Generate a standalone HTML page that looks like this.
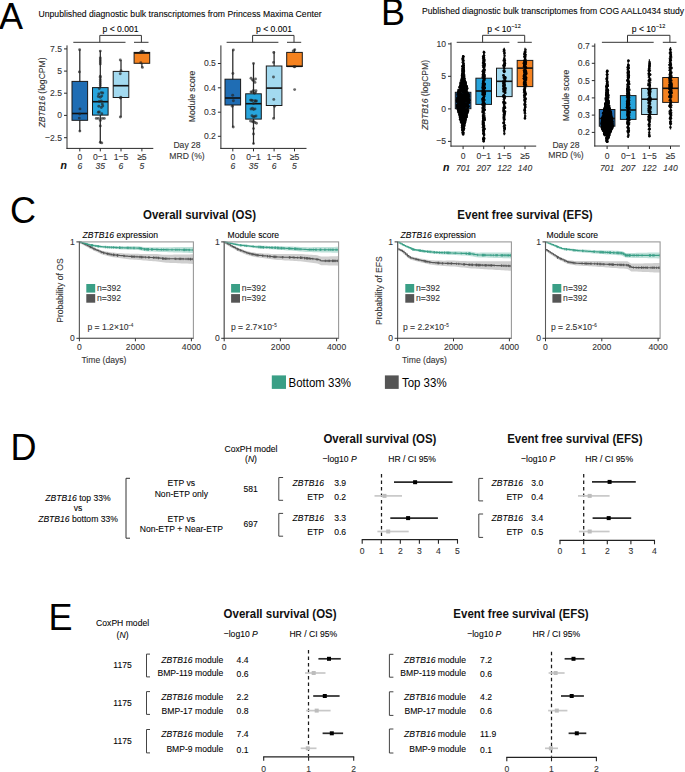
<!DOCTYPE html>
<html><head><meta charset="utf-8"><style>
html,body{margin:0;padding:0;background:#fff;width:685px;height:772px;overflow:hidden}
svg{display:block}
text{font-family:"Liberation Sans", sans-serif}
</style></head><body>
<svg width="685" height="772" viewBox="0 0 685 772">
<rect width="685" height="772" fill="#fff"/>
<text x="-1.00" y="28.90" font-size="36" fill="#000">A</text>
<text x="381.00" y="24.80" font-size="36" fill="#000">B</text>
<text x="10.00" y="223.20" font-size="36" fill="#000">C</text>
<text x="10.60" y="460.00" font-size="36" fill="#000">D</text>
<text x="48.40" y="629.90" font-size="36" fill="#000">E</text>
<text x="0" y="0" font-size="9.34" transform="translate(38.50,17.20) scale(0.9259,1)" stroke="#222" stroke-width="0.1">Unpublished diagnostic bulk transcriptomes from Princess Maxima Center</text>
<text x="0" y="0" font-size="9.29" transform="translate(120.50,31.80) scale(0.9259,1)" text-anchor="middle" stroke="#222" stroke-width="0.1">p &lt; 0.001</text>
<line x1="73.30" y1="42.30" x2="125.50" y2="42.30" stroke="#333" stroke-width="1"/>
<line x1="134.00" y1="42.30" x2="148.50" y2="42.30" stroke="#333" stroke-width="1"/>
<path d="M99.80,42.30 L99.80,35.40 L141.40,35.40 L141.40,42.30" stroke="#333" stroke-width="1" fill="none"/>
<line x1="79.80" y1="49.60" x2="79.80" y2="131.50" stroke="#262626" stroke-width="1.25"/>
<line x1="100.30" y1="50.80" x2="100.30" y2="143.40" stroke="#262626" stroke-width="1.25"/>
<line x1="121.00" y1="60.10" x2="121.00" y2="117.20" stroke="#262626" stroke-width="1.25"/>
<line x1="141.90" y1="51.20" x2="141.90" y2="67.60" stroke="#262626" stroke-width="1.25"/>
<rect x="72.00" y="81.40" width="15.60" height="38.90" fill="#1f6db4" stroke="#1a1a1a" stroke-width="1"/>
<rect x="92.50" y="87.60" width="15.60" height="27.50" fill="#27a4dc" stroke="#1a1a1a" stroke-width="1"/>
<rect x="113.20" y="71.40" width="15.60" height="26.10" fill="#a3daf0" stroke="#1a1a1a" stroke-width="1"/>
<rect x="134.10" y="52.40" width="15.60" height="10.90" fill="#f5821f" stroke="#1a1a1a" stroke-width="1"/>
<line x1="72.00" y1="113.50" x2="87.60" y2="113.50" stroke="#111" stroke-width="1.6"/>
<line x1="92.50" y1="101.70" x2="108.10" y2="101.70" stroke="#111" stroke-width="1.6"/>
<line x1="113.20" y1="85.70" x2="128.80" y2="85.70" stroke="#111" stroke-width="1.6"/>
<line x1="134.10" y1="53.00" x2="149.70" y2="53.00" stroke="#111" stroke-width="1.6"/>
<g fill="rgba(35,35,35,0.68)">
<circle cx="79.59" cy="49.80" r="1.45"/>
<circle cx="79.38" cy="71.90" r="1.45"/>
<circle cx="79.98" cy="108.90" r="1.45"/>
<circle cx="79.29" cy="118.10" r="1.45"/>
<circle cx="79.84" cy="131.10" r="1.45"/>
<circle cx="79.64" cy="114.00" r="1.45"/>
<circle cx="100.30" cy="51.10" r="1.45"/>
<circle cx="100.30" cy="57.90" r="1.45"/>
<circle cx="100.30" cy="60.00" r="1.45"/>
<circle cx="100.30" cy="62.00" r="1.45"/>
<circle cx="100.30" cy="64.00" r="1.45"/>
<circle cx="100.30" cy="76.30" r="1.45"/>
<circle cx="100.30" cy="77.60" r="1.45"/>
<circle cx="100.30" cy="79.70" r="1.45"/>
<circle cx="100.30" cy="81.70" r="1.45"/>
<circle cx="100.30" cy="83.70" r="1.45"/>
<circle cx="100.30" cy="85.80" r="1.45"/>
<circle cx="99.30" cy="88.50" r="1.45"/>
<circle cx="101.30" cy="92.60" r="1.45"/>
<circle cx="98.80" cy="93.90" r="1.45"/>
<circle cx="101.80" cy="96.00" r="1.45"/>
<circle cx="100.30" cy="97.30" r="1.45"/>
<circle cx="99.30" cy="101.40" r="1.45"/>
<circle cx="102.30" cy="104.10" r="1.45"/>
<circle cx="98.80" cy="106.20" r="1.45"/>
<circle cx="101.30" cy="107.50" r="1.45"/>
<circle cx="98.30" cy="112.30" r="1.45"/>
<circle cx="101.80" cy="113.70" r="1.45"/>
<circle cx="96.30" cy="118.40" r="1.45"/>
<circle cx="98.30" cy="118.40" r="1.45"/>
<circle cx="102.30" cy="118.40" r="1.45"/>
<circle cx="104.30" cy="118.40" r="1.45"/>
<circle cx="100.30" cy="120.40" r="1.45"/>
<circle cx="100.30" cy="125.90" r="1.45"/>
<circle cx="100.30" cy="142.20" r="1.45"/>
<circle cx="101.80" cy="142.90" r="1.45"/>
<circle cx="102.80" cy="93.00" r="1.45"/>
<circle cx="98.30" cy="96.50" r="1.45"/>
<circle cx="102.80" cy="106.00" r="1.45"/>
<circle cx="99.30" cy="112.00" r="1.45"/>
<circle cx="101.30" cy="101.00" r="1.45"/>
<circle cx="120.29" cy="60.00" r="1.45"/>
<circle cx="121.01" cy="70.80" r="1.45"/>
<circle cx="120.26" cy="73.80" r="1.45"/>
<circle cx="120.89" cy="97.30" r="1.45"/>
<circle cx="120.31" cy="98.00" r="1.45"/>
<circle cx="120.35" cy="117.00" r="1.45"/>
<circle cx="141.60" cy="51.10" r="1.45"/>
<circle cx="143.21" cy="51.50" r="1.45"/>
<circle cx="140.40" cy="52.50" r="1.45"/>
<circle cx="140.79" cy="62.70" r="1.45"/>
<circle cx="142.41" cy="67.40" r="1.45"/>
</g>
<line x1="67.00" y1="45.40" x2="67.00" y2="148.90" stroke="#2a2a2a" stroke-width="1"/>
<line x1="66.50" y1="148.40" x2="153.30" y2="148.40" stroke="#2a2a2a" stroke-width="1"/>
<line x1="64.00" y1="48.90" x2="67.00" y2="48.90" stroke="#2a2a2a" stroke-width="1"/>
<text x="0" y="0" font-size="9.29" transform="translate(62.00,51.80) scale(0.9259,1)" text-anchor="end" fill="#333" stroke="#333" stroke-width="0.1">7.5</text>
<line x1="64.00" y1="71.10" x2="67.00" y2="71.10" stroke="#2a2a2a" stroke-width="1"/>
<text x="0" y="0" font-size="9.29" transform="translate(62.00,74.00) scale(0.9259,1)" text-anchor="end" fill="#333" stroke="#333" stroke-width="0.1">5</text>
<line x1="64.00" y1="93.20" x2="67.00" y2="93.20" stroke="#2a2a2a" stroke-width="1"/>
<text x="0" y="0" font-size="9.29" transform="translate(62.00,96.10) scale(0.9259,1)" text-anchor="end" fill="#333" stroke="#333" stroke-width="0.1">2.5</text>
<line x1="64.00" y1="115.40" x2="67.00" y2="115.40" stroke="#2a2a2a" stroke-width="1"/>
<text x="0" y="0" font-size="9.29" transform="translate(62.00,118.30) scale(0.9259,1)" text-anchor="end" fill="#333" stroke="#333" stroke-width="0.1">0</text>
<line x1="64.00" y1="137.70" x2="67.00" y2="137.70" stroke="#2a2a2a" stroke-width="1"/>
<text x="0" y="0" font-size="9.29" transform="translate(62.00,140.60) scale(0.9259,1)" text-anchor="end" fill="#333" stroke="#333" stroke-width="0.1">−2.5</text>
<line x1="79.80" y1="148.40" x2="79.80" y2="151.40" stroke="#2a2a2a" stroke-width="1"/>
<text x="0" y="0" font-size="9.29" transform="translate(79.80,159.60) scale(0.9259,1)" text-anchor="middle" fill="#333" stroke="#333" stroke-width="0.1">0</text>
<text x="0" y="0" font-size="9.29" transform="translate(79.80,168.80) scale(0.9259,1)" text-anchor="middle" font-style="italic" fill="#333" stroke="#333" stroke-width="0.1">6</text>
<line x1="100.30" y1="148.40" x2="100.30" y2="151.40" stroke="#2a2a2a" stroke-width="1"/>
<text x="0" y="0" font-size="9.29" transform="translate(100.30,159.60) scale(0.9259,1)" text-anchor="middle" fill="#333" stroke="#333" stroke-width="0.1">0−1</text>
<text x="0" y="0" font-size="9.29" transform="translate(100.30,168.80) scale(0.9259,1)" text-anchor="middle" font-style="italic" fill="#333" stroke="#333" stroke-width="0.1">35</text>
<line x1="121.00" y1="148.40" x2="121.00" y2="151.40" stroke="#2a2a2a" stroke-width="1"/>
<text x="0" y="0" font-size="9.29" transform="translate(121.00,159.60) scale(0.9259,1)" text-anchor="middle" fill="#333" stroke="#333" stroke-width="0.1">1−5</text>
<text x="0" y="0" font-size="9.29" transform="translate(121.00,168.80) scale(0.9259,1)" text-anchor="middle" font-style="italic" fill="#333" stroke="#333" stroke-width="0.1">6</text>
<line x1="141.90" y1="148.40" x2="141.90" y2="151.40" stroke="#2a2a2a" stroke-width="1"/>
<text x="0" y="0" font-size="9.29" transform="translate(141.90,159.60) scale(0.9259,1)" text-anchor="middle" fill="#333" stroke="#333" stroke-width="0.1">≥5</text>
<text x="0" y="0" font-size="9.29" transform="translate(141.90,168.80) scale(0.9259,1)" text-anchor="middle" font-style="italic" fill="#333" stroke="#333" stroke-width="0.1">5</text>
<text x="0" y="0" font-size="9.29" text-anchor="middle" fill="#333" stroke="#333" stroke-width="0.1" transform="translate(45.00,92.50) rotate(-90) scale(0.9259,1)"><tspan font-style="italic">ZBTB16</tspan> (logCPM)</text>
<text x="0" y="0" font-size="11.34" transform="translate(66.80,169.00) scale(0.9259,1)" text-anchor="end" font-weight="bold" font-style="italic" fill="#111" stroke="#111" stroke-width="0.1">n</text>
<text x="0" y="0" font-size="9.29" transform="translate(274.00,31.80) scale(0.9259,1)" text-anchor="middle" stroke="#222" stroke-width="0.1">p &lt; 0.001</text>
<line x1="226.60" y1="42.30" x2="278.40" y2="42.30" stroke="#333" stroke-width="1"/>
<line x1="287.00" y1="42.30" x2="301.20" y2="42.30" stroke="#333" stroke-width="1"/>
<path d="M252.60,42.30 L252.60,35.40 L294.00,35.40 L294.00,42.30" stroke="#333" stroke-width="1" fill="none"/>
<line x1="232.80" y1="49.60" x2="232.80" y2="127.30" stroke="#262626" stroke-width="1.25"/>
<line x1="253.50" y1="63.30" x2="253.50" y2="144.00" stroke="#262626" stroke-width="1.25"/>
<line x1="274.10" y1="51.60" x2="274.10" y2="118.60" stroke="#262626" stroke-width="1.25"/>
<line x1="294.50" y1="49.10" x2="294.50" y2="66.50" stroke="#262626" stroke-width="1.25"/>
<rect x="225.00" y="79.20" width="15.60" height="25.80" fill="#1f6db4" stroke="#1a1a1a" stroke-width="1"/>
<rect x="245.70" y="93.80" width="15.60" height="25.30" fill="#27a4dc" stroke="#1a1a1a" stroke-width="1"/>
<rect x="266.30" y="66.00" width="15.60" height="39.50" fill="#a3daf0" stroke="#1a1a1a" stroke-width="1"/>
<rect x="286.70" y="52.40" width="15.60" height="14.10" fill="#f5821f" stroke="#1a1a1a" stroke-width="1"/>
<line x1="225.00" y1="98.00" x2="240.60" y2="98.00" stroke="#111" stroke-width="1.6"/>
<line x1="245.70" y1="103.70" x2="261.30" y2="103.70" stroke="#111" stroke-width="1.6"/>
<line x1="266.30" y1="88.10" x2="281.90" y2="88.10" stroke="#111" stroke-width="1.6"/>
<line x1="286.70" y1="66.30" x2="302.30" y2="66.30" stroke="#111" stroke-width="1.6"/>
<g fill="rgba(35,35,35,0.68)">
<circle cx="233.34" cy="50.00" r="1.45"/>
<circle cx="232.89" cy="73.50" r="1.45"/>
<circle cx="232.68" cy="95.30" r="1.45"/>
<circle cx="233.37" cy="100.70" r="1.45"/>
<circle cx="232.26" cy="106.20" r="1.45"/>
<circle cx="233.23" cy="127.00" r="1.45"/>
<circle cx="253.50" cy="63.40" r="1.45"/>
<circle cx="251.00" cy="78.30" r="1.45"/>
<circle cx="255.50" cy="79.00" r="1.45"/>
<circle cx="253.50" cy="80.60" r="1.45"/>
<circle cx="255.00" cy="82.40" r="1.45"/>
<circle cx="253.50" cy="90.50" r="1.45"/>
<circle cx="252.00" cy="91.90" r="1.45"/>
<circle cx="255.50" cy="92.60" r="1.45"/>
<circle cx="254.50" cy="93.30" r="1.45"/>
<circle cx="250.50" cy="100.10" r="1.45"/>
<circle cx="252.50" cy="100.50" r="1.45"/>
<circle cx="255.00" cy="100.70" r="1.45"/>
<circle cx="256.50" cy="101.00" r="1.45"/>
<circle cx="253.50" cy="103.50" r="1.45"/>
<circle cx="252.50" cy="108.20" r="1.45"/>
<circle cx="255.00" cy="108.90" r="1.45"/>
<circle cx="253.50" cy="109.60" r="1.45"/>
<circle cx="252.00" cy="115.70" r="1.45"/>
<circle cx="254.50" cy="116.40" r="1.45"/>
<circle cx="253.50" cy="117.00" r="1.45"/>
<circle cx="250.50" cy="121.10" r="1.45"/>
<circle cx="252.50" cy="121.80" r="1.45"/>
<circle cx="255.00" cy="122.50" r="1.45"/>
<circle cx="256.50" cy="123.20" r="1.45"/>
<circle cx="253.50" cy="128.60" r="1.45"/>
<circle cx="253.50" cy="134.00" r="1.45"/>
<circle cx="253.50" cy="143.60" r="1.45"/>
<circle cx="256.00" cy="90.80" r="1.45"/>
<circle cx="251.50" cy="100.30" r="1.45"/>
<circle cx="255.50" cy="101.20" r="1.45"/>
<circle cx="251.00" cy="109.00" r="1.45"/>
<circle cx="256.00" cy="116.00" r="1.45"/>
<circle cx="253.50" cy="121.50" r="1.45"/>
<circle cx="251.00" cy="92.00" r="1.45"/>
<circle cx="252.50" cy="80.00" r="1.45"/>
<circle cx="273.76" cy="52.50" r="1.45"/>
<circle cx="273.53" cy="62.40" r="1.45"/>
<circle cx="273.49" cy="77.00" r="1.45"/>
<circle cx="273.79" cy="99.40" r="1.45"/>
<circle cx="274.61" cy="106.20" r="1.45"/>
<circle cx="273.59" cy="118.40" r="1.45"/>
<circle cx="294.74" cy="49.80" r="1.45"/>
<circle cx="294.92" cy="66.80" r="1.45"/>
<circle cx="294.12" cy="66.80" r="1.45"/>
<circle cx="294.64" cy="89.60" r="1.45"/>
<circle cx="293.19" cy="51.00" r="1.45"/>
</g>
<line x1="220.90" y1="45.40" x2="220.90" y2="148.90" stroke="#2a2a2a" stroke-width="1"/>
<line x1="220.40" y1="148.40" x2="306.50" y2="148.40" stroke="#2a2a2a" stroke-width="1"/>
<line x1="217.90" y1="63.50" x2="220.90" y2="63.50" stroke="#2a2a2a" stroke-width="1"/>
<text x="0" y="0" font-size="9.29" transform="translate(215.90,66.40) scale(0.9259,1)" text-anchor="end" fill="#333" stroke="#333" stroke-width="0.1">0.5</text>
<line x1="217.90" y1="87.80" x2="220.90" y2="87.80" stroke="#2a2a2a" stroke-width="1"/>
<text x="0" y="0" font-size="9.29" transform="translate(215.90,90.70) scale(0.9259,1)" text-anchor="end" fill="#333" stroke="#333" stroke-width="0.1">0.4</text>
<line x1="217.90" y1="112.20" x2="220.90" y2="112.20" stroke="#2a2a2a" stroke-width="1"/>
<text x="0" y="0" font-size="9.29" transform="translate(215.90,115.10) scale(0.9259,1)" text-anchor="end" fill="#333" stroke="#333" stroke-width="0.1">0.3</text>
<line x1="217.90" y1="136.30" x2="220.90" y2="136.30" stroke="#2a2a2a" stroke-width="1"/>
<text x="0" y="0" font-size="9.29" transform="translate(215.90,139.20) scale(0.9259,1)" text-anchor="end" fill="#333" stroke="#333" stroke-width="0.1">0.2</text>
<line x1="232.80" y1="148.40" x2="232.80" y2="151.40" stroke="#2a2a2a" stroke-width="1"/>
<text x="0" y="0" font-size="9.29" transform="translate(232.80,159.60) scale(0.9259,1)" text-anchor="middle" fill="#333" stroke="#333" stroke-width="0.1">0</text>
<text x="0" y="0" font-size="9.29" transform="translate(232.80,168.80) scale(0.9259,1)" text-anchor="middle" font-style="italic" fill="#333" stroke="#333" stroke-width="0.1">6</text>
<line x1="253.50" y1="148.40" x2="253.50" y2="151.40" stroke="#2a2a2a" stroke-width="1"/>
<text x="0" y="0" font-size="9.29" transform="translate(253.50,159.60) scale(0.9259,1)" text-anchor="middle" fill="#333" stroke="#333" stroke-width="0.1">0−1</text>
<text x="0" y="0" font-size="9.29" transform="translate(253.50,168.80) scale(0.9259,1)" text-anchor="middle" font-style="italic" fill="#333" stroke="#333" stroke-width="0.1">35</text>
<line x1="274.10" y1="148.40" x2="274.10" y2="151.40" stroke="#2a2a2a" stroke-width="1"/>
<text x="0" y="0" font-size="9.29" transform="translate(274.10,159.60) scale(0.9259,1)" text-anchor="middle" fill="#333" stroke="#333" stroke-width="0.1">1−5</text>
<text x="0" y="0" font-size="9.29" transform="translate(274.10,168.80) scale(0.9259,1)" text-anchor="middle" font-style="italic" fill="#333" stroke="#333" stroke-width="0.1">6</text>
<line x1="294.50" y1="148.40" x2="294.50" y2="151.40" stroke="#2a2a2a" stroke-width="1"/>
<text x="0" y="0" font-size="9.29" transform="translate(294.50,159.60) scale(0.9259,1)" text-anchor="middle" fill="#333" stroke="#333" stroke-width="0.1">≥5</text>
<text x="0" y="0" font-size="9.29" transform="translate(294.50,168.80) scale(0.9259,1)" text-anchor="middle" font-style="italic" fill="#333" stroke="#333" stroke-width="0.1">5</text>
<text x="0" y="0" font-size="9.29" text-anchor="middle" fill="#333" stroke="#333" stroke-width="0.1" transform="translate(195.30,96.40) rotate(-90) scale(0.9259,1)">Module score</text>
<text x="0" y="0" font-size="9.29" transform="translate(187.00,148.00) scale(0.9259,1)" text-anchor="middle" fill="#333" stroke="#333" stroke-width="0.1">Day 28</text>
<text x="0" y="0" font-size="9.29" transform="translate(187.00,158.80) scale(0.9259,1)" text-anchor="middle" fill="#333" stroke="#333" stroke-width="0.1">MRD (%)</text>
<text x="0" y="0" font-size="9.29" transform="translate(422.00,14.20) scale(0.9259,1)" stroke="#222" stroke-width="0.1">Published diagnostic bulk transcriptomes from COG AALL0434 study</text>
<text x="0" y="0" font-size="9.29" transform="translate(504.00,31.80) scale(0.9259,1)" text-anchor="middle" stroke="#222" stroke-width="0.1">p &lt; 10<tspan font-size="5.94" dy="-3.5">−12</tspan></text>
<line x1="456.70" y1="42.30" x2="509.40" y2="42.30" stroke="#333" stroke-width="1"/>
<line x1="517.60" y1="42.30" x2="531.80" y2="42.30" stroke="#333" stroke-width="1"/>
<path d="M482.60,42.30 L482.60,35.30 L524.70,35.30 L524.70,42.30" stroke="#333" stroke-width="1" fill="none"/>
<line x1="463.10" y1="55.00" x2="463.10" y2="134.70" stroke="#262626" stroke-width="1.25"/>
<line x1="483.70" y1="50.70" x2="483.70" y2="142.30" stroke="#262626" stroke-width="1.25"/>
<line x1="504.30" y1="47.80" x2="504.30" y2="135.20" stroke="#262626" stroke-width="1.25"/>
<line x1="525.00" y1="47.80" x2="525.00" y2="119.00" stroke="#262626" stroke-width="1.25"/>
<rect x="455.30" y="92.30" width="15.60" height="16.40" fill="#1f6db4" stroke="#1a1a1a" stroke-width="1"/>
<rect x="475.90" y="78.20" width="15.60" height="26.20" fill="#27a4dc" stroke="#1a1a1a" stroke-width="1"/>
<rect x="496.50" y="68.20" width="15.60" height="28.40" fill="#a3daf0" stroke="#1a1a1a" stroke-width="1"/>
<rect x="517.20" y="60.40" width="15.60" height="26.20" fill="#f5821f" stroke="#1a1a1a" stroke-width="1"/>
<line x1="455.30" y1="100.30" x2="470.90" y2="100.30" stroke="#111" stroke-width="1.6"/>
<line x1="475.90" y1="91.00" x2="491.50" y2="91.00" stroke="#111" stroke-width="1.6"/>
<line x1="496.50" y1="81.30" x2="512.10" y2="81.30" stroke="#111" stroke-width="1.6"/>
<line x1="517.20" y1="68.10" x2="532.80" y2="68.10" stroke="#111" stroke-width="1.6"/>
<g fill="rgba(0,0,0,0.85)">
<circle cx="461.12" cy="109.23" r="1.25"/>
<circle cx="460.62" cy="101.67" r="1.25"/>
<circle cx="465.82" cy="96.86" r="1.25"/>
<circle cx="463.01" cy="115.34" r="1.25"/>
<circle cx="465.93" cy="115.94" r="1.25"/>
<circle cx="462.56" cy="102.37" r="1.25"/>
<circle cx="458.44" cy="92.79" r="1.25"/>
<circle cx="468.01" cy="110.91" r="1.25"/>
<circle cx="462.50" cy="120.51" r="1.25"/>
<circle cx="462.68" cy="108.29" r="1.25"/>
<circle cx="467.01" cy="98.79" r="1.25"/>
<circle cx="462.80" cy="123.86" r="1.25"/>
<circle cx="456.98" cy="101.95" r="1.25"/>
<circle cx="463.66" cy="88.39" r="1.25"/>
<circle cx="465.16" cy="96.08" r="1.25"/>
<circle cx="462.47" cy="118.59" r="1.25"/>
<circle cx="462.85" cy="59.96" r="1.25"/>
<circle cx="462.82" cy="59.19" r="1.25"/>
<circle cx="460.08" cy="103.94" r="1.25"/>
<circle cx="461.24" cy="82.69" r="1.25"/>
<circle cx="458.81" cy="92.14" r="1.25"/>
<circle cx="463.72" cy="67.87" r="1.25"/>
<circle cx="463.61" cy="97.10" r="1.25"/>
<circle cx="461.75" cy="110.49" r="1.25"/>
<circle cx="461.06" cy="97.45" r="1.25"/>
<circle cx="463.25" cy="113.97" r="1.25"/>
<circle cx="460.63" cy="83.34" r="1.25"/>
<circle cx="461.58" cy="84.06" r="1.25"/>
<circle cx="467.22" cy="104.74" r="1.25"/>
<circle cx="466.33" cy="93.21" r="1.25"/>
<circle cx="460.49" cy="114.79" r="1.25"/>
<circle cx="465.07" cy="117.89" r="1.25"/>
<circle cx="459.70" cy="112.77" r="1.25"/>
<circle cx="465.01" cy="119.28" r="1.25"/>
<circle cx="463.67" cy="65.44" r="1.25"/>
<circle cx="468.16" cy="106.78" r="1.25"/>
<circle cx="461.84" cy="120.84" r="1.25"/>
<circle cx="462.10" cy="101.74" r="1.25"/>
<circle cx="462.12" cy="101.49" r="1.25"/>
<circle cx="457.34" cy="97.39" r="1.25"/>
<circle cx="458.37" cy="90.08" r="1.25"/>
<circle cx="462.94" cy="118.69" r="1.25"/>
<circle cx="461.52" cy="112.80" r="1.25"/>
<circle cx="466.44" cy="96.31" r="1.25"/>
<circle cx="463.55" cy="116.55" r="1.25"/>
<circle cx="463.15" cy="90.33" r="1.25"/>
<circle cx="462.54" cy="95.82" r="1.25"/>
<circle cx="468.40" cy="97.50" r="1.25"/>
<circle cx="467.32" cy="99.59" r="1.25"/>
<circle cx="460.61" cy="90.24" r="1.25"/>
<circle cx="467.44" cy="107.62" r="1.25"/>
<circle cx="462.77" cy="121.35" r="1.25"/>
<circle cx="459.53" cy="96.09" r="1.25"/>
<circle cx="461.49" cy="90.10" r="1.25"/>
<circle cx="457.83" cy="104.73" r="1.25"/>
<circle cx="463.80" cy="76.17" r="1.25"/>
<circle cx="462.90" cy="76.55" r="1.25"/>
<circle cx="464.11" cy="75.61" r="1.25"/>
<circle cx="457.98" cy="100.48" r="1.25"/>
<circle cx="466.93" cy="88.90" r="1.25"/>
<circle cx="458.09" cy="105.56" r="1.25"/>
<circle cx="464.51" cy="123.24" r="1.25"/>
<circle cx="463.63" cy="91.17" r="1.25"/>
<circle cx="462.37" cy="74.00" r="1.25"/>
<circle cx="463.10" cy="115.53" r="1.25"/>
<circle cx="462.79" cy="98.92" r="1.25"/>
<circle cx="463.72" cy="129.49" r="1.25"/>
<circle cx="466.15" cy="89.44" r="1.25"/>
<circle cx="464.40" cy="86.33" r="1.25"/>
<circle cx="461.27" cy="105.69" r="1.25"/>
<circle cx="462.11" cy="75.37" r="1.25"/>
<circle cx="460.27" cy="108.44" r="1.25"/>
<circle cx="459.92" cy="92.83" r="1.25"/>
<circle cx="460.38" cy="95.23" r="1.25"/>
<circle cx="462.96" cy="58.32" r="1.25"/>
<circle cx="464.98" cy="97.18" r="1.25"/>
<circle cx="466.36" cy="86.04" r="1.25"/>
<circle cx="467.09" cy="106.26" r="1.25"/>
<circle cx="466.62" cy="95.20" r="1.25"/>
<circle cx="458.31" cy="110.26" r="1.25"/>
<circle cx="464.67" cy="99.51" r="1.25"/>
<circle cx="457.81" cy="109.25" r="1.25"/>
<circle cx="464.93" cy="95.09" r="1.25"/>
<circle cx="462.55" cy="75.10" r="1.25"/>
<circle cx="465.24" cy="113.13" r="1.25"/>
<circle cx="464.27" cy="85.49" r="1.25"/>
<circle cx="458.90" cy="106.23" r="1.25"/>
<circle cx="460.95" cy="110.17" r="1.25"/>
<circle cx="462.71" cy="96.17" r="1.25"/>
<circle cx="463.02" cy="129.62" r="1.25"/>
<circle cx="460.25" cy="90.82" r="1.25"/>
<circle cx="463.40" cy="101.34" r="1.25"/>
<circle cx="457.64" cy="93.75" r="1.25"/>
<circle cx="460.89" cy="94.19" r="1.25"/>
<circle cx="465.04" cy="121.88" r="1.25"/>
<circle cx="462.21" cy="101.96" r="1.25"/>
<circle cx="462.05" cy="76.93" r="1.25"/>
<circle cx="465.16" cy="121.52" r="1.25"/>
<circle cx="461.63" cy="95.72" r="1.25"/>
<circle cx="457.58" cy="98.77" r="1.25"/>
<circle cx="465.33" cy="113.37" r="1.25"/>
<circle cx="457.76" cy="106.37" r="1.25"/>
<circle cx="463.04" cy="128.86" r="1.25"/>
<circle cx="464.25" cy="82.39" r="1.25"/>
<circle cx="463.76" cy="107.28" r="1.25"/>
<circle cx="460.73" cy="86.43" r="1.25"/>
<circle cx="467.71" cy="94.62" r="1.25"/>
<circle cx="463.29" cy="87.90" r="1.25"/>
<circle cx="460.46" cy="85.04" r="1.25"/>
<circle cx="459.67" cy="105.18" r="1.25"/>
<circle cx="466.41" cy="86.86" r="1.25"/>
<circle cx="463.23" cy="56.74" r="1.25"/>
<circle cx="461.76" cy="101.80" r="1.25"/>
<circle cx="462.31" cy="74.80" r="1.25"/>
<circle cx="468.32" cy="96.63" r="1.25"/>
<circle cx="465.55" cy="112.52" r="1.25"/>
<circle cx="458.46" cy="91.45" r="1.25"/>
<circle cx="465.97" cy="117.35" r="1.25"/>
<circle cx="458.70" cy="106.45" r="1.25"/>
<circle cx="458.78" cy="110.68" r="1.25"/>
<circle cx="461.77" cy="96.80" r="1.25"/>
<circle cx="462.81" cy="106.37" r="1.25"/>
<circle cx="463.09" cy="79.50" r="1.25"/>
<circle cx="460.47" cy="108.75" r="1.25"/>
<circle cx="462.78" cy="73.07" r="1.25"/>
<circle cx="460.58" cy="113.91" r="1.25"/>
<circle cx="461.62" cy="120.35" r="1.25"/>
<circle cx="466.58" cy="115.61" r="1.25"/>
<circle cx="459.97" cy="94.51" r="1.25"/>
<circle cx="466.40" cy="86.36" r="1.25"/>
<circle cx="462.54" cy="66.31" r="1.25"/>
<circle cx="464.97" cy="81.24" r="1.25"/>
<circle cx="464.46" cy="114.48" r="1.25"/>
<circle cx="462.07" cy="85.18" r="1.25"/>
<circle cx="462.79" cy="68.49" r="1.25"/>
<circle cx="462.86" cy="89.47" r="1.25"/>
<circle cx="462.85" cy="126.49" r="1.25"/>
<circle cx="462.78" cy="58.24" r="1.25"/>
<circle cx="465.22" cy="82.02" r="1.25"/>
<circle cx="465.73" cy="104.17" r="1.25"/>
<circle cx="461.21" cy="80.22" r="1.25"/>
<circle cx="457.37" cy="105.53" r="1.25"/>
<circle cx="462.64" cy="85.81" r="1.25"/>
<circle cx="462.52" cy="81.13" r="1.25"/>
<circle cx="461.03" cy="117.35" r="1.25"/>
<circle cx="459.62" cy="115.00" r="1.25"/>
<circle cx="462.09" cy="76.11" r="1.25"/>
<circle cx="462.50" cy="94.73" r="1.25"/>
<circle cx="466.11" cy="104.44" r="1.25"/>
<circle cx="463.96" cy="74.55" r="1.25"/>
<circle cx="461.81" cy="101.09" r="1.25"/>
<circle cx="462.60" cy="127.88" r="1.25"/>
<circle cx="463.26" cy="130.37" r="1.25"/>
<circle cx="461.51" cy="104.41" r="1.25"/>
<circle cx="457.43" cy="106.94" r="1.25"/>
<circle cx="458.22" cy="98.68" r="1.25"/>
<circle cx="464.08" cy="86.51" r="1.25"/>
<circle cx="460.90" cy="110.42" r="1.25"/>
<circle cx="465.03" cy="83.47" r="1.25"/>
<circle cx="463.78" cy="71.23" r="1.25"/>
<circle cx="458.15" cy="91.73" r="1.25"/>
<circle cx="468.14" cy="98.96" r="1.25"/>
<circle cx="458.48" cy="96.54" r="1.25"/>
<circle cx="468.30" cy="94.09" r="1.25"/>
<circle cx="463.82" cy="70.73" r="1.25"/>
<circle cx="458.98" cy="104.44" r="1.25"/>
<circle cx="462.46" cy="117.63" r="1.25"/>
<circle cx="462.25" cy="86.86" r="1.25"/>
<circle cx="465.74" cy="115.37" r="1.25"/>
<circle cx="460.72" cy="98.84" r="1.25"/>
<circle cx="462.47" cy="88.48" r="1.25"/>
<circle cx="462.40" cy="107.51" r="1.25"/>
<circle cx="466.03" cy="94.01" r="1.25"/>
<circle cx="460.88" cy="117.16" r="1.25"/>
<circle cx="459.17" cy="92.72" r="1.25"/>
<circle cx="462.58" cy="89.32" r="1.25"/>
<circle cx="464.69" cy="95.66" r="1.25"/>
<circle cx="459.97" cy="116.98" r="1.25"/>
<circle cx="468.30" cy="95.16" r="1.25"/>
<circle cx="465.76" cy="119.95" r="1.25"/>
<circle cx="463.78" cy="128.01" r="1.25"/>
<circle cx="462.80" cy="129.17" r="1.25"/>
<circle cx="466.22" cy="115.27" r="1.25"/>
<circle cx="461.86" cy="80.43" r="1.25"/>
<circle cx="467.58" cy="105.71" r="1.25"/>
<circle cx="467.82" cy="99.25" r="1.25"/>
<circle cx="466.69" cy="105.19" r="1.25"/>
<circle cx="466.39" cy="101.02" r="1.25"/>
<circle cx="465.44" cy="90.25" r="1.25"/>
<circle cx="457.52" cy="107.90" r="1.25"/>
<circle cx="463.25" cy="104.10" r="1.25"/>
<circle cx="462.33" cy="126.37" r="1.25"/>
<circle cx="457.35" cy="107.05" r="1.25"/>
<circle cx="462.35" cy="83.29" r="1.25"/>
<circle cx="464.63" cy="101.95" r="1.25"/>
<circle cx="467.75" cy="92.85" r="1.25"/>
<circle cx="462.20" cy="74.41" r="1.25"/>
<circle cx="466.49" cy="105.87" r="1.25"/>
<circle cx="459.47" cy="87.04" r="1.25"/>
<circle cx="461.33" cy="106.40" r="1.25"/>
<circle cx="468.26" cy="106.45" r="1.25"/>
<circle cx="466.64" cy="113.46" r="1.25"/>
<circle cx="459.72" cy="87.36" r="1.25"/>
<circle cx="463.45" cy="117.08" r="1.25"/>
<circle cx="462.56" cy="129.99" r="1.25"/>
<circle cx="464.83" cy="103.46" r="1.25"/>
<circle cx="462.04" cy="119.83" r="1.25"/>
<circle cx="464.36" cy="78.93" r="1.25"/>
<circle cx="465.11" cy="114.39" r="1.25"/>
<circle cx="459.18" cy="91.06" r="1.25"/>
<circle cx="462.76" cy="73.51" r="1.25"/>
<circle cx="464.78" cy="96.70" r="1.25"/>
<circle cx="462.34" cy="125.14" r="1.25"/>
<circle cx="464.83" cy="81.19" r="1.25"/>
<circle cx="465.09" cy="105.27" r="1.25"/>
<circle cx="461.35" cy="112.75" r="1.25"/>
<circle cx="462.60" cy="66.52" r="1.25"/>
<circle cx="462.52" cy="66.30" r="1.25"/>
<circle cx="465.12" cy="110.20" r="1.25"/>
<circle cx="463.88" cy="113.72" r="1.25"/>
<circle cx="463.49" cy="63.92" r="1.25"/>
<circle cx="461.98" cy="77.90" r="1.25"/>
<circle cx="461.69" cy="115.36" r="1.25"/>
<circle cx="461.00" cy="88.77" r="1.25"/>
<circle cx="465.74" cy="84.33" r="1.25"/>
<circle cx="464.46" cy="95.15" r="1.25"/>
<circle cx="467.47" cy="97.87" r="1.25"/>
<circle cx="462.68" cy="68.58" r="1.25"/>
<circle cx="459.58" cy="94.17" r="1.25"/>
<circle cx="466.84" cy="94.42" r="1.25"/>
<circle cx="463.65" cy="77.61" r="1.25"/>
<circle cx="464.65" cy="94.72" r="1.25"/>
<circle cx="464.39" cy="110.56" r="1.25"/>
<circle cx="462.55" cy="83.34" r="1.25"/>
<circle cx="464.24" cy="125.97" r="1.25"/>
<circle cx="467.51" cy="94.94" r="1.25"/>
<circle cx="466.13" cy="97.36" r="1.25"/>
<circle cx="461.06" cy="106.51" r="1.25"/>
<circle cx="459.38" cy="107.77" r="1.25"/>
<circle cx="462.63" cy="101.16" r="1.25"/>
<circle cx="462.16" cy="125.54" r="1.25"/>
<circle cx="461.59" cy="122.24" r="1.25"/>
<circle cx="461.07" cy="96.62" r="1.25"/>
<circle cx="467.24" cy="113.08" r="1.25"/>
<circle cx="460.43" cy="113.44" r="1.25"/>
<circle cx="459.57" cy="105.85" r="1.25"/>
<circle cx="462.43" cy="85.95" r="1.25"/>
<circle cx="462.68" cy="94.89" r="1.25"/>
<circle cx="462.12" cy="100.75" r="1.25"/>
<circle cx="462.61" cy="109.16" r="1.25"/>
<circle cx="462.18" cy="105.18" r="1.25"/>
<circle cx="462.19" cy="91.28" r="1.25"/>
<circle cx="463.03" cy="117.02" r="1.25"/>
<circle cx="463.15" cy="132.68" r="1.25"/>
<circle cx="463.25" cy="98.12" r="1.25"/>
<circle cx="463.36" cy="105.95" r="1.25"/>
<circle cx="461.92" cy="83.33" r="1.25"/>
<circle cx="462.51" cy="86.85" r="1.25"/>
<circle cx="461.69" cy="83.06" r="1.25"/>
<circle cx="466.69" cy="97.01" r="1.25"/>
<circle cx="460.55" cy="86.24" r="1.25"/>
<circle cx="463.85" cy="105.55" r="1.25"/>
<circle cx="463.60" cy="92.31" r="1.25"/>
<circle cx="463.43" cy="69.82" r="1.25"/>
<circle cx="464.52" cy="89.15" r="1.25"/>
<circle cx="464.40" cy="123.10" r="1.25"/>
<circle cx="457.22" cy="105.46" r="1.25"/>
<circle cx="462.28" cy="74.93" r="1.25"/>
<circle cx="465.08" cy="82.61" r="1.25"/>
<circle cx="465.62" cy="118.10" r="1.25"/>
<circle cx="465.16" cy="103.49" r="1.25"/>
<circle cx="463.98" cy="121.85" r="1.25"/>
<circle cx="462.37" cy="97.30" r="1.25"/>
<circle cx="467.23" cy="94.70" r="1.25"/>
<circle cx="464.82" cy="92.30" r="1.25"/>
<circle cx="464.42" cy="105.70" r="1.25"/>
<circle cx="467.73" cy="95.70" r="1.25"/>
<circle cx="467.48" cy="104.83" r="1.25"/>
<circle cx="459.66" cy="96.89" r="1.25"/>
<circle cx="463.60" cy="89.68" r="1.25"/>
<circle cx="464.76" cy="120.89" r="1.25"/>
<circle cx="461.38" cy="87.18" r="1.25"/>
<circle cx="461.15" cy="107.17" r="1.25"/>
<circle cx="463.43" cy="80.27" r="1.25"/>
<circle cx="457.57" cy="105.60" r="1.25"/>
<circle cx="460.67" cy="98.47" r="1.25"/>
<circle cx="467.77" cy="107.44" r="1.25"/>
<circle cx="464.65" cy="103.76" r="1.25"/>
<circle cx="464.93" cy="110.50" r="1.25"/>
<circle cx="459.07" cy="91.49" r="1.25"/>
<circle cx="463.50" cy="69.45" r="1.25"/>
<circle cx="462.51" cy="88.62" r="1.25"/>
<circle cx="457.78" cy="106.15" r="1.25"/>
<circle cx="458.34" cy="100.23" r="1.25"/>
<circle cx="469.02" cy="102.18" r="1.25"/>
<circle cx="458.86" cy="92.89" r="1.25"/>
<circle cx="458.97" cy="106.37" r="1.25"/>
<circle cx="463.21" cy="56.24" r="1.25"/>
<circle cx="463.36" cy="65.28" r="1.25"/>
<circle cx="463.51" cy="69.94" r="1.25"/>
<circle cx="464.25" cy="113.16" r="1.25"/>
<circle cx="467.29" cy="111.53" r="1.25"/>
<circle cx="458.53" cy="112.16" r="1.25"/>
<circle cx="458.21" cy="106.86" r="1.25"/>
<circle cx="461.64" cy="93.76" r="1.25"/>
<circle cx="465.30" cy="100.82" r="1.25"/>
<circle cx="461.72" cy="105.19" r="1.25"/>
<circle cx="464.49" cy="78.30" r="1.25"/>
<circle cx="462.22" cy="102.91" r="1.25"/>
<circle cx="467.26" cy="109.58" r="1.25"/>
<circle cx="460.20" cy="119.36" r="1.25"/>
<circle cx="467.89" cy="101.76" r="1.25"/>
<circle cx="467.47" cy="100.58" r="1.25"/>
<circle cx="464.66" cy="118.55" r="1.25"/>
<circle cx="462.68" cy="103.37" r="1.25"/>
<circle cx="466.21" cy="91.64" r="1.25"/>
<circle cx="463.68" cy="116.54" r="1.25"/>
<circle cx="464.16" cy="96.59" r="1.25"/>
<circle cx="460.48" cy="87.08" r="1.25"/>
<circle cx="463.88" cy="84.81" r="1.25"/>
<circle cx="463.74" cy="117.75" r="1.25"/>
<circle cx="463.40" cy="56.64" r="1.25"/>
<circle cx="466.59" cy="100.20" r="1.25"/>
<circle cx="462.44" cy="69.40" r="1.25"/>
<circle cx="462.58" cy="99.42" r="1.25"/>
<circle cx="466.39" cy="86.67" r="1.25"/>
<circle cx="465.13" cy="106.06" r="1.25"/>
<circle cx="460.74" cy="86.33" r="1.25"/>
<circle cx="462.63" cy="72.67" r="1.25"/>
<circle cx="467.80" cy="111.56" r="1.25"/>
<circle cx="464.09" cy="108.95" r="1.25"/>
<circle cx="461.73" cy="115.40" r="1.25"/>
<circle cx="463.06" cy="75.48" r="1.25"/>
<circle cx="463.78" cy="70.55" r="1.25"/>
<circle cx="466.30" cy="91.05" r="1.25"/>
<circle cx="459.27" cy="93.06" r="1.25"/>
<circle cx="463.51" cy="72.67" r="1.25"/>
<circle cx="467.67" cy="99.10" r="1.25"/>
<circle cx="461.59" cy="121.91" r="1.25"/>
<circle cx="467.60" cy="94.13" r="1.25"/>
<circle cx="462.85" cy="108.26" r="1.25"/>
<circle cx="462.65" cy="128.73" r="1.25"/>
<circle cx="463.74" cy="126.43" r="1.25"/>
<circle cx="460.76" cy="82.17" r="1.25"/>
<circle cx="459.12" cy="100.54" r="1.25"/>
<circle cx="462.44" cy="70.68" r="1.25"/>
<circle cx="460.34" cy="103.50" r="1.25"/>
<circle cx="457.72" cy="101.46" r="1.25"/>
<circle cx="465.05" cy="113.40" r="1.25"/>
<circle cx="463.93" cy="76.22" r="1.25"/>
<circle cx="462.37" cy="84.26" r="1.25"/>
<circle cx="463.34" cy="102.41" r="1.25"/>
<circle cx="459.42" cy="90.53" r="1.25"/>
<circle cx="465.52" cy="111.68" r="1.25"/>
<circle cx="463.54" cy="95.91" r="1.25"/>
<circle cx="460.91" cy="120.13" r="1.25"/>
<circle cx="458.26" cy="110.71" r="1.25"/>
<circle cx="463.38" cy="102.77" r="1.25"/>
<circle cx="466.76" cy="111.00" r="1.25"/>
<circle cx="459.55" cy="112.15" r="1.25"/>
<circle cx="460.62" cy="94.34" r="1.25"/>
<circle cx="463.37" cy="123.63" r="1.25"/>
<circle cx="465.79" cy="114.50" r="1.25"/>
<circle cx="468.34" cy="96.89" r="1.25"/>
<circle cx="461.27" cy="116.92" r="1.25"/>
<circle cx="463.17" cy="122.56" r="1.25"/>
<circle cx="463.47" cy="105.43" r="1.25"/>
<circle cx="458.94" cy="95.23" r="1.25"/>
<circle cx="463.54" cy="125.51" r="1.25"/>
<circle cx="464.21" cy="106.61" r="1.25"/>
<circle cx="458.58" cy="97.55" r="1.25"/>
<circle cx="461.13" cy="87.40" r="1.25"/>
<circle cx="459.38" cy="100.44" r="1.25"/>
<circle cx="463.56" cy="111.62" r="1.25"/>
<circle cx="460.79" cy="103.84" r="1.25"/>
<circle cx="464.10" cy="95.84" r="1.25"/>
<circle cx="463.31" cy="123.69" r="1.25"/>
<circle cx="468.54" cy="94.17" r="1.25"/>
<circle cx="463.60" cy="67.64" r="1.25"/>
<circle cx="462.03" cy="90.07" r="1.25"/>
<circle cx="459.38" cy="90.06" r="1.25"/>
<circle cx="461.70" cy="113.87" r="1.25"/>
<circle cx="467.00" cy="104.12" r="1.25"/>
<circle cx="465.96" cy="96.27" r="1.25"/>
<circle cx="465.30" cy="115.55" r="1.25"/>
<circle cx="468.82" cy="101.69" r="1.25"/>
<circle cx="466.63" cy="100.59" r="1.25"/>
<circle cx="462.84" cy="85.25" r="1.25"/>
<circle cx="462.10" cy="112.63" r="1.25"/>
<circle cx="460.90" cy="99.26" r="1.25"/>
<circle cx="459.49" cy="94.81" r="1.25"/>
<circle cx="463.35" cy="79.23" r="1.25"/>
<circle cx="468.30" cy="101.35" r="1.25"/>
<circle cx="461.97" cy="127.57" r="1.25"/>
<circle cx="468.35" cy="100.03" r="1.25"/>
<circle cx="466.68" cy="116.65" r="1.25"/>
<circle cx="465.28" cy="96.24" r="1.25"/>
<circle cx="463.74" cy="86.04" r="1.25"/>
<circle cx="458.77" cy="108.92" r="1.25"/>
<circle cx="463.46" cy="84.84" r="1.25"/>
<circle cx="468.88" cy="100.75" r="1.25"/>
<circle cx="464.47" cy="93.79" r="1.25"/>
<circle cx="459.16" cy="97.25" r="1.25"/>
<circle cx="468.17" cy="109.98" r="1.25"/>
<circle cx="459.46" cy="95.78" r="1.25"/>
<circle cx="469.15" cy="103.07" r="1.25"/>
<circle cx="462.04" cy="105.73" r="1.25"/>
<circle cx="464.36" cy="117.77" r="1.25"/>
<circle cx="463.08" cy="108.25" r="1.25"/>
<circle cx="464.91" cy="99.09" r="1.25"/>
<circle cx="458.39" cy="100.79" r="1.25"/>
<circle cx="460.24" cy="119.29" r="1.25"/>
<circle cx="464.67" cy="116.42" r="1.25"/>
<circle cx="461.89" cy="83.20" r="1.25"/>
<circle cx="462.48" cy="101.41" r="1.25"/>
<circle cx="465.64" cy="85.74" r="1.25"/>
<circle cx="462.35" cy="101.44" r="1.25"/>
<circle cx="457.57" cy="104.43" r="1.25"/>
<circle cx="463.66" cy="120.03" r="1.25"/>
<circle cx="461.01" cy="118.18" r="1.25"/>
<circle cx="465.62" cy="83.56" r="1.25"/>
<circle cx="460.27" cy="85.73" r="1.25"/>
<circle cx="461.53" cy="82.99" r="1.25"/>
<circle cx="464.07" cy="82.21" r="1.25"/>
<circle cx="462.83" cy="121.55" r="1.25"/>
<circle cx="467.32" cy="112.58" r="1.25"/>
<circle cx="462.55" cy="95.23" r="1.25"/>
<circle cx="459.97" cy="101.83" r="1.25"/>
<circle cx="467.65" cy="103.47" r="1.25"/>
<circle cx="466.40" cy="98.24" r="1.25"/>
<circle cx="461.73" cy="100.24" r="1.25"/>
<circle cx="463.77" cy="122.82" r="1.25"/>
<circle cx="462.51" cy="78.67" r="1.25"/>
<circle cx="463.53" cy="73.05" r="1.25"/>
<circle cx="462.12" cy="107.89" r="1.25"/>
<circle cx="460.24" cy="107.53" r="1.25"/>
<circle cx="458.45" cy="105.12" r="1.25"/>
<circle cx="458.69" cy="111.79" r="1.25"/>
<circle cx="467.18" cy="105.87" r="1.25"/>
<circle cx="460.04" cy="100.44" r="1.25"/>
<circle cx="461.70" cy="89.66" r="1.25"/>
<circle cx="459.87" cy="116.88" r="1.25"/>
<circle cx="464.68" cy="114.74" r="1.25"/>
<circle cx="461.06" cy="121.05" r="1.25"/>
<circle cx="457.72" cy="105.06" r="1.25"/>
<circle cx="463.22" cy="110.65" r="1.25"/>
<circle cx="463.65" cy="128.97" r="1.25"/>
<circle cx="463.37" cy="119.22" r="1.25"/>
<circle cx="457.74" cy="98.35" r="1.25"/>
<circle cx="461.51" cy="83.52" r="1.25"/>
<circle cx="463.85" cy="79.75" r="1.25"/>
<circle cx="460.26" cy="108.43" r="1.25"/>
<circle cx="468.21" cy="96.08" r="1.25"/>
<circle cx="465.06" cy="83.01" r="1.25"/>
<circle cx="459.05" cy="98.70" r="1.25"/>
<circle cx="462.67" cy="108.12" r="1.25"/>
<circle cx="460.72" cy="83.73" r="1.25"/>
<circle cx="463.64" cy="77.39" r="1.25"/>
<circle cx="461.38" cy="90.71" r="1.25"/>
<circle cx="459.63" cy="92.35" r="1.25"/>
<circle cx="463.55" cy="60.72" r="1.25"/>
<circle cx="464.86" cy="114.81" r="1.25"/>
<circle cx="463.50" cy="89.61" r="1.25"/>
<circle cx="468.26" cy="106.37" r="1.25"/>
<circle cx="460.16" cy="107.01" r="1.25"/>
<circle cx="463.44" cy="66.05" r="1.25"/>
<circle cx="461.67" cy="121.91" r="1.25"/>
<circle cx="468.23" cy="105.86" r="1.25"/>
<circle cx="464.46" cy="81.04" r="1.25"/>
<circle cx="467.17" cy="98.93" r="1.25"/>
<circle cx="463.24" cy="74.08" r="1.25"/>
<circle cx="465.58" cy="105.07" r="1.25"/>
<circle cx="459.24" cy="94.40" r="1.25"/>
<circle cx="462.56" cy="132.29" r="1.25"/>
<circle cx="465.22" cy="90.03" r="1.25"/>
<circle cx="464.51" cy="88.91" r="1.25"/>
<circle cx="461.21" cy="96.02" r="1.25"/>
<circle cx="466.19" cy="89.96" r="1.25"/>
<circle cx="462.56" cy="127.05" r="1.25"/>
<circle cx="461.64" cy="90.32" r="1.25"/>
<circle cx="462.82" cy="70.57" r="1.25"/>
<circle cx="457.76" cy="104.40" r="1.25"/>
<circle cx="460.91" cy="108.91" r="1.25"/>
<circle cx="462.86" cy="100.52" r="1.25"/>
<circle cx="461.26" cy="106.59" r="1.25"/>
<circle cx="462.15" cy="125.54" r="1.25"/>
<circle cx="458.66" cy="109.09" r="1.25"/>
<circle cx="464.01" cy="107.64" r="1.25"/>
<circle cx="463.63" cy="88.19" r="1.25"/>
<circle cx="460.83" cy="86.59" r="1.25"/>
<circle cx="463.17" cy="75.20" r="1.25"/>
<circle cx="464.00" cy="99.16" r="1.25"/>
<circle cx="461.96" cy="101.90" r="1.25"/>
<circle cx="459.43" cy="111.95" r="1.25"/>
<circle cx="466.26" cy="86.24" r="1.25"/>
<circle cx="458.57" cy="99.87" r="1.25"/>
<circle cx="461.24" cy="116.86" r="1.25"/>
<circle cx="463.65" cy="84.68" r="1.25"/>
<circle cx="466.89" cy="111.38" r="1.25"/>
<circle cx="463.86" cy="104.51" r="1.25"/>
<circle cx="459.08" cy="109.24" r="1.25"/>
<circle cx="465.65" cy="119.00" r="1.25"/>
<circle cx="459.78" cy="108.81" r="1.25"/>
<circle cx="457.17" cy="101.34" r="1.25"/>
<circle cx="465.44" cy="85.35" r="1.25"/>
<circle cx="466.82" cy="97.91" r="1.25"/>
<circle cx="462.84" cy="130.62" r="1.25"/>
<circle cx="460.74" cy="86.29" r="1.25"/>
<circle cx="459.03" cy="101.96" r="1.25"/>
<circle cx="461.28" cy="100.99" r="1.25"/>
<circle cx="462.92" cy="81.60" r="1.25"/>
<circle cx="462.82" cy="133.62" r="1.25"/>
<circle cx="460.61" cy="108.48" r="1.25"/>
<circle cx="463.89" cy="94.85" r="1.25"/>
<circle cx="463.14" cy="134.08" r="1.25"/>
<circle cx="460.47" cy="105.58" r="1.25"/>
<circle cx="464.25" cy="113.94" r="1.25"/>
<circle cx="461.85" cy="87.36" r="1.25"/>
<circle cx="460.32" cy="93.37" r="1.25"/>
<circle cx="463.56" cy="65.81" r="1.25"/>
<circle cx="463.78" cy="91.11" r="1.25"/>
<circle cx="461.67" cy="79.10" r="1.25"/>
<circle cx="467.06" cy="112.91" r="1.25"/>
<circle cx="459.12" cy="101.49" r="1.25"/>
<circle cx="461.33" cy="101.26" r="1.25"/>
<circle cx="465.73" cy="116.72" r="1.25"/>
<circle cx="462.30" cy="75.53" r="1.25"/>
<circle cx="464.79" cy="97.79" r="1.25"/>
<circle cx="465.19" cy="106.72" r="1.25"/>
<circle cx="462.71" cy="81.92" r="1.25"/>
<circle cx="462.65" cy="102.65" r="1.25"/>
<circle cx="457.55" cy="99.96" r="1.25"/>
<circle cx="461.02" cy="103.93" r="1.25"/>
<circle cx="463.86" cy="88.73" r="1.25"/>
<circle cx="464.35" cy="99.23" r="1.25"/>
<circle cx="462.22" cy="129.99" r="1.25"/>
<circle cx="466.02" cy="92.92" r="1.25"/>
<circle cx="462.73" cy="62.17" r="1.25"/>
<circle cx="468.53" cy="99.25" r="1.25"/>
<circle cx="461.29" cy="84.14" r="1.25"/>
<circle cx="463.48" cy="67.92" r="1.25"/>
<circle cx="461.32" cy="94.77" r="1.25"/>
<circle cx="462.03" cy="118.80" r="1.25"/>
<circle cx="463.72" cy="127.01" r="1.25"/>
<circle cx="463.96" cy="124.28" r="1.25"/>
<circle cx="462.22" cy="120.58" r="1.25"/>
<circle cx="464.07" cy="102.63" r="1.25"/>
<circle cx="464.29" cy="125.36" r="1.25"/>
<circle cx="464.41" cy="123.81" r="1.25"/>
<circle cx="463.54" cy="132.65" r="1.25"/>
<circle cx="461.40" cy="109.42" r="1.25"/>
<circle cx="463.63" cy="63.36" r="1.25"/>
<circle cx="461.42" cy="94.91" r="1.25"/>
<circle cx="465.45" cy="82.85" r="1.25"/>
<circle cx="462.49" cy="76.76" r="1.25"/>
<circle cx="463.11" cy="60.49" r="1.25"/>
<circle cx="462.03" cy="87.53" r="1.25"/>
<circle cx="463.66" cy="107.05" r="1.25"/>
<circle cx="462.51" cy="86.82" r="1.25"/>
<circle cx="460.78" cy="85.72" r="1.25"/>
<circle cx="463.16" cy="134.57" r="1.25"/>
<circle cx="459.94" cy="103.69" r="1.25"/>
<circle cx="463.66" cy="70.81" r="1.25"/>
<circle cx="468.88" cy="98.75" r="1.25"/>
<circle cx="464.88" cy="114.24" r="1.25"/>
<circle cx="463.88" cy="86.36" r="1.25"/>
<circle cx="464.49" cy="108.97" r="1.25"/>
<circle cx="464.47" cy="98.28" r="1.25"/>
<circle cx="463.33" cy="92.72" r="1.25"/>
<circle cx="459.27" cy="92.99" r="1.25"/>
<circle cx="466.81" cy="96.76" r="1.25"/>
<circle cx="467.82" cy="106.05" r="1.25"/>
<circle cx="462.69" cy="124.16" r="1.25"/>
<circle cx="462.77" cy="75.04" r="1.25"/>
<circle cx="462.06" cy="91.09" r="1.25"/>
<circle cx="466.03" cy="90.81" r="1.25"/>
<circle cx="464.50" cy="115.48" r="1.25"/>
<circle cx="459.09" cy="100.47" r="1.25"/>
<circle cx="461.45" cy="112.24" r="1.25"/>
<circle cx="462.81" cy="123.45" r="1.25"/>
<circle cx="462.77" cy="84.62" r="1.25"/>
<circle cx="461.37" cy="106.66" r="1.25"/>
<circle cx="464.20" cy="81.26" r="1.25"/>
<circle cx="466.01" cy="94.58" r="1.25"/>
<circle cx="466.58" cy="91.86" r="1.25"/>
<circle cx="466.28" cy="88.07" r="1.25"/>
<circle cx="463.21" cy="90.06" r="1.25"/>
<circle cx="459.20" cy="114.01" r="1.25"/>
<circle cx="465.97" cy="109.18" r="1.25"/>
<circle cx="461.06" cy="116.36" r="1.25"/>
<circle cx="459.55" cy="115.04" r="1.25"/>
<circle cx="462.92" cy="109.27" r="1.25"/>
<circle cx="467.24" cy="88.31" r="1.25"/>
<circle cx="468.85" cy="96.30" r="1.25"/>
<circle cx="464.42" cy="79.95" r="1.25"/>
<circle cx="462.11" cy="99.29" r="1.25"/>
<circle cx="461.95" cy="123.27" r="1.25"/>
<circle cx="463.03" cy="84.79" r="1.25"/>
<circle cx="466.83" cy="101.53" r="1.25"/>
<circle cx="460.80" cy="99.32" r="1.25"/>
<circle cx="463.88" cy="97.49" r="1.25"/>
<circle cx="464.31" cy="80.79" r="1.25"/>
<circle cx="467.45" cy="105.95" r="1.25"/>
<circle cx="463.08" cy="99.72" r="1.25"/>
<circle cx="460.87" cy="108.71" r="1.25"/>
<circle cx="462.39" cy="71.49" r="1.25"/>
<circle cx="458.46" cy="109.67" r="1.25"/>
<circle cx="466.51" cy="110.45" r="1.25"/>
<circle cx="463.34" cy="78.40" r="1.25"/>
<circle cx="463.65" cy="106.07" r="1.25"/>
<circle cx="464.71" cy="113.04" r="1.25"/>
<circle cx="461.29" cy="96.95" r="1.25"/>
<circle cx="466.58" cy="114.80" r="1.25"/>
<circle cx="458.73" cy="98.10" r="1.25"/>
<circle cx="464.93" cy="122.38" r="1.25"/>
<circle cx="465.48" cy="90.84" r="1.25"/>
<circle cx="463.29" cy="78.77" r="1.25"/>
<circle cx="463.24" cy="91.77" r="1.25"/>
<circle cx="463.94" cy="83.12" r="1.25"/>
<circle cx="458.71" cy="93.28" r="1.25"/>
<circle cx="463.09" cy="125.06" r="1.25"/>
<circle cx="462.71" cy="97.72" r="1.25"/>
<circle cx="459.60" cy="95.39" r="1.25"/>
<circle cx="460.29" cy="87.18" r="1.25"/>
<circle cx="457.53" cy="94.99" r="1.25"/>
<circle cx="465.69" cy="109.91" r="1.25"/>
<circle cx="467.69" cy="96.29" r="1.25"/>
<circle cx="461.48" cy="110.14" r="1.25"/>
<circle cx="464.09" cy="128.39" r="1.25"/>
<circle cx="459.81" cy="87.83" r="1.25"/>
<circle cx="461.43" cy="109.10" r="1.25"/>
<circle cx="463.08" cy="118.09" r="1.25"/>
<circle cx="460.68" cy="114.89" r="1.25"/>
<circle cx="466.57" cy="104.82" r="1.25"/>
<circle cx="465.43" cy="82.83" r="1.25"/>
<circle cx="459.12" cy="108.62" r="1.25"/>
<circle cx="467.11" cy="102.05" r="1.25"/>
<circle cx="458.50" cy="97.37" r="1.25"/>
<circle cx="463.03" cy="91.50" r="1.25"/>
<circle cx="465.84" cy="111.62" r="1.25"/>
<circle cx="464.27" cy="87.38" r="1.25"/>
<circle cx="463.54" cy="121.65" r="1.25"/>
<circle cx="463.69" cy="119.75" r="1.25"/>
<circle cx="460.21" cy="91.46" r="1.25"/>
<circle cx="458.10" cy="104.36" r="1.25"/>
<circle cx="466.05" cy="90.23" r="1.25"/>
<circle cx="461.81" cy="103.64" r="1.25"/>
<circle cx="462.25" cy="119.51" r="1.25"/>
<circle cx="463.37" cy="105.36" r="1.25"/>
<circle cx="468.52" cy="94.70" r="1.25"/>
<circle cx="462.55" cy="109.48" r="1.25"/>
<circle cx="463.36" cy="126.05" r="1.25"/>
<circle cx="461.76" cy="100.97" r="1.25"/>
<circle cx="461.30" cy="114.57" r="1.25"/>
<circle cx="463.44" cy="115.77" r="1.25"/>
<circle cx="465.17" cy="106.71" r="1.25"/>
<circle cx="460.95" cy="111.56" r="1.25"/>
<circle cx="463.18" cy="82.68" r="1.25"/>
<circle cx="463.87" cy="124.93" r="1.25"/>
<circle cx="460.83" cy="89.93" r="1.25"/>
<circle cx="466.34" cy="86.40" r="1.25"/>
<circle cx="460.67" cy="117.06" r="1.25"/>
<circle cx="463.56" cy="115.34" r="1.25"/>
<circle cx="460.63" cy="108.45" r="1.25"/>
<circle cx="464.65" cy="97.19" r="1.25"/>
<circle cx="468.59" cy="100.15" r="1.25"/>
<circle cx="466.41" cy="105.52" r="1.25"/>
<circle cx="462.20" cy="114.17" r="1.25"/>
<circle cx="461.25" cy="119.22" r="1.25"/>
<circle cx="467.84" cy="96.54" r="1.25"/>
<circle cx="465.03" cy="95.02" r="1.25"/>
<circle cx="464.02" cy="101.05" r="1.25"/>
<circle cx="466.27" cy="115.10" r="1.25"/>
<circle cx="463.75" cy="125.03" r="1.25"/>
<circle cx="460.88" cy="111.09" r="1.25"/>
<circle cx="461.62" cy="120.69" r="1.25"/>
<circle cx="463.45" cy="72.84" r="1.25"/>
<circle cx="463.63" cy="80.91" r="1.25"/>
<circle cx="457.42" cy="99.23" r="1.25"/>
<circle cx="461.71" cy="120.94" r="1.25"/>
<circle cx="461.06" cy="105.17" r="1.25"/>
<circle cx="466.76" cy="100.31" r="1.25"/>
<circle cx="464.22" cy="88.79" r="1.25"/>
<circle cx="462.19" cy="112.75" r="1.25"/>
<circle cx="459.91" cy="95.81" r="1.25"/>
<circle cx="462.62" cy="109.41" r="1.25"/>
<circle cx="462.64" cy="82.23" r="1.25"/>
<circle cx="463.74" cy="77.52" r="1.25"/>
<circle cx="459.55" cy="96.14" r="1.25"/>
<circle cx="460.78" cy="111.09" r="1.25"/>
<circle cx="468.98" cy="99.65" r="1.25"/>
<circle cx="460.35" cy="112.35" r="1.25"/>
<circle cx="460.92" cy="112.54" r="1.25"/>
<circle cx="463.79" cy="83.32" r="1.25"/>
<circle cx="460.74" cy="119.12" r="1.25"/>
<circle cx="466.54" cy="116.96" r="1.25"/>
<circle cx="459.13" cy="92.96" r="1.25"/>
<circle cx="460.22" cy="95.48" r="1.25"/>
<circle cx="465.85" cy="113.37" r="1.25"/>
<circle cx="460.92" cy="122.06" r="1.25"/>
<circle cx="465.13" cy="85.20" r="1.25"/>
<circle cx="482.90" cy="122.70" r="1.25"/>
<circle cx="483.86" cy="57.20" r="1.25"/>
<circle cx="483.89" cy="131.79" r="1.25"/>
<circle cx="484.41" cy="69.54" r="1.25"/>
<circle cx="483.90" cy="85.75" r="1.25"/>
<circle cx="483.63" cy="62.26" r="1.25"/>
<circle cx="484.19" cy="104.34" r="1.25"/>
<circle cx="484.25" cy="90.97" r="1.25"/>
<circle cx="484.19" cy="87.36" r="1.25"/>
<circle cx="484.05" cy="72.66" r="1.25"/>
<circle cx="484.75" cy="93.91" r="1.25"/>
<circle cx="483.09" cy="105.57" r="1.25"/>
<circle cx="483.63" cy="141.09" r="1.25"/>
<circle cx="482.67" cy="108.77" r="1.25"/>
<circle cx="482.93" cy="124.23" r="1.25"/>
<circle cx="484.46" cy="70.81" r="1.25"/>
<circle cx="482.80" cy="74.79" r="1.25"/>
<circle cx="484.57" cy="120.05" r="1.25"/>
<circle cx="484.31" cy="115.73" r="1.25"/>
<circle cx="483.05" cy="65.61" r="1.25"/>
<circle cx="484.11" cy="134.64" r="1.25"/>
<circle cx="483.71" cy="101.62" r="1.25"/>
<circle cx="484.38" cy="107.48" r="1.25"/>
<circle cx="483.76" cy="57.81" r="1.25"/>
<circle cx="482.75" cy="77.35" r="1.25"/>
<circle cx="484.32" cy="118.94" r="1.25"/>
<circle cx="483.07" cy="125.04" r="1.25"/>
<circle cx="483.54" cy="110.25" r="1.25"/>
<circle cx="482.71" cy="100.72" r="1.25"/>
<circle cx="483.49" cy="128.41" r="1.25"/>
<circle cx="484.47" cy="64.24" r="1.25"/>
<circle cx="482.93" cy="121.12" r="1.25"/>
<circle cx="483.60" cy="105.55" r="1.25"/>
<circle cx="484.04" cy="88.02" r="1.25"/>
<circle cx="484.29" cy="128.56" r="1.25"/>
<circle cx="483.09" cy="91.16" r="1.25"/>
<circle cx="483.36" cy="78.23" r="1.25"/>
<circle cx="484.40" cy="59.38" r="1.25"/>
<circle cx="483.53" cy="75.82" r="1.25"/>
<circle cx="484.06" cy="52.62" r="1.25"/>
<circle cx="484.01" cy="135.05" r="1.25"/>
<circle cx="483.02" cy="123.49" r="1.25"/>
<circle cx="483.91" cy="126.31" r="1.25"/>
<circle cx="484.71" cy="84.33" r="1.25"/>
<circle cx="483.95" cy="65.46" r="1.25"/>
<circle cx="483.47" cy="100.02" r="1.25"/>
<circle cx="483.46" cy="139.32" r="1.25"/>
<circle cx="483.89" cy="51.95" r="1.25"/>
<circle cx="483.66" cy="141.36" r="1.25"/>
<circle cx="484.21" cy="113.62" r="1.25"/>
<circle cx="483.25" cy="119.69" r="1.25"/>
<circle cx="484.51" cy="69.86" r="1.25"/>
<circle cx="484.05" cy="109.63" r="1.25"/>
<circle cx="483.24" cy="105.46" r="1.25"/>
<circle cx="483.10" cy="56.56" r="1.25"/>
<circle cx="482.87" cy="83.81" r="1.25"/>
<circle cx="484.18" cy="95.92" r="1.25"/>
<circle cx="483.37" cy="66.99" r="1.25"/>
<circle cx="483.57" cy="88.16" r="1.25"/>
<circle cx="484.54" cy="117.41" r="1.25"/>
<circle cx="483.11" cy="76.13" r="1.25"/>
<circle cx="483.90" cy="133.59" r="1.25"/>
<circle cx="482.95" cy="104.47" r="1.25"/>
<circle cx="484.47" cy="63.86" r="1.25"/>
<circle cx="483.86" cy="85.78" r="1.25"/>
<circle cx="482.84" cy="71.15" r="1.25"/>
<circle cx="484.41" cy="128.79" r="1.25"/>
<circle cx="482.92" cy="84.01" r="1.25"/>
<circle cx="483.47" cy="122.88" r="1.25"/>
<circle cx="483.07" cy="98.61" r="1.25"/>
<circle cx="483.49" cy="123.61" r="1.25"/>
<circle cx="483.14" cy="120.75" r="1.25"/>
<circle cx="483.46" cy="70.76" r="1.25"/>
<circle cx="484.52" cy="109.45" r="1.25"/>
<circle cx="482.95" cy="127.32" r="1.25"/>
<circle cx="483.60" cy="90.85" r="1.25"/>
<circle cx="482.94" cy="115.88" r="1.25"/>
<circle cx="483.00" cy="94.62" r="1.25"/>
<circle cx="482.65" cy="91.03" r="1.25"/>
<circle cx="484.64" cy="83.78" r="1.25"/>
<circle cx="483.03" cy="101.52" r="1.25"/>
<circle cx="484.40" cy="118.87" r="1.25"/>
<circle cx="482.88" cy="98.78" r="1.25"/>
<circle cx="483.07" cy="129.90" r="1.25"/>
<circle cx="482.63" cy="92.92" r="1.25"/>
<circle cx="482.97" cy="92.20" r="1.25"/>
<circle cx="482.88" cy="111.42" r="1.25"/>
<circle cx="483.96" cy="67.19" r="1.25"/>
<circle cx="483.63" cy="97.84" r="1.25"/>
<circle cx="483.19" cy="118.53" r="1.25"/>
<circle cx="484.09" cy="96.41" r="1.25"/>
<circle cx="484.31" cy="129.23" r="1.25"/>
<circle cx="483.86" cy="67.35" r="1.25"/>
<circle cx="483.34" cy="133.29" r="1.25"/>
<circle cx="484.10" cy="63.57" r="1.25"/>
<circle cx="482.58" cy="87.52" r="1.25"/>
<circle cx="483.68" cy="137.57" r="1.25"/>
<circle cx="483.68" cy="97.57" r="1.25"/>
<circle cx="484.85" cy="92.52" r="1.25"/>
<circle cx="483.39" cy="80.18" r="1.25"/>
<circle cx="483.43" cy="111.95" r="1.25"/>
<circle cx="483.81" cy="74.32" r="1.25"/>
<circle cx="483.18" cy="115.89" r="1.25"/>
<circle cx="483.74" cy="64.36" r="1.25"/>
<circle cx="482.65" cy="103.96" r="1.25"/>
<circle cx="483.85" cy="72.16" r="1.25"/>
<circle cx="484.67" cy="92.14" r="1.25"/>
<circle cx="484.09" cy="138.36" r="1.25"/>
<circle cx="484.66" cy="88.05" r="1.25"/>
<circle cx="483.38" cy="60.24" r="1.25"/>
<circle cx="483.74" cy="130.43" r="1.25"/>
<circle cx="482.86" cy="110.55" r="1.25"/>
<circle cx="483.86" cy="73.03" r="1.25"/>
<circle cx="483.34" cy="138.85" r="1.25"/>
<circle cx="483.45" cy="74.12" r="1.25"/>
<circle cx="482.63" cy="98.69" r="1.25"/>
<circle cx="483.65" cy="118.60" r="1.25"/>
<circle cx="482.66" cy="112.27" r="1.25"/>
<circle cx="484.24" cy="94.24" r="1.25"/>
<circle cx="484.71" cy="110.01" r="1.25"/>
<circle cx="483.58" cy="122.67" r="1.25"/>
<circle cx="483.62" cy="138.44" r="1.25"/>
<circle cx="484.27" cy="83.65" r="1.25"/>
<circle cx="483.26" cy="62.38" r="1.25"/>
<circle cx="483.02" cy="75.07" r="1.25"/>
<circle cx="482.72" cy="87.90" r="1.25"/>
<circle cx="484.18" cy="103.55" r="1.25"/>
<circle cx="483.66" cy="90.75" r="1.25"/>
<circle cx="484.46" cy="65.44" r="1.25"/>
<circle cx="484.15" cy="109.52" r="1.25"/>
<circle cx="483.92" cy="139.22" r="1.25"/>
<circle cx="484.33" cy="78.26" r="1.25"/>
<circle cx="484.57" cy="105.76" r="1.25"/>
<circle cx="482.56" cy="104.63" r="1.25"/>
<circle cx="483.14" cy="99.69" r="1.25"/>
<circle cx="483.28" cy="57.12" r="1.25"/>
<circle cx="483.15" cy="114.44" r="1.25"/>
<circle cx="484.61" cy="74.99" r="1.25"/>
<circle cx="484.11" cy="52.47" r="1.25"/>
<circle cx="483.57" cy="139.55" r="1.25"/>
<circle cx="483.49" cy="98.54" r="1.25"/>
<circle cx="482.55" cy="94.56" r="1.25"/>
<circle cx="483.14" cy="58.39" r="1.25"/>
<circle cx="483.16" cy="107.86" r="1.25"/>
<circle cx="483.05" cy="82.00" r="1.25"/>
<circle cx="483.92" cy="55.39" r="1.25"/>
<circle cx="483.09" cy="85.99" r="1.25"/>
<circle cx="483.99" cy="71.88" r="1.25"/>
<circle cx="482.96" cy="102.46" r="1.25"/>
<circle cx="484.02" cy="104.06" r="1.25"/>
<circle cx="483.56" cy="72.77" r="1.25"/>
<circle cx="482.54" cy="99.54" r="1.25"/>
<circle cx="483.29" cy="117.05" r="1.25"/>
<circle cx="483.95" cy="109.31" r="1.25"/>
<circle cx="483.46" cy="133.31" r="1.25"/>
<circle cx="482.96" cy="111.39" r="1.25"/>
<circle cx="484.14" cy="79.07" r="1.25"/>
<circle cx="483.72" cy="58.86" r="1.25"/>
<circle cx="483.27" cy="131.06" r="1.25"/>
<circle cx="483.73" cy="61.65" r="1.25"/>
<circle cx="483.76" cy="83.94" r="1.25"/>
<circle cx="482.93" cy="121.73" r="1.25"/>
<circle cx="483.14" cy="86.15" r="1.25"/>
<circle cx="483.31" cy="111.94" r="1.25"/>
<circle cx="484.40" cy="94.38" r="1.25"/>
<circle cx="484.64" cy="84.74" r="1.25"/>
<circle cx="483.91" cy="60.31" r="1.25"/>
<circle cx="484.62" cy="76.22" r="1.25"/>
<circle cx="483.66" cy="134.02" r="1.25"/>
<circle cx="482.72" cy="107.43" r="1.25"/>
<circle cx="483.44" cy="90.76" r="1.25"/>
<circle cx="484.01" cy="55.39" r="1.25"/>
<circle cx="483.02" cy="63.07" r="1.25"/>
<circle cx="484.25" cy="65.72" r="1.25"/>
<circle cx="484.14" cy="66.19" r="1.25"/>
<circle cx="482.80" cy="89.70" r="1.25"/>
<circle cx="484.07" cy="61.42" r="1.25"/>
<circle cx="483.97" cy="94.01" r="1.25"/>
<circle cx="484.12" cy="77.15" r="1.25"/>
<circle cx="483.11" cy="117.93" r="1.25"/>
<circle cx="483.98" cy="138.48" r="1.25"/>
<circle cx="483.19" cy="81.74" r="1.25"/>
<circle cx="484.19" cy="80.13" r="1.25"/>
<circle cx="483.53" cy="81.99" r="1.25"/>
<circle cx="484.33" cy="103.36" r="1.25"/>
<circle cx="484.02" cy="137.91" r="1.25"/>
<circle cx="483.48" cy="125.71" r="1.25"/>
<circle cx="483.43" cy="85.02" r="1.25"/>
<circle cx="484.32" cy="60.80" r="1.25"/>
<circle cx="484.60" cy="88.31" r="1.25"/>
<circle cx="484.48" cy="119.91" r="1.25"/>
<circle cx="483.96" cy="125.17" r="1.25"/>
<circle cx="482.89" cy="85.57" r="1.25"/>
<circle cx="484.49" cy="100.08" r="1.25"/>
<circle cx="483.99" cy="118.87" r="1.25"/>
<circle cx="483.31" cy="100.88" r="1.25"/>
<circle cx="483.47" cy="130.38" r="1.25"/>
<circle cx="483.38" cy="73.54" r="1.25"/>
<circle cx="482.93" cy="71.50" r="1.25"/>
<circle cx="483.63" cy="118.59" r="1.25"/>
<circle cx="484.74" cy="87.51" r="1.25"/>
<circle cx="484.48" cy="79.09" r="1.25"/>
<circle cx="484.30" cy="93.80" r="1.25"/>
<circle cx="483.91" cy="103.21" r="1.25"/>
<circle cx="483.67" cy="126.66" r="1.25"/>
<circle cx="484.09" cy="88.84" r="1.25"/>
<circle cx="483.46" cy="69.75" r="1.25"/>
<circle cx="504.15" cy="85.59" r="1.25"/>
<circle cx="504.70" cy="55.87" r="1.25"/>
<circle cx="503.88" cy="116.75" r="1.25"/>
<circle cx="505.17" cy="81.06" r="1.25"/>
<circle cx="504.02" cy="65.43" r="1.25"/>
<circle cx="504.38" cy="111.79" r="1.25"/>
<circle cx="503.53" cy="91.53" r="1.25"/>
<circle cx="503.65" cy="96.84" r="1.25"/>
<circle cx="504.30" cy="65.93" r="1.25"/>
<circle cx="504.76" cy="60.36" r="1.25"/>
<circle cx="503.79" cy="84.84" r="1.25"/>
<circle cx="504.32" cy="71.92" r="1.25"/>
<circle cx="503.23" cy="88.73" r="1.25"/>
<circle cx="504.78" cy="77.53" r="1.25"/>
<circle cx="504.33" cy="68.52" r="1.25"/>
<circle cx="504.94" cy="63.14" r="1.25"/>
<circle cx="504.66" cy="65.45" r="1.25"/>
<circle cx="504.65" cy="113.28" r="1.25"/>
<circle cx="504.74" cy="128.65" r="1.25"/>
<circle cx="503.38" cy="86.49" r="1.25"/>
<circle cx="503.76" cy="117.45" r="1.25"/>
<circle cx="505.37" cy="88.00" r="1.25"/>
<circle cx="503.81" cy="77.17" r="1.25"/>
<circle cx="504.15" cy="65.18" r="1.25"/>
<circle cx="503.64" cy="101.83" r="1.25"/>
<circle cx="503.79" cy="66.90" r="1.25"/>
<circle cx="503.70" cy="75.40" r="1.25"/>
<circle cx="505.34" cy="89.73" r="1.25"/>
<circle cx="504.24" cy="90.30" r="1.25"/>
<circle cx="503.72" cy="65.10" r="1.25"/>
<circle cx="504.62" cy="62.59" r="1.25"/>
<circle cx="504.01" cy="78.75" r="1.25"/>
<circle cx="503.66" cy="108.17" r="1.25"/>
<circle cx="503.67" cy="123.34" r="1.25"/>
<circle cx="505.13" cy="78.78" r="1.25"/>
<circle cx="503.88" cy="82.90" r="1.25"/>
<circle cx="504.79" cy="96.24" r="1.25"/>
<circle cx="504.18" cy="130.77" r="1.25"/>
<circle cx="503.98" cy="99.37" r="1.25"/>
<circle cx="503.51" cy="82.98" r="1.25"/>
<circle cx="504.28" cy="50.14" r="1.25"/>
<circle cx="505.16" cy="91.12" r="1.25"/>
<circle cx="505.14" cy="78.38" r="1.25"/>
<circle cx="503.98" cy="103.66" r="1.25"/>
<circle cx="504.88" cy="81.63" r="1.25"/>
<circle cx="504.10" cy="70.58" r="1.25"/>
<circle cx="503.95" cy="94.90" r="1.25"/>
<circle cx="504.57" cy="119.59" r="1.25"/>
<circle cx="503.90" cy="49.70" r="1.25"/>
<circle cx="503.90" cy="118.21" r="1.25"/>
<circle cx="504.55" cy="52.83" r="1.25"/>
<circle cx="504.73" cy="128.38" r="1.25"/>
<circle cx="504.82" cy="85.73" r="1.25"/>
<circle cx="503.78" cy="122.84" r="1.25"/>
<circle cx="503.93" cy="51.13" r="1.25"/>
<circle cx="503.64" cy="102.87" r="1.25"/>
<circle cx="504.57" cy="63.61" r="1.25"/>
<circle cx="503.75" cy="81.96" r="1.25"/>
<circle cx="503.72" cy="109.49" r="1.25"/>
<circle cx="504.66" cy="61.11" r="1.25"/>
<circle cx="504.19" cy="107.29" r="1.25"/>
<circle cx="504.23" cy="116.93" r="1.25"/>
<circle cx="505.16" cy="77.25" r="1.25"/>
<circle cx="503.63" cy="96.82" r="1.25"/>
<circle cx="503.30" cy="81.30" r="1.25"/>
<circle cx="504.94" cy="92.80" r="1.25"/>
<circle cx="504.45" cy="83.99" r="1.25"/>
<circle cx="505.10" cy="111.46" r="1.25"/>
<circle cx="504.06" cy="101.57" r="1.25"/>
<circle cx="504.77" cy="107.93" r="1.25"/>
<circle cx="503.70" cy="70.72" r="1.25"/>
<circle cx="504.01" cy="122.76" r="1.25"/>
<circle cx="504.73" cy="128.46" r="1.25"/>
<circle cx="504.73" cy="113.96" r="1.25"/>
<circle cx="504.48" cy="97.91" r="1.25"/>
<circle cx="503.43" cy="85.14" r="1.25"/>
<circle cx="503.95" cy="115.72" r="1.25"/>
<circle cx="503.78" cy="86.41" r="1.25"/>
<circle cx="503.60" cy="111.63" r="1.25"/>
<circle cx="503.68" cy="90.96" r="1.25"/>
<circle cx="504.05" cy="104.99" r="1.25"/>
<circle cx="504.83" cy="97.77" r="1.25"/>
<circle cx="504.09" cy="87.67" r="1.25"/>
<circle cx="503.63" cy="60.46" r="1.25"/>
<circle cx="504.53" cy="112.51" r="1.25"/>
<circle cx="504.93" cy="80.71" r="1.25"/>
<circle cx="504.26" cy="125.87" r="1.25"/>
<circle cx="504.80" cy="88.79" r="1.25"/>
<circle cx="504.80" cy="64.00" r="1.25"/>
<circle cx="504.30" cy="58.30" r="1.25"/>
<circle cx="505.13" cy="77.20" r="1.25"/>
<circle cx="503.75" cy="89.22" r="1.25"/>
<circle cx="504.73" cy="127.56" r="1.25"/>
<circle cx="504.35" cy="115.20" r="1.25"/>
<circle cx="503.78" cy="122.51" r="1.25"/>
<circle cx="503.80" cy="107.41" r="1.25"/>
<circle cx="505.30" cy="88.29" r="1.25"/>
<circle cx="504.48" cy="128.49" r="1.25"/>
<circle cx="503.61" cy="96.23" r="1.25"/>
<circle cx="504.29" cy="59.78" r="1.25"/>
<circle cx="504.40" cy="71.21" r="1.25"/>
<circle cx="503.75" cy="114.39" r="1.25"/>
<circle cx="504.85" cy="125.24" r="1.25"/>
<circle cx="504.36" cy="133.60" r="1.25"/>
<circle cx="503.32" cy="95.65" r="1.25"/>
<circle cx="503.95" cy="65.68" r="1.25"/>
<circle cx="505.17" cy="102.82" r="1.25"/>
<circle cx="505.13" cy="107.71" r="1.25"/>
<circle cx="505.00" cy="103.21" r="1.25"/>
<circle cx="504.50" cy="106.35" r="1.25"/>
<circle cx="504.36" cy="53.43" r="1.25"/>
<circle cx="503.67" cy="65.78" r="1.25"/>
<circle cx="503.49" cy="110.13" r="1.25"/>
<circle cx="503.38" cy="75.16" r="1.25"/>
<circle cx="504.49" cy="84.14" r="1.25"/>
<circle cx="503.88" cy="119.85" r="1.25"/>
<circle cx="505.30" cy="92.86" r="1.25"/>
<circle cx="503.41" cy="83.20" r="1.25"/>
<circle cx="504.06" cy="71.43" r="1.25"/>
<circle cx="503.64" cy="102.28" r="1.25"/>
<circle cx="504.05" cy="111.26" r="1.25"/>
<circle cx="503.90" cy="126.47" r="1.25"/>
<circle cx="525.19" cy="59.06" r="1.25"/>
<circle cx="525.00" cy="104.82" r="1.25"/>
<circle cx="524.82" cy="88.70" r="1.25"/>
<circle cx="524.06" cy="86.50" r="1.25"/>
<circle cx="525.61" cy="77.89" r="1.25"/>
<circle cx="524.36" cy="65.02" r="1.25"/>
<circle cx="524.78" cy="54.39" r="1.25"/>
<circle cx="524.30" cy="71.69" r="1.25"/>
<circle cx="525.98" cy="80.03" r="1.25"/>
<circle cx="524.17" cy="90.81" r="1.25"/>
<circle cx="524.25" cy="53.65" r="1.25"/>
<circle cx="524.66" cy="94.00" r="1.25"/>
<circle cx="524.52" cy="65.20" r="1.25"/>
<circle cx="525.52" cy="70.89" r="1.25"/>
<circle cx="523.93" cy="78.33" r="1.25"/>
<circle cx="525.22" cy="93.94" r="1.25"/>
<circle cx="524.74" cy="51.96" r="1.25"/>
<circle cx="525.43" cy="55.10" r="1.25"/>
<circle cx="525.38" cy="84.16" r="1.25"/>
<circle cx="524.04" cy="78.65" r="1.25"/>
<circle cx="524.74" cy="112.07" r="1.25"/>
<circle cx="524.01" cy="76.16" r="1.25"/>
<circle cx="525.43" cy="71.65" r="1.25"/>
<circle cx="525.45" cy="63.65" r="1.25"/>
<circle cx="523.99" cy="78.47" r="1.25"/>
<circle cx="525.00" cy="113.30" r="1.25"/>
<circle cx="525.38" cy="82.58" r="1.25"/>
<circle cx="524.53" cy="83.09" r="1.25"/>
<circle cx="524.96" cy="81.51" r="1.25"/>
<circle cx="525.41" cy="56.85" r="1.25"/>
<circle cx="524.77" cy="104.82" r="1.25"/>
<circle cx="525.34" cy="51.63" r="1.25"/>
<circle cx="524.67" cy="72.58" r="1.25"/>
<circle cx="525.75" cy="98.51" r="1.25"/>
<circle cx="524.04" cy="78.98" r="1.25"/>
<circle cx="525.68" cy="93.14" r="1.25"/>
<circle cx="524.81" cy="98.84" r="1.25"/>
<circle cx="524.22" cy="95.61" r="1.25"/>
<circle cx="526.23" cy="72.98" r="1.25"/>
<circle cx="525.73" cy="70.46" r="1.25"/>
<circle cx="524.96" cy="61.79" r="1.25"/>
<circle cx="525.03" cy="71.82" r="1.25"/>
<circle cx="524.56" cy="89.67" r="1.25"/>
<circle cx="524.82" cy="83.61" r="1.25"/>
<circle cx="525.06" cy="95.09" r="1.25"/>
<circle cx="525.52" cy="67.44" r="1.25"/>
<circle cx="525.03" cy="65.53" r="1.25"/>
<circle cx="524.76" cy="74.51" r="1.25"/>
<circle cx="524.35" cy="82.16" r="1.25"/>
<circle cx="524.55" cy="79.98" r="1.25"/>
<circle cx="525.58" cy="73.39" r="1.25"/>
<circle cx="525.67" cy="62.57" r="1.25"/>
<circle cx="525.24" cy="94.41" r="1.25"/>
<circle cx="524.28" cy="97.18" r="1.25"/>
<circle cx="526.14" cy="73.48" r="1.25"/>
<circle cx="526.02" cy="85.16" r="1.25"/>
<circle cx="524.79" cy="105.07" r="1.25"/>
<circle cx="524.81" cy="100.28" r="1.25"/>
<circle cx="525.54" cy="67.01" r="1.25"/>
<circle cx="526.12" cy="77.79" r="1.25"/>
<circle cx="524.50" cy="60.86" r="1.25"/>
<circle cx="525.98" cy="71.40" r="1.25"/>
<circle cx="525.64" cy="78.22" r="1.25"/>
<circle cx="525.99" cy="74.47" r="1.25"/>
<circle cx="525.22" cy="79.09" r="1.25"/>
<circle cx="524.72" cy="65.98" r="1.25"/>
<circle cx="524.69" cy="74.80" r="1.25"/>
<circle cx="525.25" cy="102.00" r="1.25"/>
<circle cx="524.11" cy="92.27" r="1.25"/>
<circle cx="524.65" cy="95.81" r="1.25"/>
<circle cx="525.95" cy="62.05" r="1.25"/>
<circle cx="525.18" cy="64.41" r="1.25"/>
<circle cx="524.56" cy="70.73" r="1.25"/>
<circle cx="525.02" cy="93.68" r="1.25"/>
<circle cx="524.61" cy="56.51" r="1.25"/>
<circle cx="525.96" cy="77.45" r="1.25"/>
<circle cx="524.37" cy="64.91" r="1.25"/>
<circle cx="524.08" cy="89.61" r="1.25"/>
<circle cx="524.95" cy="66.97" r="1.25"/>
<circle cx="524.92" cy="118.07" r="1.25"/>
<circle cx="525.67" cy="64.02" r="1.25"/>
<circle cx="524.04" cy="75.37" r="1.25"/>
<circle cx="524.85" cy="66.31" r="1.25"/>
<circle cx="524.98" cy="118.50" r="1.25"/>
<circle cx="524.04" cy="62.93" r="1.25"/>
<circle cx="524.87" cy="54.28" r="1.25"/>
<circle cx="525.45" cy="83.95" r="1.25"/>
<circle cx="524.99" cy="59.85" r="1.25"/>
<circle cx="524.29" cy="74.27" r="1.25"/>
<circle cx="524.83" cy="110.29" r="1.25"/>
<circle cx="524.59" cy="91.58" r="1.25"/>
<circle cx="525.38" cy="74.10" r="1.25"/>
<circle cx="524.63" cy="85.68" r="1.25"/>
<circle cx="524.91" cy="107.96" r="1.25"/>
<circle cx="525.39" cy="76.42" r="1.25"/>
<circle cx="524.84" cy="95.13" r="1.25"/>
<circle cx="524.90" cy="64.37" r="1.25"/>
<circle cx="525.27" cy="107.03" r="1.25"/>
<circle cx="525.59" cy="49.85" r="1.25"/>
<circle cx="524.32" cy="83.19" r="1.25"/>
<circle cx="525.43" cy="60.12" r="1.25"/>
<circle cx="524.08" cy="66.22" r="1.25"/>
<circle cx="525.02" cy="91.45" r="1.25"/>
<circle cx="524.07" cy="70.16" r="1.25"/>
<circle cx="524.17" cy="82.22" r="1.25"/>
<circle cx="525.12" cy="69.78" r="1.25"/>
<circle cx="524.88" cy="88.49" r="1.25"/>
<circle cx="524.93" cy="101.42" r="1.25"/>
<circle cx="525.20" cy="94.28" r="1.25"/>
<circle cx="524.18" cy="66.85" r="1.25"/>
<circle cx="525.44" cy="79.13" r="1.25"/>
<circle cx="524.59" cy="71.92" r="1.25"/>
<circle cx="525.21" cy="52.51" r="1.25"/>
<circle cx="524.57" cy="56.40" r="1.25"/>
<circle cx="526.05" cy="67.65" r="1.25"/>
<circle cx="524.49" cy="79.14" r="1.25"/>
<circle cx="524.39" cy="99.93" r="1.25"/>
<circle cx="524.92" cy="58.02" r="1.25"/>
<circle cx="524.60" cy="103.77" r="1.25"/>
<circle cx="525.18" cy="115.89" r="1.25"/>
<circle cx="525.23" cy="106.98" r="1.25"/>
<circle cx="524.32" cy="76.00" r="1.25"/>
<circle cx="523.95" cy="84.10" r="1.25"/>
<circle cx="524.70" cy="110.17" r="1.25"/>
<circle cx="525.39" cy="72.54" r="1.25"/>
<circle cx="524.17" cy="76.71" r="1.25"/>
<circle cx="524.33" cy="83.88" r="1.25"/>
<circle cx="525.48" cy="99.24" r="1.25"/>
<circle cx="525.26" cy="54.52" r="1.25"/>
<circle cx="525.18" cy="82.15" r="1.25"/>
<circle cx="523.81" cy="63.30" r="1.25"/>
<circle cx="525.42" cy="104.67" r="1.25"/>
<circle cx="525.26" cy="87.11" r="1.25"/>
<circle cx="524.57" cy="56.73" r="1.25"/>
<circle cx="526.06" cy="78.89" r="1.25"/>
<circle cx="524.80" cy="61.26" r="1.25"/>
<circle cx="524.38" cy="84.08" r="1.25"/>
<circle cx="524.63" cy="109.50" r="1.25"/>
<circle cx="524.30" cy="60.83" r="1.25"/>
<circle cx="524.86" cy="81.62" r="1.25"/>
</g>
<line x1="451.00" y1="42.50" x2="451.00" y2="146.60" stroke="#2a2a2a" stroke-width="1"/>
<line x1="450.50" y1="146.10" x2="536.20" y2="146.10" stroke="#2a2a2a" stroke-width="1"/>
<line x1="448.00" y1="43.90" x2="451.00" y2="43.90" stroke="#2a2a2a" stroke-width="1"/>
<text x="0" y="0" font-size="9.29" transform="translate(446.00,46.80) scale(0.9259,1)" text-anchor="end" fill="#333" stroke="#333" stroke-width="0.1">10</text>
<line x1="448.00" y1="76.30" x2="451.00" y2="76.30" stroke="#2a2a2a" stroke-width="1"/>
<text x="0" y="0" font-size="9.29" transform="translate(446.00,79.20) scale(0.9259,1)" text-anchor="end" fill="#333" stroke="#333" stroke-width="0.1">5</text>
<line x1="448.00" y1="108.90" x2="451.00" y2="108.90" stroke="#2a2a2a" stroke-width="1"/>
<text x="0" y="0" font-size="9.29" transform="translate(446.00,111.80) scale(0.9259,1)" text-anchor="end" fill="#333" stroke="#333" stroke-width="0.1">0</text>
<line x1="448.00" y1="141.40" x2="451.00" y2="141.40" stroke="#2a2a2a" stroke-width="1"/>
<text x="0" y="0" font-size="9.29" transform="translate(446.00,144.30) scale(0.9259,1)" text-anchor="end" fill="#333" stroke="#333" stroke-width="0.1">−5</text>
<line x1="463.10" y1="146.10" x2="463.10" y2="149.10" stroke="#2a2a2a" stroke-width="1"/>
<text x="0" y="0" font-size="9.29" transform="translate(463.10,158.60) scale(0.9259,1)" text-anchor="middle" fill="#333" stroke="#333" stroke-width="0.1">0</text>
<text x="0" y="0" font-size="9.29" transform="translate(463.10,171.00) scale(0.9259,1)" text-anchor="middle" font-style="italic" fill="#333" stroke="#333" stroke-width="0.1">701</text>
<line x1="483.70" y1="146.10" x2="483.70" y2="149.10" stroke="#2a2a2a" stroke-width="1"/>
<text x="0" y="0" font-size="9.29" transform="translate(483.70,158.60) scale(0.9259,1)" text-anchor="middle" fill="#333" stroke="#333" stroke-width="0.1">0−1</text>
<text x="0" y="0" font-size="9.29" transform="translate(483.70,171.00) scale(0.9259,1)" text-anchor="middle" font-style="italic" fill="#333" stroke="#333" stroke-width="0.1">207</text>
<line x1="504.30" y1="146.10" x2="504.30" y2="149.10" stroke="#2a2a2a" stroke-width="1"/>
<text x="0" y="0" font-size="9.29" transform="translate(504.30,158.60) scale(0.9259,1)" text-anchor="middle" fill="#333" stroke="#333" stroke-width="0.1">1−5</text>
<text x="0" y="0" font-size="9.29" transform="translate(504.30,171.00) scale(0.9259,1)" text-anchor="middle" font-style="italic" fill="#333" stroke="#333" stroke-width="0.1">122</text>
<line x1="525.00" y1="146.10" x2="525.00" y2="149.10" stroke="#2a2a2a" stroke-width="1"/>
<text x="0" y="0" font-size="9.29" transform="translate(525.00,158.60) scale(0.9259,1)" text-anchor="middle" fill="#333" stroke="#333" stroke-width="0.1">≥5</text>
<text x="0" y="0" font-size="9.29" transform="translate(525.00,171.00) scale(0.9259,1)" text-anchor="middle" font-style="italic" fill="#333" stroke="#333" stroke-width="0.1">140</text>
<text x="0" y="0" font-size="9.29" text-anchor="middle" fill="#333" stroke="#333" stroke-width="0.1" transform="translate(428.00,95.00) rotate(-90) scale(0.9259,1)"><tspan font-style="italic">ZBTB16</tspan> (logCPM)</text>
<text x="0" y="0" font-size="11.34" transform="translate(449.30,171.20) scale(0.9259,1)" text-anchor="end" font-weight="bold" font-style="italic" fill="#111" stroke="#111" stroke-width="0.1">n</text>
<text x="0" y="0" font-size="9.29" transform="translate(648.50,31.80) scale(0.9259,1)" text-anchor="middle" stroke="#222" stroke-width="0.1">p &lt; 10<tspan font-size="5.94" dy="-3.5">−12</tspan></text>
<line x1="601.90" y1="42.30" x2="653.70" y2="42.30" stroke="#333" stroke-width="1"/>
<line x1="662.80" y1="42.30" x2="676.50" y2="42.30" stroke="#333" stroke-width="1"/>
<path d="M627.50,42.30 L627.50,35.30 L669.90,35.30 L669.90,42.30" stroke="#333" stroke-width="1" fill="none"/>
<line x1="607.10" y1="69.70" x2="607.10" y2="142.30" stroke="#262626" stroke-width="1.25"/>
<line x1="628.20" y1="59.80" x2="628.20" y2="138.00" stroke="#262626" stroke-width="1.25"/>
<line x1="649.40" y1="59.20" x2="649.40" y2="136.60" stroke="#262626" stroke-width="1.25"/>
<line x1="670.50" y1="47.00" x2="670.50" y2="129.50" stroke="#262626" stroke-width="1.25"/>
<rect x="599.30" y="109.50" width="15.60" height="16.70" fill="#1f6db4" stroke="#1a1a1a" stroke-width="1"/>
<rect x="620.40" y="95.60" width="15.60" height="23.80" fill="#27a4dc" stroke="#1a1a1a" stroke-width="1"/>
<rect x="641.60" y="88.40" width="15.60" height="26.10" fill="#a3daf0" stroke="#1a1a1a" stroke-width="1"/>
<rect x="662.70" y="77.50" width="15.60" height="24.90" fill="#f5821f" stroke="#1a1a1a" stroke-width="1"/>
<line x1="599.30" y1="118.50" x2="614.90" y2="118.50" stroke="#111" stroke-width="1.6"/>
<line x1="620.40" y1="110.00" x2="636.00" y2="110.00" stroke="#111" stroke-width="1.6"/>
<line x1="641.60" y1="99.20" x2="657.20" y2="99.20" stroke="#111" stroke-width="1.6"/>
<line x1="662.70" y1="88.30" x2="678.30" y2="88.30" stroke="#111" stroke-width="1.6"/>
<g fill="rgba(0,0,0,0.85)">
<circle cx="607.45" cy="84.95" r="1.25"/>
<circle cx="605.10" cy="111.64" r="1.25"/>
<circle cx="609.53" cy="126.84" r="1.25"/>
<circle cx="606.90" cy="117.27" r="1.25"/>
<circle cx="607.65" cy="120.37" r="1.25"/>
<circle cx="610.92" cy="123.38" r="1.25"/>
<circle cx="605.52" cy="133.27" r="1.25"/>
<circle cx="603.01" cy="127.37" r="1.25"/>
<circle cx="606.86" cy="86.69" r="1.25"/>
<circle cx="607.44" cy="85.65" r="1.25"/>
<circle cx="604.34" cy="130.42" r="1.25"/>
<circle cx="607.60" cy="110.90" r="1.25"/>
<circle cx="606.23" cy="132.86" r="1.25"/>
<circle cx="606.30" cy="104.44" r="1.25"/>
<circle cx="603.71" cy="121.91" r="1.25"/>
<circle cx="608.63" cy="116.87" r="1.25"/>
<circle cx="607.47" cy="94.84" r="1.25"/>
<circle cx="609.38" cy="128.78" r="1.25"/>
<circle cx="606.84" cy="97.15" r="1.25"/>
<circle cx="609.26" cy="130.55" r="1.25"/>
<circle cx="606.33" cy="90.67" r="1.25"/>
<circle cx="603.31" cy="125.52" r="1.25"/>
<circle cx="609.29" cy="107.99" r="1.25"/>
<circle cx="607.39" cy="135.21" r="1.25"/>
<circle cx="606.94" cy="100.57" r="1.25"/>
<circle cx="607.42" cy="136.52" r="1.25"/>
<circle cx="611.94" cy="121.74" r="1.25"/>
<circle cx="605.67" cy="122.14" r="1.25"/>
<circle cx="606.53" cy="86.62" r="1.25"/>
<circle cx="606.33" cy="100.61" r="1.25"/>
<circle cx="609.05" cy="131.05" r="1.25"/>
<circle cx="604.18" cy="132.76" r="1.25"/>
<circle cx="609.53" cy="120.54" r="1.25"/>
<circle cx="610.01" cy="116.86" r="1.25"/>
<circle cx="605.36" cy="106.29" r="1.25"/>
<circle cx="606.10" cy="122.40" r="1.25"/>
<circle cx="609.51" cy="134.87" r="1.25"/>
<circle cx="604.28" cy="129.23" r="1.25"/>
<circle cx="602.99" cy="128.90" r="1.25"/>
<circle cx="605.49" cy="132.76" r="1.25"/>
<circle cx="606.76" cy="114.97" r="1.25"/>
<circle cx="608.95" cy="121.98" r="1.25"/>
<circle cx="602.60" cy="117.36" r="1.25"/>
<circle cx="606.01" cy="123.91" r="1.25"/>
<circle cx="604.90" cy="111.61" r="1.25"/>
<circle cx="610.93" cy="122.08" r="1.25"/>
<circle cx="608.76" cy="133.91" r="1.25"/>
<circle cx="606.56" cy="104.82" r="1.25"/>
<circle cx="610.69" cy="128.12" r="1.25"/>
<circle cx="603.53" cy="118.80" r="1.25"/>
<circle cx="605.96" cy="111.50" r="1.25"/>
<circle cx="611.09" cy="122.23" r="1.25"/>
<circle cx="606.93" cy="99.03" r="1.25"/>
<circle cx="608.02" cy="97.95" r="1.25"/>
<circle cx="608.26" cy="97.61" r="1.25"/>
<circle cx="607.15" cy="121.70" r="1.25"/>
<circle cx="607.59" cy="128.89" r="1.25"/>
<circle cx="607.48" cy="129.13" r="1.25"/>
<circle cx="611.02" cy="115.83" r="1.25"/>
<circle cx="605.43" cy="129.10" r="1.25"/>
<circle cx="608.75" cy="121.46" r="1.25"/>
<circle cx="606.69" cy="126.61" r="1.25"/>
<circle cx="602.83" cy="125.29" r="1.25"/>
<circle cx="605.28" cy="134.86" r="1.25"/>
<circle cx="609.11" cy="106.10" r="1.25"/>
<circle cx="603.66" cy="127.70" r="1.25"/>
<circle cx="604.29" cy="126.74" r="1.25"/>
<circle cx="607.60" cy="106.99" r="1.25"/>
<circle cx="606.22" cy="94.77" r="1.25"/>
<circle cx="610.94" cy="130.83" r="1.25"/>
<circle cx="607.76" cy="130.86" r="1.25"/>
<circle cx="607.74" cy="99.72" r="1.25"/>
<circle cx="603.14" cy="128.23" r="1.25"/>
<circle cx="611.40" cy="118.48" r="1.25"/>
<circle cx="605.26" cy="125.41" r="1.25"/>
<circle cx="606.71" cy="138.78" r="1.25"/>
<circle cx="608.82" cy="133.70" r="1.25"/>
<circle cx="605.87" cy="128.22" r="1.25"/>
<circle cx="606.34" cy="107.75" r="1.25"/>
<circle cx="607.69" cy="128.45" r="1.25"/>
<circle cx="601.91" cy="126.33" r="1.25"/>
<circle cx="607.95" cy="138.02" r="1.25"/>
<circle cx="606.59" cy="137.42" r="1.25"/>
<circle cx="609.36" cy="112.39" r="1.25"/>
<circle cx="608.63" cy="107.13" r="1.25"/>
<circle cx="611.12" cy="129.70" r="1.25"/>
<circle cx="602.24" cy="128.95" r="1.25"/>
<circle cx="610.69" cy="126.27" r="1.25"/>
<circle cx="607.82" cy="119.87" r="1.25"/>
<circle cx="609.24" cy="109.68" r="1.25"/>
<circle cx="608.13" cy="134.62" r="1.25"/>
<circle cx="610.01" cy="119.07" r="1.25"/>
<circle cx="602.73" cy="125.78" r="1.25"/>
<circle cx="607.39" cy="82.25" r="1.25"/>
<circle cx="606.17" cy="118.38" r="1.25"/>
<circle cx="606.52" cy="102.97" r="1.25"/>
<circle cx="607.46" cy="122.02" r="1.25"/>
<circle cx="605.82" cy="120.96" r="1.25"/>
<circle cx="605.14" cy="123.82" r="1.25"/>
<circle cx="605.95" cy="116.57" r="1.25"/>
<circle cx="605.47" cy="132.70" r="1.25"/>
<circle cx="606.37" cy="125.93" r="1.25"/>
<circle cx="605.20" cy="134.83" r="1.25"/>
<circle cx="611.13" cy="116.43" r="1.25"/>
<circle cx="607.25" cy="118.13" r="1.25"/>
<circle cx="610.13" cy="129.60" r="1.25"/>
<circle cx="612.50" cy="123.23" r="1.25"/>
<circle cx="603.40" cy="116.19" r="1.25"/>
<circle cx="610.78" cy="112.59" r="1.25"/>
<circle cx="608.41" cy="100.70" r="1.25"/>
<circle cx="606.51" cy="113.15" r="1.25"/>
<circle cx="606.65" cy="85.50" r="1.25"/>
<circle cx="608.56" cy="134.62" r="1.25"/>
<circle cx="604.69" cy="108.97" r="1.25"/>
<circle cx="605.87" cy="118.66" r="1.25"/>
<circle cx="607.20" cy="92.34" r="1.25"/>
<circle cx="602.55" cy="117.71" r="1.25"/>
<circle cx="608.13" cy="105.67" r="1.25"/>
<circle cx="606.60" cy="115.64" r="1.25"/>
<circle cx="606.23" cy="113.50" r="1.25"/>
<circle cx="610.29" cy="111.05" r="1.25"/>
<circle cx="608.55" cy="119.00" r="1.25"/>
<circle cx="604.04" cy="122.35" r="1.25"/>
<circle cx="609.61" cy="121.31" r="1.25"/>
<circle cx="607.45" cy="141.63" r="1.25"/>
<circle cx="609.82" cy="127.05" r="1.25"/>
<circle cx="608.29" cy="105.83" r="1.25"/>
<circle cx="608.50" cy="118.52" r="1.25"/>
<circle cx="607.46" cy="118.76" r="1.25"/>
<circle cx="606.76" cy="95.29" r="1.25"/>
<circle cx="603.40" cy="123.13" r="1.25"/>
<circle cx="609.94" cy="123.28" r="1.25"/>
<circle cx="607.78" cy="124.59" r="1.25"/>
<circle cx="606.78" cy="139.47" r="1.25"/>
<circle cx="607.88" cy="92.85" r="1.25"/>
<circle cx="607.19" cy="102.73" r="1.25"/>
<circle cx="605.41" cy="126.34" r="1.25"/>
<circle cx="605.95" cy="111.05" r="1.25"/>
<circle cx="610.78" cy="114.40" r="1.25"/>
<circle cx="608.17" cy="134.47" r="1.25"/>
<circle cx="607.09" cy="130.66" r="1.25"/>
<circle cx="608.40" cy="118.50" r="1.25"/>
<circle cx="608.68" cy="108.63" r="1.25"/>
<circle cx="605.17" cy="132.59" r="1.25"/>
<circle cx="611.81" cy="125.67" r="1.25"/>
<circle cx="607.92" cy="138.37" r="1.25"/>
<circle cx="608.19" cy="126.34" r="1.25"/>
<circle cx="609.20" cy="122.67" r="1.25"/>
<circle cx="612.11" cy="119.37" r="1.25"/>
<circle cx="601.61" cy="122.98" r="1.25"/>
<circle cx="607.80" cy="90.42" r="1.25"/>
<circle cx="606.52" cy="90.08" r="1.25"/>
<circle cx="606.44" cy="112.58" r="1.25"/>
<circle cx="606.92" cy="138.75" r="1.25"/>
<circle cx="610.95" cy="128.35" r="1.25"/>
<circle cx="610.92" cy="117.22" r="1.25"/>
<circle cx="606.94" cy="93.15" r="1.25"/>
<circle cx="609.96" cy="120.82" r="1.25"/>
<circle cx="607.40" cy="85.73" r="1.25"/>
<circle cx="610.21" cy="124.27" r="1.25"/>
<circle cx="607.04" cy="117.83" r="1.25"/>
<circle cx="603.02" cy="125.09" r="1.25"/>
<circle cx="606.43" cy="140.58" r="1.25"/>
<circle cx="606.52" cy="122.55" r="1.25"/>
<circle cx="605.02" cy="113.21" r="1.25"/>
<circle cx="605.37" cy="104.10" r="1.25"/>
<circle cx="606.76" cy="120.87" r="1.25"/>
<circle cx="610.84" cy="128.08" r="1.25"/>
<circle cx="605.43" cy="103.66" r="1.25"/>
<circle cx="610.59" cy="123.29" r="1.25"/>
<circle cx="611.12" cy="118.53" r="1.25"/>
<circle cx="608.41" cy="100.91" r="1.25"/>
<circle cx="604.04" cy="123.18" r="1.25"/>
<circle cx="609.21" cy="129.16" r="1.25"/>
<circle cx="606.33" cy="114.24" r="1.25"/>
<circle cx="605.66" cy="115.48" r="1.25"/>
<circle cx="605.80" cy="110.95" r="1.25"/>
<circle cx="607.52" cy="107.70" r="1.25"/>
<circle cx="606.83" cy="125.29" r="1.25"/>
<circle cx="608.70" cy="136.93" r="1.25"/>
<circle cx="608.36" cy="109.72" r="1.25"/>
<circle cx="606.31" cy="101.79" r="1.25"/>
<circle cx="605.53" cy="110.20" r="1.25"/>
<circle cx="611.18" cy="127.37" r="1.25"/>
<circle cx="602.56" cy="117.68" r="1.25"/>
<circle cx="605.11" cy="112.77" r="1.25"/>
<circle cx="608.17" cy="95.17" r="1.25"/>
<circle cx="606.55" cy="91.99" r="1.25"/>
<circle cx="604.99" cy="116.89" r="1.25"/>
<circle cx="607.89" cy="90.22" r="1.25"/>
<circle cx="606.95" cy="95.79" r="1.25"/>
<circle cx="603.88" cy="117.91" r="1.25"/>
<circle cx="605.12" cy="133.54" r="1.25"/>
<circle cx="606.74" cy="122.94" r="1.25"/>
<circle cx="604.90" cy="126.90" r="1.25"/>
<circle cx="603.47" cy="127.77" r="1.25"/>
<circle cx="603.41" cy="118.05" r="1.25"/>
<circle cx="605.34" cy="111.82" r="1.25"/>
<circle cx="608.29" cy="109.35" r="1.25"/>
<circle cx="611.11" cy="127.88" r="1.25"/>
<circle cx="607.63" cy="93.45" r="1.25"/>
<circle cx="605.38" cy="120.51" r="1.25"/>
<circle cx="608.18" cy="134.16" r="1.25"/>
<circle cx="605.60" cy="125.33" r="1.25"/>
<circle cx="602.83" cy="128.27" r="1.25"/>
<circle cx="607.43" cy="109.45" r="1.25"/>
<circle cx="610.30" cy="119.02" r="1.25"/>
<circle cx="602.19" cy="120.47" r="1.25"/>
<circle cx="607.44" cy="126.68" r="1.25"/>
<circle cx="607.40" cy="126.07" r="1.25"/>
<circle cx="605.01" cy="126.95" r="1.25"/>
<circle cx="610.47" cy="123.29" r="1.25"/>
<circle cx="607.77" cy="119.89" r="1.25"/>
<circle cx="611.73" cy="128.55" r="1.25"/>
<circle cx="611.12" cy="122.02" r="1.25"/>
<circle cx="605.64" cy="122.00" r="1.25"/>
<circle cx="608.56" cy="102.83" r="1.25"/>
<circle cx="606.65" cy="130.95" r="1.25"/>
<circle cx="603.77" cy="130.07" r="1.25"/>
<circle cx="606.93" cy="95.48" r="1.25"/>
<circle cx="606.78" cy="86.57" r="1.25"/>
<circle cx="606.79" cy="120.22" r="1.25"/>
<circle cx="605.31" cy="104.00" r="1.25"/>
<circle cx="604.05" cy="129.36" r="1.25"/>
<circle cx="606.79" cy="138.04" r="1.25"/>
<circle cx="608.99" cy="133.75" r="1.25"/>
<circle cx="611.27" cy="117.58" r="1.25"/>
<circle cx="606.14" cy="95.68" r="1.25"/>
<circle cx="607.20" cy="108.94" r="1.25"/>
<circle cx="606.16" cy="118.82" r="1.25"/>
<circle cx="610.17" cy="111.99" r="1.25"/>
<circle cx="606.80" cy="102.23" r="1.25"/>
<circle cx="603.14" cy="113.18" r="1.25"/>
<circle cx="604.31" cy="134.08" r="1.25"/>
<circle cx="605.61" cy="124.91" r="1.25"/>
<circle cx="606.70" cy="104.81" r="1.25"/>
<circle cx="610.40" cy="121.02" r="1.25"/>
<circle cx="607.26" cy="83.87" r="1.25"/>
<circle cx="603.25" cy="118.83" r="1.25"/>
<circle cx="606.86" cy="114.65" r="1.25"/>
<circle cx="604.37" cy="114.48" r="1.25"/>
<circle cx="605.29" cy="110.69" r="1.25"/>
<circle cx="604.74" cy="115.99" r="1.25"/>
<circle cx="606.10" cy="132.99" r="1.25"/>
<circle cx="606.91" cy="141.46" r="1.25"/>
<circle cx="602.66" cy="118.81" r="1.25"/>
<circle cx="610.45" cy="116.15" r="1.25"/>
<circle cx="608.76" cy="109.62" r="1.25"/>
<circle cx="606.17" cy="106.64" r="1.25"/>
<circle cx="601.92" cy="121.01" r="1.25"/>
<circle cx="608.22" cy="130.42" r="1.25"/>
<circle cx="608.19" cy="95.72" r="1.25"/>
<circle cx="609.96" cy="128.88" r="1.25"/>
<circle cx="606.71" cy="79.30" r="1.25"/>
<circle cx="608.86" cy="107.76" r="1.25"/>
<circle cx="612.09" cy="128.31" r="1.25"/>
<circle cx="612.09" cy="126.36" r="1.25"/>
<circle cx="611.42" cy="124.20" r="1.25"/>
<circle cx="606.07" cy="123.68" r="1.25"/>
<circle cx="604.30" cy="111.42" r="1.25"/>
<circle cx="606.21" cy="93.02" r="1.25"/>
<circle cx="608.43" cy="122.21" r="1.25"/>
<circle cx="604.69" cy="130.06" r="1.25"/>
<circle cx="605.52" cy="111.25" r="1.25"/>
<circle cx="606.15" cy="107.27" r="1.25"/>
<circle cx="609.50" cy="109.49" r="1.25"/>
<circle cx="607.73" cy="112.17" r="1.25"/>
<circle cx="601.79" cy="127.14" r="1.25"/>
<circle cx="607.09" cy="80.04" r="1.25"/>
<circle cx="605.82" cy="98.12" r="1.25"/>
<circle cx="601.53" cy="123.75" r="1.25"/>
<circle cx="608.31" cy="103.52" r="1.25"/>
<circle cx="607.11" cy="134.79" r="1.25"/>
<circle cx="605.89" cy="111.01" r="1.25"/>
<circle cx="608.26" cy="115.11" r="1.25"/>
<circle cx="603.18" cy="115.26" r="1.25"/>
<circle cx="605.86" cy="119.08" r="1.25"/>
<circle cx="610.47" cy="116.48" r="1.25"/>
<circle cx="607.48" cy="124.78" r="1.25"/>
<circle cx="606.94" cy="81.18" r="1.25"/>
<circle cx="603.33" cy="113.19" r="1.25"/>
<circle cx="609.38" cy="113.89" r="1.25"/>
<circle cx="609.52" cy="108.74" r="1.25"/>
<circle cx="608.06" cy="102.25" r="1.25"/>
<circle cx="612.64" cy="121.48" r="1.25"/>
<circle cx="604.91" cy="108.94" r="1.25"/>
<circle cx="605.69" cy="105.45" r="1.25"/>
<circle cx="605.83" cy="98.57" r="1.25"/>
<circle cx="610.27" cy="116.82" r="1.25"/>
<circle cx="608.09" cy="94.68" r="1.25"/>
<circle cx="605.97" cy="134.96" r="1.25"/>
<circle cx="606.20" cy="127.90" r="1.25"/>
<circle cx="610.23" cy="126.98" r="1.25"/>
<circle cx="605.64" cy="105.01" r="1.25"/>
<circle cx="605.57" cy="106.35" r="1.25"/>
<circle cx="606.97" cy="132.75" r="1.25"/>
<circle cx="606.16" cy="104.34" r="1.25"/>
<circle cx="610.11" cy="113.41" r="1.25"/>
<circle cx="606.87" cy="112.54" r="1.25"/>
<circle cx="609.02" cy="109.30" r="1.25"/>
<circle cx="606.99" cy="141.51" r="1.25"/>
<circle cx="607.98" cy="103.00" r="1.25"/>
<circle cx="607.13" cy="135.76" r="1.25"/>
<circle cx="606.94" cy="103.06" r="1.25"/>
<circle cx="607.21" cy="141.50" r="1.25"/>
<circle cx="606.51" cy="86.98" r="1.25"/>
<circle cx="607.28" cy="122.21" r="1.25"/>
<circle cx="607.56" cy="109.44" r="1.25"/>
<circle cx="603.84" cy="130.39" r="1.25"/>
<circle cx="606.89" cy="78.24" r="1.25"/>
<circle cx="612.51" cy="125.48" r="1.25"/>
<circle cx="604.75" cy="113.73" r="1.25"/>
<circle cx="607.35" cy="71.34" r="1.25"/>
<circle cx="609.00" cy="133.00" r="1.25"/>
<circle cx="608.02" cy="114.41" r="1.25"/>
<circle cx="607.25" cy="114.79" r="1.25"/>
<circle cx="603.19" cy="117.62" r="1.25"/>
<circle cx="609.94" cy="109.95" r="1.25"/>
<circle cx="607.59" cy="112.43" r="1.25"/>
<circle cx="606.63" cy="132.19" r="1.25"/>
<circle cx="607.88" cy="116.58" r="1.25"/>
<circle cx="607.19" cy="121.93" r="1.25"/>
<circle cx="608.29" cy="129.69" r="1.25"/>
<circle cx="605.97" cy="106.57" r="1.25"/>
<circle cx="606.48" cy="119.49" r="1.25"/>
<circle cx="605.65" cy="119.77" r="1.25"/>
<circle cx="608.01" cy="127.25" r="1.25"/>
<circle cx="607.32" cy="89.07" r="1.25"/>
<circle cx="607.27" cy="76.88" r="1.25"/>
<circle cx="607.10" cy="113.57" r="1.25"/>
<circle cx="603.32" cy="130.75" r="1.25"/>
<circle cx="608.35" cy="109.84" r="1.25"/>
<circle cx="603.08" cy="117.06" r="1.25"/>
<circle cx="607.91" cy="95.18" r="1.25"/>
<circle cx="602.19" cy="121.33" r="1.25"/>
<circle cx="611.10" cy="125.90" r="1.25"/>
<circle cx="608.01" cy="106.03" r="1.25"/>
<circle cx="607.82" cy="106.06" r="1.25"/>
<circle cx="604.54" cy="121.71" r="1.25"/>
<circle cx="602.63" cy="126.18" r="1.25"/>
<circle cx="609.28" cy="126.56" r="1.25"/>
<circle cx="608.60" cy="115.30" r="1.25"/>
<circle cx="608.10" cy="108.17" r="1.25"/>
<circle cx="607.18" cy="131.91" r="1.25"/>
<circle cx="605.78" cy="121.72" r="1.25"/>
<circle cx="606.16" cy="110.36" r="1.25"/>
<circle cx="609.49" cy="117.48" r="1.25"/>
<circle cx="606.38" cy="131.06" r="1.25"/>
<circle cx="608.00" cy="96.63" r="1.25"/>
<circle cx="607.59" cy="119.96" r="1.25"/>
<circle cx="606.28" cy="133.94" r="1.25"/>
<circle cx="607.07" cy="120.02" r="1.25"/>
<circle cx="611.64" cy="118.86" r="1.25"/>
<circle cx="608.05" cy="137.67" r="1.25"/>
<circle cx="610.31" cy="132.23" r="1.25"/>
<circle cx="606.37" cy="117.12" r="1.25"/>
<circle cx="610.29" cy="114.41" r="1.25"/>
<circle cx="604.71" cy="135.05" r="1.25"/>
<circle cx="608.76" cy="126.66" r="1.25"/>
<circle cx="606.97" cy="135.30" r="1.25"/>
<circle cx="607.68" cy="116.33" r="1.25"/>
<circle cx="610.01" cy="123.79" r="1.25"/>
<circle cx="610.82" cy="122.20" r="1.25"/>
<circle cx="608.78" cy="128.66" r="1.25"/>
<circle cx="612.38" cy="126.87" r="1.25"/>
<circle cx="606.97" cy="74.86" r="1.25"/>
<circle cx="608.04" cy="132.15" r="1.25"/>
<circle cx="608.52" cy="101.71" r="1.25"/>
<circle cx="608.47" cy="110.10" r="1.25"/>
<circle cx="602.99" cy="117.58" r="1.25"/>
<circle cx="611.25" cy="118.26" r="1.25"/>
<circle cx="604.44" cy="119.71" r="1.25"/>
<circle cx="606.40" cy="128.94" r="1.25"/>
<circle cx="606.59" cy="114.36" r="1.25"/>
<circle cx="609.72" cy="116.60" r="1.25"/>
<circle cx="606.25" cy="132.82" r="1.25"/>
<circle cx="605.69" cy="107.53" r="1.25"/>
<circle cx="606.53" cy="114.94" r="1.25"/>
<circle cx="607.25" cy="101.19" r="1.25"/>
<circle cx="607.71" cy="90.38" r="1.25"/>
<circle cx="604.39" cy="110.55" r="1.25"/>
<circle cx="604.17" cy="129.50" r="1.25"/>
<circle cx="602.70" cy="121.60" r="1.25"/>
<circle cx="605.49" cy="112.33" r="1.25"/>
<circle cx="607.92" cy="131.15" r="1.25"/>
<circle cx="604.13" cy="110.38" r="1.25"/>
<circle cx="607.83" cy="123.55" r="1.25"/>
<circle cx="606.91" cy="71.83" r="1.25"/>
<circle cx="611.99" cy="117.66" r="1.25"/>
<circle cx="602.17" cy="118.13" r="1.25"/>
<circle cx="609.45" cy="132.37" r="1.25"/>
<circle cx="606.71" cy="104.87" r="1.25"/>
<circle cx="611.16" cy="115.06" r="1.25"/>
<circle cx="607.99" cy="130.02" r="1.25"/>
<circle cx="610.30" cy="119.48" r="1.25"/>
<circle cx="607.52" cy="127.88" r="1.25"/>
<circle cx="604.13" cy="133.51" r="1.25"/>
<circle cx="608.44" cy="104.06" r="1.25"/>
<circle cx="606.11" cy="124.87" r="1.25"/>
<circle cx="610.76" cy="113.53" r="1.25"/>
<circle cx="609.19" cy="120.28" r="1.25"/>
<circle cx="604.70" cy="109.70" r="1.25"/>
<circle cx="610.66" cy="128.72" r="1.25"/>
<circle cx="608.42" cy="102.91" r="1.25"/>
<circle cx="608.93" cy="121.45" r="1.25"/>
<circle cx="609.17" cy="106.12" r="1.25"/>
<circle cx="605.97" cy="107.84" r="1.25"/>
<circle cx="606.16" cy="107.40" r="1.25"/>
<circle cx="607.58" cy="117.25" r="1.25"/>
<circle cx="604.39" cy="114.32" r="1.25"/>
<circle cx="602.18" cy="121.27" r="1.25"/>
<circle cx="608.39" cy="125.67" r="1.25"/>
<circle cx="607.44" cy="85.07" r="1.25"/>
<circle cx="607.03" cy="96.34" r="1.25"/>
<circle cx="610.37" cy="131.33" r="1.25"/>
<circle cx="606.15" cy="108.54" r="1.25"/>
<circle cx="609.48" cy="114.82" r="1.25"/>
<circle cx="605.57" cy="112.66" r="1.25"/>
<circle cx="608.56" cy="124.74" r="1.25"/>
<circle cx="607.71" cy="123.55" r="1.25"/>
<circle cx="607.28" cy="116.03" r="1.25"/>
<circle cx="610.02" cy="115.43" r="1.25"/>
<circle cx="608.26" cy="134.29" r="1.25"/>
<circle cx="611.44" cy="120.04" r="1.25"/>
<circle cx="605.98" cy="123.51" r="1.25"/>
<circle cx="607.21" cy="120.81" r="1.25"/>
<circle cx="606.13" cy="104.26" r="1.25"/>
<circle cx="609.78" cy="129.93" r="1.25"/>
<circle cx="604.56" cy="128.05" r="1.25"/>
<circle cx="606.88" cy="78.55" r="1.25"/>
<circle cx="609.33" cy="119.44" r="1.25"/>
<circle cx="609.12" cy="127.28" r="1.25"/>
<circle cx="606.71" cy="95.07" r="1.25"/>
<circle cx="603.01" cy="123.87" r="1.25"/>
<circle cx="607.07" cy="71.64" r="1.25"/>
<circle cx="607.54" cy="127.82" r="1.25"/>
<circle cx="611.08" cy="122.64" r="1.25"/>
<circle cx="608.94" cy="127.18" r="1.25"/>
<circle cx="605.94" cy="134.70" r="1.25"/>
<circle cx="606.63" cy="92.47" r="1.25"/>
<circle cx="605.95" cy="106.77" r="1.25"/>
<circle cx="606.30" cy="94.38" r="1.25"/>
<circle cx="608.86" cy="133.90" r="1.25"/>
<circle cx="605.53" cy="131.34" r="1.25"/>
<circle cx="602.93" cy="129.64" r="1.25"/>
<circle cx="608.72" cy="117.14" r="1.25"/>
<circle cx="606.86" cy="119.01" r="1.25"/>
<circle cx="608.24" cy="116.00" r="1.25"/>
<circle cx="608.07" cy="126.71" r="1.25"/>
<circle cx="607.19" cy="108.98" r="1.25"/>
<circle cx="607.13" cy="85.98" r="1.25"/>
<circle cx="606.80" cy="112.60" r="1.25"/>
<circle cx="603.05" cy="127.06" r="1.25"/>
<circle cx="609.35" cy="123.45" r="1.25"/>
<circle cx="607.51" cy="137.17" r="1.25"/>
<circle cx="607.72" cy="93.64" r="1.25"/>
<circle cx="605.68" cy="125.78" r="1.25"/>
<circle cx="607.05" cy="95.10" r="1.25"/>
<circle cx="607.63" cy="100.20" r="1.25"/>
<circle cx="607.81" cy="94.22" r="1.25"/>
<circle cx="604.83" cy="124.89" r="1.25"/>
<circle cx="602.64" cy="117.64" r="1.25"/>
<circle cx="610.86" cy="113.21" r="1.25"/>
<circle cx="609.87" cy="124.40" r="1.25"/>
<circle cx="612.09" cy="127.45" r="1.25"/>
<circle cx="606.23" cy="94.83" r="1.25"/>
<circle cx="610.10" cy="122.67" r="1.25"/>
<circle cx="609.63" cy="121.23" r="1.25"/>
<circle cx="603.64" cy="122.35" r="1.25"/>
<circle cx="610.82" cy="120.61" r="1.25"/>
<circle cx="607.19" cy="135.21" r="1.25"/>
<circle cx="609.75" cy="117.37" r="1.25"/>
<circle cx="607.31" cy="105.87" r="1.25"/>
<circle cx="606.60" cy="98.98" r="1.25"/>
<circle cx="606.62" cy="124.39" r="1.25"/>
<circle cx="607.22" cy="131.48" r="1.25"/>
<circle cx="605.84" cy="124.20" r="1.25"/>
<circle cx="605.76" cy="114.47" r="1.25"/>
<circle cx="607.81" cy="118.35" r="1.25"/>
<circle cx="612.57" cy="124.81" r="1.25"/>
<circle cx="604.77" cy="112.41" r="1.25"/>
<circle cx="604.32" cy="122.89" r="1.25"/>
<circle cx="606.65" cy="109.06" r="1.25"/>
<circle cx="602.74" cy="118.70" r="1.25"/>
<circle cx="607.76" cy="121.51" r="1.25"/>
<circle cx="606.28" cy="117.94" r="1.25"/>
<circle cx="605.13" cy="128.83" r="1.25"/>
<circle cx="602.80" cy="119.32" r="1.25"/>
<circle cx="607.16" cy="83.57" r="1.25"/>
<circle cx="604.34" cy="121.51" r="1.25"/>
<circle cx="605.96" cy="129.09" r="1.25"/>
<circle cx="608.44" cy="121.85" r="1.25"/>
<circle cx="611.32" cy="123.74" r="1.25"/>
<circle cx="603.66" cy="117.27" r="1.25"/>
<circle cx="604.35" cy="114.26" r="1.25"/>
<circle cx="605.41" cy="104.26" r="1.25"/>
<circle cx="608.83" cy="135.36" r="1.25"/>
<circle cx="607.33" cy="102.89" r="1.25"/>
<circle cx="603.04" cy="120.64" r="1.25"/>
<circle cx="605.88" cy="103.66" r="1.25"/>
<circle cx="606.50" cy="112.51" r="1.25"/>
<circle cx="609.65" cy="108.28" r="1.25"/>
<circle cx="607.02" cy="128.96" r="1.25"/>
<circle cx="608.25" cy="106.31" r="1.25"/>
<circle cx="608.98" cy="107.98" r="1.25"/>
<circle cx="611.64" cy="127.56" r="1.25"/>
<circle cx="606.93" cy="128.63" r="1.25"/>
<circle cx="605.54" cy="112.00" r="1.25"/>
<circle cx="612.18" cy="124.90" r="1.25"/>
<circle cx="607.27" cy="115.83" r="1.25"/>
<circle cx="605.10" cy="126.33" r="1.25"/>
<circle cx="610.65" cy="112.33" r="1.25"/>
<circle cx="603.07" cy="128.42" r="1.25"/>
<circle cx="608.51" cy="136.95" r="1.25"/>
<circle cx="604.01" cy="124.30" r="1.25"/>
<circle cx="607.32" cy="103.10" r="1.25"/>
<circle cx="606.40" cy="124.47" r="1.25"/>
<circle cx="608.26" cy="134.28" r="1.25"/>
<circle cx="607.35" cy="86.11" r="1.25"/>
<circle cx="612.42" cy="126.49" r="1.25"/>
<circle cx="610.08" cy="122.37" r="1.25"/>
<circle cx="610.32" cy="131.35" r="1.25"/>
<circle cx="606.69" cy="101.87" r="1.25"/>
<circle cx="607.34" cy="91.79" r="1.25"/>
<circle cx="605.91" cy="122.27" r="1.25"/>
<circle cx="604.50" cy="132.36" r="1.25"/>
<circle cx="607.23" cy="108.26" r="1.25"/>
<circle cx="607.34" cy="70.86" r="1.25"/>
<circle cx="607.94" cy="134.37" r="1.25"/>
<circle cx="610.63" cy="131.12" r="1.25"/>
<circle cx="603.01" cy="119.68" r="1.25"/>
<circle cx="610.91" cy="129.81" r="1.25"/>
<circle cx="607.36" cy="124.98" r="1.25"/>
<circle cx="607.52" cy="126.95" r="1.25"/>
<circle cx="609.14" cy="123.59" r="1.25"/>
<circle cx="607.21" cy="135.65" r="1.25"/>
<circle cx="606.77" cy="100.29" r="1.25"/>
<circle cx="610.53" cy="111.75" r="1.25"/>
<circle cx="603.43" cy="112.87" r="1.25"/>
<circle cx="606.95" cy="117.37" r="1.25"/>
<circle cx="609.81" cy="120.14" r="1.25"/>
<circle cx="608.53" cy="115.44" r="1.25"/>
<circle cx="608.22" cy="131.80" r="1.25"/>
<circle cx="605.87" cy="106.43" r="1.25"/>
<circle cx="602.22" cy="120.44" r="1.25"/>
<circle cx="610.42" cy="112.22" r="1.25"/>
<circle cx="607.71" cy="102.62" r="1.25"/>
<circle cx="604.54" cy="134.36" r="1.25"/>
<circle cx="608.39" cy="125.50" r="1.25"/>
<circle cx="601.86" cy="127.81" r="1.25"/>
<circle cx="605.54" cy="115.28" r="1.25"/>
<circle cx="606.75" cy="122.79" r="1.25"/>
<circle cx="606.54" cy="132.16" r="1.25"/>
<circle cx="610.70" cy="124.97" r="1.25"/>
<circle cx="604.39" cy="108.88" r="1.25"/>
<circle cx="604.45" cy="108.54" r="1.25"/>
<circle cx="606.72" cy="137.70" r="1.25"/>
<circle cx="608.94" cy="127.03" r="1.25"/>
<circle cx="608.55" cy="105.75" r="1.25"/>
<circle cx="607.78" cy="125.41" r="1.25"/>
<circle cx="606.85" cy="128.48" r="1.25"/>
<circle cx="610.21" cy="123.56" r="1.25"/>
<circle cx="608.25" cy="137.45" r="1.25"/>
<circle cx="609.98" cy="122.65" r="1.25"/>
<circle cx="608.18" cy="100.92" r="1.25"/>
<circle cx="607.05" cy="107.64" r="1.25"/>
<circle cx="608.21" cy="136.00" r="1.25"/>
<circle cx="606.42" cy="130.49" r="1.25"/>
<circle cx="608.60" cy="127.52" r="1.25"/>
<circle cx="607.10" cy="133.53" r="1.25"/>
<circle cx="606.92" cy="83.94" r="1.25"/>
<circle cx="607.40" cy="112.02" r="1.25"/>
<circle cx="609.81" cy="123.88" r="1.25"/>
<circle cx="601.91" cy="124.56" r="1.25"/>
<circle cx="607.73" cy="131.28" r="1.25"/>
<circle cx="611.48" cy="119.95" r="1.25"/>
<circle cx="610.76" cy="114.97" r="1.25"/>
<circle cx="610.06" cy="130.39" r="1.25"/>
<circle cx="606.60" cy="138.27" r="1.25"/>
<circle cx="607.19" cy="81.42" r="1.25"/>
<circle cx="601.96" cy="122.71" r="1.25"/>
<circle cx="611.50" cy="118.75" r="1.25"/>
<circle cx="606.11" cy="120.32" r="1.25"/>
<circle cx="607.20" cy="116.50" r="1.25"/>
<circle cx="606.08" cy="117.83" r="1.25"/>
<circle cx="606.33" cy="130.85" r="1.25"/>
<circle cx="606.70" cy="99.54" r="1.25"/>
<circle cx="606.86" cy="127.45" r="1.25"/>
<circle cx="606.95" cy="126.28" r="1.25"/>
<circle cx="604.25" cy="119.40" r="1.25"/>
<circle cx="606.65" cy="127.58" r="1.25"/>
<circle cx="606.88" cy="139.06" r="1.25"/>
<circle cx="604.39" cy="122.54" r="1.25"/>
<circle cx="605.52" cy="122.48" r="1.25"/>
<circle cx="602.77" cy="126.26" r="1.25"/>
<circle cx="610.24" cy="119.96" r="1.25"/>
<circle cx="607.32" cy="133.43" r="1.25"/>
<circle cx="609.57" cy="112.86" r="1.25"/>
<circle cx="604.31" cy="121.38" r="1.25"/>
<circle cx="609.48" cy="112.61" r="1.25"/>
<circle cx="608.37" cy="102.86" r="1.25"/>
<circle cx="611.73" cy="123.87" r="1.25"/>
<circle cx="606.60" cy="86.40" r="1.25"/>
<circle cx="606.42" cy="88.85" r="1.25"/>
<circle cx="604.54" cy="133.66" r="1.25"/>
<circle cx="607.34" cy="140.09" r="1.25"/>
<circle cx="611.40" cy="125.07" r="1.25"/>
<circle cx="607.19" cy="131.73" r="1.25"/>
<circle cx="605.26" cy="131.71" r="1.25"/>
<circle cx="606.65" cy="101.84" r="1.25"/>
<circle cx="607.74" cy="90.05" r="1.25"/>
<circle cx="609.81" cy="113.47" r="1.25"/>
<circle cx="608.79" cy="120.38" r="1.25"/>
<circle cx="602.68" cy="125.44" r="1.25"/>
<circle cx="603.53" cy="123.45" r="1.25"/>
<circle cx="607.44" cy="93.97" r="1.25"/>
<circle cx="610.38" cy="120.09" r="1.25"/>
<circle cx="610.20" cy="129.07" r="1.25"/>
<circle cx="603.69" cy="118.58" r="1.25"/>
<circle cx="611.31" cy="116.78" r="1.25"/>
<circle cx="612.18" cy="122.68" r="1.25"/>
<circle cx="605.40" cy="109.88" r="1.25"/>
<circle cx="608.51" cy="117.45" r="1.25"/>
<circle cx="607.50" cy="124.43" r="1.25"/>
<circle cx="610.57" cy="114.35" r="1.25"/>
<circle cx="609.66" cy="118.04" r="1.25"/>
<circle cx="611.51" cy="120.03" r="1.25"/>
<circle cx="603.35" cy="121.28" r="1.25"/>
<circle cx="607.00" cy="103.45" r="1.25"/>
<circle cx="608.33" cy="116.93" r="1.25"/>
<circle cx="604.98" cy="130.79" r="1.25"/>
<circle cx="605.45" cy="131.23" r="1.25"/>
<circle cx="605.57" cy="103.11" r="1.25"/>
<circle cx="611.27" cy="119.03" r="1.25"/>
<circle cx="607.45" cy="74.51" r="1.25"/>
<circle cx="605.76" cy="113.52" r="1.25"/>
<circle cx="603.69" cy="126.92" r="1.25"/>
<circle cx="607.89" cy="131.11" r="1.25"/>
<circle cx="603.10" cy="122.04" r="1.25"/>
<circle cx="607.79" cy="125.66" r="1.25"/>
<circle cx="604.26" cy="124.29" r="1.25"/>
<circle cx="604.55" cy="120.25" r="1.25"/>
<circle cx="609.11" cy="135.62" r="1.25"/>
<circle cx="607.22" cy="91.54" r="1.25"/>
<circle cx="609.81" cy="115.25" r="1.25"/>
<circle cx="607.82" cy="131.79" r="1.25"/>
<circle cx="605.23" cy="125.51" r="1.25"/>
<circle cx="606.13" cy="118.87" r="1.25"/>
<circle cx="609.55" cy="122.13" r="1.25"/>
<circle cx="604.24" cy="133.69" r="1.25"/>
<circle cx="607.83" cy="138.37" r="1.25"/>
<circle cx="605.75" cy="99.75" r="1.25"/>
<circle cx="606.95" cy="74.52" r="1.25"/>
<circle cx="606.77" cy="106.87" r="1.25"/>
<circle cx="602.17" cy="124.44" r="1.25"/>
<circle cx="604.99" cy="110.89" r="1.25"/>
<circle cx="609.55" cy="133.60" r="1.25"/>
<circle cx="607.86" cy="109.84" r="1.25"/>
<circle cx="604.66" cy="134.20" r="1.25"/>
<circle cx="611.60" cy="120.29" r="1.25"/>
<circle cx="606.74" cy="120.37" r="1.25"/>
<circle cx="608.58" cy="127.31" r="1.25"/>
<circle cx="606.11" cy="121.89" r="1.25"/>
<circle cx="611.33" cy="124.47" r="1.25"/>
<circle cx="611.90" cy="128.70" r="1.25"/>
<circle cx="609.17" cy="109.02" r="1.25"/>
<circle cx="605.81" cy="104.11" r="1.25"/>
<circle cx="602.78" cy="118.64" r="1.25"/>
<circle cx="606.73" cy="140.66" r="1.25"/>
<circle cx="605.77" cy="115.55" r="1.25"/>
<circle cx="602.47" cy="126.53" r="1.25"/>
<circle cx="608.52" cy="116.60" r="1.25"/>
<circle cx="606.21" cy="119.96" r="1.25"/>
<circle cx="607.31" cy="132.23" r="1.25"/>
<circle cx="608.27" cy="133.02" r="1.25"/>
<circle cx="607.45" cy="111.40" r="1.25"/>
<circle cx="608.16" cy="129.95" r="1.25"/>
<circle cx="605.22" cy="116.70" r="1.25"/>
<circle cx="605.14" cy="125.54" r="1.25"/>
<circle cx="609.18" cy="119.48" r="1.25"/>
<circle cx="606.81" cy="130.42" r="1.25"/>
<circle cx="606.09" cy="128.46" r="1.25"/>
<circle cx="605.28" cy="135.22" r="1.25"/>
<circle cx="607.52" cy="85.95" r="1.25"/>
<circle cx="602.57" cy="129.20" r="1.25"/>
<circle cx="606.40" cy="116.12" r="1.25"/>
<circle cx="605.76" cy="129.83" r="1.25"/>
<circle cx="603.01" cy="130.67" r="1.25"/>
<circle cx="605.28" cy="119.80" r="1.25"/>
<circle cx="603.60" cy="124.45" r="1.25"/>
<circle cx="609.39" cy="122.46" r="1.25"/>
<circle cx="612.07" cy="120.88" r="1.25"/>
<circle cx="611.65" cy="122.09" r="1.25"/>
<circle cx="606.62" cy="113.12" r="1.25"/>
<circle cx="603.00" cy="123.69" r="1.25"/>
<circle cx="610.14" cy="129.51" r="1.25"/>
<circle cx="605.01" cy="107.14" r="1.25"/>
<circle cx="608.59" cy="121.25" r="1.25"/>
<circle cx="612.41" cy="125.42" r="1.25"/>
<circle cx="607.08" cy="102.03" r="1.25"/>
<circle cx="612.10" cy="127.21" r="1.25"/>
<circle cx="628.72" cy="77.02" r="1.25"/>
<circle cx="628.15" cy="81.76" r="1.25"/>
<circle cx="628.12" cy="72.93" r="1.25"/>
<circle cx="629.26" cy="117.63" r="1.25"/>
<circle cx="627.46" cy="80.79" r="1.25"/>
<circle cx="627.82" cy="90.99" r="1.25"/>
<circle cx="628.79" cy="74.93" r="1.25"/>
<circle cx="628.02" cy="110.35" r="1.25"/>
<circle cx="629.00" cy="92.87" r="1.25"/>
<circle cx="629.06" cy="83.53" r="1.25"/>
<circle cx="628.47" cy="84.27" r="1.25"/>
<circle cx="628.05" cy="86.45" r="1.25"/>
<circle cx="628.66" cy="124.61" r="1.25"/>
<circle cx="627.93" cy="104.78" r="1.25"/>
<circle cx="627.96" cy="72.07" r="1.25"/>
<circle cx="628.68" cy="101.05" r="1.25"/>
<circle cx="628.43" cy="65.81" r="1.25"/>
<circle cx="627.92" cy="126.77" r="1.25"/>
<circle cx="628.12" cy="94.07" r="1.25"/>
<circle cx="628.75" cy="118.29" r="1.25"/>
<circle cx="628.02" cy="98.69" r="1.25"/>
<circle cx="627.23" cy="104.38" r="1.25"/>
<circle cx="627.57" cy="104.19" r="1.25"/>
<circle cx="628.67" cy="120.27" r="1.25"/>
<circle cx="628.68" cy="82.39" r="1.25"/>
<circle cx="627.75" cy="100.96" r="1.25"/>
<circle cx="627.42" cy="103.34" r="1.25"/>
<circle cx="628.34" cy="66.10" r="1.25"/>
<circle cx="628.67" cy="91.70" r="1.25"/>
<circle cx="627.50" cy="88.98" r="1.25"/>
<circle cx="627.53" cy="107.56" r="1.25"/>
<circle cx="629.39" cy="111.95" r="1.25"/>
<circle cx="628.61" cy="102.83" r="1.25"/>
<circle cx="628.69" cy="107.96" r="1.25"/>
<circle cx="627.57" cy="119.16" r="1.25"/>
<circle cx="628.18" cy="75.40" r="1.25"/>
<circle cx="628.51" cy="71.81" r="1.25"/>
<circle cx="627.69" cy="92.07" r="1.25"/>
<circle cx="627.10" cy="97.49" r="1.25"/>
<circle cx="627.84" cy="127.17" r="1.25"/>
<circle cx="628.25" cy="132.56" r="1.25"/>
<circle cx="628.70" cy="71.51" r="1.25"/>
<circle cx="627.61" cy="131.04" r="1.25"/>
<circle cx="628.71" cy="102.66" r="1.25"/>
<circle cx="628.07" cy="77.61" r="1.25"/>
<circle cx="628.10" cy="119.23" r="1.25"/>
<circle cx="628.50" cy="76.47" r="1.25"/>
<circle cx="627.94" cy="89.21" r="1.25"/>
<circle cx="628.65" cy="81.17" r="1.25"/>
<circle cx="629.01" cy="93.99" r="1.25"/>
<circle cx="627.73" cy="72.55" r="1.25"/>
<circle cx="627.06" cy="103.73" r="1.25"/>
<circle cx="628.07" cy="124.61" r="1.25"/>
<circle cx="628.63" cy="67.92" r="1.25"/>
<circle cx="628.64" cy="71.51" r="1.25"/>
<circle cx="627.32" cy="84.64" r="1.25"/>
<circle cx="627.51" cy="101.72" r="1.25"/>
<circle cx="627.64" cy="80.62" r="1.25"/>
<circle cx="628.35" cy="93.01" r="1.25"/>
<circle cx="628.58" cy="83.41" r="1.25"/>
<circle cx="627.59" cy="103.71" r="1.25"/>
<circle cx="627.66" cy="87.75" r="1.25"/>
<circle cx="627.76" cy="96.47" r="1.25"/>
<circle cx="627.05" cy="107.22" r="1.25"/>
<circle cx="627.76" cy="69.83" r="1.25"/>
<circle cx="628.50" cy="102.71" r="1.25"/>
<circle cx="629.02" cy="120.03" r="1.25"/>
<circle cx="628.07" cy="124.34" r="1.25"/>
<circle cx="628.50" cy="73.03" r="1.25"/>
<circle cx="628.05" cy="89.31" r="1.25"/>
<circle cx="627.56" cy="102.29" r="1.25"/>
<circle cx="628.25" cy="104.23" r="1.25"/>
<circle cx="629.20" cy="120.09" r="1.25"/>
<circle cx="628.30" cy="65.05" r="1.25"/>
<circle cx="629.25" cy="112.72" r="1.25"/>
<circle cx="628.26" cy="76.18" r="1.25"/>
<circle cx="628.00" cy="87.73" r="1.25"/>
<circle cx="628.51" cy="128.55" r="1.25"/>
<circle cx="629.21" cy="104.34" r="1.25"/>
<circle cx="627.68" cy="80.35" r="1.25"/>
<circle cx="627.87" cy="114.60" r="1.25"/>
<circle cx="628.50" cy="86.65" r="1.25"/>
<circle cx="628.46" cy="60.81" r="1.25"/>
<circle cx="627.72" cy="127.44" r="1.25"/>
<circle cx="628.81" cy="130.96" r="1.25"/>
<circle cx="628.59" cy="130.19" r="1.25"/>
<circle cx="628.06" cy="131.27" r="1.25"/>
<circle cx="629.12" cy="119.95" r="1.25"/>
<circle cx="627.48" cy="94.04" r="1.25"/>
<circle cx="627.78" cy="122.44" r="1.25"/>
<circle cx="628.46" cy="60.81" r="1.25"/>
<circle cx="629.09" cy="94.56" r="1.25"/>
<circle cx="627.76" cy="123.73" r="1.25"/>
<circle cx="627.92" cy="68.93" r="1.25"/>
<circle cx="627.92" cy="75.46" r="1.25"/>
<circle cx="627.22" cy="89.04" r="1.25"/>
<circle cx="628.34" cy="103.12" r="1.25"/>
<circle cx="627.48" cy="108.29" r="1.25"/>
<circle cx="628.89" cy="102.49" r="1.25"/>
<circle cx="628.13" cy="73.63" r="1.25"/>
<circle cx="627.99" cy="86.53" r="1.25"/>
<circle cx="628.23" cy="128.13" r="1.25"/>
<circle cx="627.77" cy="106.81" r="1.25"/>
<circle cx="629.40" cy="107.40" r="1.25"/>
<circle cx="628.57" cy="104.15" r="1.25"/>
<circle cx="628.61" cy="116.87" r="1.25"/>
<circle cx="627.90" cy="90.28" r="1.25"/>
<circle cx="628.29" cy="78.59" r="1.25"/>
<circle cx="627.91" cy="73.79" r="1.25"/>
<circle cx="629.15" cy="89.30" r="1.25"/>
<circle cx="627.96" cy="101.18" r="1.25"/>
<circle cx="628.25" cy="102.81" r="1.25"/>
<circle cx="627.46" cy="100.10" r="1.25"/>
<circle cx="627.86" cy="77.08" r="1.25"/>
<circle cx="628.83" cy="104.76" r="1.25"/>
<circle cx="628.05" cy="95.44" r="1.25"/>
<circle cx="627.39" cy="121.79" r="1.25"/>
<circle cx="628.79" cy="102.90" r="1.25"/>
<circle cx="627.27" cy="89.20" r="1.25"/>
<circle cx="628.02" cy="136.53" r="1.25"/>
<circle cx="628.09" cy="132.28" r="1.25"/>
<circle cx="628.81" cy="93.99" r="1.25"/>
<circle cx="627.65" cy="67.20" r="1.25"/>
<circle cx="628.88" cy="81.39" r="1.25"/>
<circle cx="628.66" cy="68.34" r="1.25"/>
<circle cx="627.13" cy="105.85" r="1.25"/>
<circle cx="628.32" cy="65.02" r="1.25"/>
<circle cx="627.76" cy="123.59" r="1.25"/>
<circle cx="628.70" cy="92.49" r="1.25"/>
<circle cx="627.80" cy="112.88" r="1.25"/>
<circle cx="629.30" cy="108.86" r="1.25"/>
<circle cx="628.59" cy="101.39" r="1.25"/>
<circle cx="628.57" cy="97.80" r="1.25"/>
<circle cx="629.06" cy="84.17" r="1.25"/>
<circle cx="627.80" cy="123.34" r="1.25"/>
<circle cx="628.09" cy="74.43" r="1.25"/>
<circle cx="628.16" cy="93.95" r="1.25"/>
<circle cx="628.59" cy="104.82" r="1.25"/>
<circle cx="627.60" cy="115.30" r="1.25"/>
<circle cx="628.42" cy="112.61" r="1.25"/>
<circle cx="627.07" cy="107.23" r="1.25"/>
<circle cx="627.62" cy="115.00" r="1.25"/>
<circle cx="627.28" cy="119.50" r="1.25"/>
<circle cx="629.05" cy="119.98" r="1.25"/>
<circle cx="627.60" cy="90.67" r="1.25"/>
<circle cx="628.08" cy="67.36" r="1.25"/>
<circle cx="629.16" cy="97.71" r="1.25"/>
<circle cx="627.09" cy="101.54" r="1.25"/>
<circle cx="628.74" cy="104.62" r="1.25"/>
<circle cx="627.72" cy="111.85" r="1.25"/>
<circle cx="627.50" cy="105.44" r="1.25"/>
<circle cx="628.12" cy="112.00" r="1.25"/>
<circle cx="628.42" cy="127.79" r="1.25"/>
<circle cx="627.84" cy="90.14" r="1.25"/>
<circle cx="628.42" cy="130.54" r="1.25"/>
<circle cx="628.78" cy="130.52" r="1.25"/>
<circle cx="627.90" cy="122.01" r="1.25"/>
<circle cx="627.60" cy="113.80" r="1.25"/>
<circle cx="628.82" cy="75.59" r="1.25"/>
<circle cx="628.63" cy="99.45" r="1.25"/>
<circle cx="627.39" cy="94.64" r="1.25"/>
<circle cx="627.96" cy="79.31" r="1.25"/>
<circle cx="627.53" cy="111.39" r="1.25"/>
<circle cx="628.71" cy="75.70" r="1.25"/>
<circle cx="628.16" cy="122.71" r="1.25"/>
<circle cx="627.56" cy="106.01" r="1.25"/>
<circle cx="628.08" cy="117.73" r="1.25"/>
<circle cx="627.82" cy="104.61" r="1.25"/>
<circle cx="628.79" cy="120.11" r="1.25"/>
<circle cx="628.82" cy="124.34" r="1.25"/>
<circle cx="628.59" cy="135.02" r="1.25"/>
<circle cx="628.72" cy="95.48" r="1.25"/>
<circle cx="627.77" cy="86.75" r="1.25"/>
<circle cx="627.78" cy="122.96" r="1.25"/>
<circle cx="628.89" cy="117.69" r="1.25"/>
<circle cx="628.49" cy="107.18" r="1.25"/>
<circle cx="628.35" cy="96.37" r="1.25"/>
<circle cx="628.73" cy="82.65" r="1.25"/>
<circle cx="627.94" cy="113.47" r="1.25"/>
<circle cx="629.27" cy="114.93" r="1.25"/>
<circle cx="627.70" cy="118.19" r="1.25"/>
<circle cx="627.24" cy="93.60" r="1.25"/>
<circle cx="628.41" cy="119.06" r="1.25"/>
<circle cx="629.15" cy="100.32" r="1.25"/>
<circle cx="628.58" cy="108.73" r="1.25"/>
<circle cx="628.73" cy="72.43" r="1.25"/>
<circle cx="627.56" cy="96.33" r="1.25"/>
<circle cx="628.88" cy="96.90" r="1.25"/>
<circle cx="627.91" cy="106.62" r="1.25"/>
<circle cx="628.50" cy="76.94" r="1.25"/>
<circle cx="627.99" cy="84.71" r="1.25"/>
<circle cx="629.16" cy="90.33" r="1.25"/>
<circle cx="627.96" cy="116.15" r="1.25"/>
<circle cx="628.16" cy="78.02" r="1.25"/>
<circle cx="628.14" cy="109.95" r="1.25"/>
<circle cx="628.74" cy="87.20" r="1.25"/>
<circle cx="627.32" cy="91.81" r="1.25"/>
<circle cx="629.20" cy="122.75" r="1.25"/>
<circle cx="628.25" cy="131.00" r="1.25"/>
<circle cx="627.87" cy="112.42" r="1.25"/>
<circle cx="628.05" cy="116.20" r="1.25"/>
<circle cx="628.13" cy="103.98" r="1.25"/>
<circle cx="628.24" cy="83.35" r="1.25"/>
<circle cx="628.20" cy="114.71" r="1.25"/>
<circle cx="629.41" cy="112.21" r="1.25"/>
<circle cx="628.31" cy="77.16" r="1.25"/>
<circle cx="627.95" cy="114.17" r="1.25"/>
<circle cx="649.95" cy="86.06" r="1.25"/>
<circle cx="649.49" cy="126.09" r="1.25"/>
<circle cx="649.91" cy="95.05" r="1.25"/>
<circle cx="650.30" cy="100.60" r="1.25"/>
<circle cx="648.94" cy="129.17" r="1.25"/>
<circle cx="649.70" cy="122.00" r="1.25"/>
<circle cx="649.76" cy="63.84" r="1.25"/>
<circle cx="650.44" cy="99.34" r="1.25"/>
<circle cx="649.74" cy="120.01" r="1.25"/>
<circle cx="649.03" cy="89.34" r="1.25"/>
<circle cx="649.04" cy="77.16" r="1.25"/>
<circle cx="650.02" cy="88.84" r="1.25"/>
<circle cx="650.29" cy="111.86" r="1.25"/>
<circle cx="649.66" cy="85.04" r="1.25"/>
<circle cx="649.58" cy="62.10" r="1.25"/>
<circle cx="650.04" cy="101.56" r="1.25"/>
<circle cx="649.33" cy="66.46" r="1.25"/>
<circle cx="648.98" cy="120.26" r="1.25"/>
<circle cx="648.58" cy="118.97" r="1.25"/>
<circle cx="649.32" cy="80.92" r="1.25"/>
<circle cx="648.45" cy="89.31" r="1.25"/>
<circle cx="649.54" cy="64.69" r="1.25"/>
<circle cx="649.86" cy="70.51" r="1.25"/>
<circle cx="648.80" cy="74.00" r="1.25"/>
<circle cx="649.49" cy="65.78" r="1.25"/>
<circle cx="649.43" cy="110.18" r="1.25"/>
<circle cx="648.67" cy="85.27" r="1.25"/>
<circle cx="650.29" cy="107.69" r="1.25"/>
<circle cx="648.92" cy="75.79" r="1.25"/>
<circle cx="649.70" cy="93.88" r="1.25"/>
<circle cx="648.93" cy="101.96" r="1.25"/>
<circle cx="648.42" cy="98.77" r="1.25"/>
<circle cx="649.57" cy="117.17" r="1.25"/>
<circle cx="649.39" cy="80.12" r="1.25"/>
<circle cx="648.51" cy="83.55" r="1.25"/>
<circle cx="649.58" cy="66.04" r="1.25"/>
<circle cx="649.62" cy="93.05" r="1.25"/>
<circle cx="649.81" cy="117.33" r="1.25"/>
<circle cx="649.22" cy="112.02" r="1.25"/>
<circle cx="649.98" cy="98.86" r="1.25"/>
<circle cx="650.16" cy="80.24" r="1.25"/>
<circle cx="649.63" cy="107.40" r="1.25"/>
<circle cx="648.44" cy="103.09" r="1.25"/>
<circle cx="649.59" cy="88.81" r="1.25"/>
<circle cx="648.86" cy="90.03" r="1.25"/>
<circle cx="649.17" cy="115.14" r="1.25"/>
<circle cx="649.80" cy="116.14" r="1.25"/>
<circle cx="648.92" cy="125.97" r="1.25"/>
<circle cx="649.81" cy="104.30" r="1.25"/>
<circle cx="650.13" cy="91.60" r="1.25"/>
<circle cx="649.26" cy="114.88" r="1.25"/>
<circle cx="648.93" cy="112.21" r="1.25"/>
<circle cx="648.51" cy="100.18" r="1.25"/>
<circle cx="650.20" cy="79.06" r="1.25"/>
<circle cx="649.49" cy="136.03" r="1.25"/>
<circle cx="648.93" cy="70.33" r="1.25"/>
<circle cx="650.42" cy="98.14" r="1.25"/>
<circle cx="650.17" cy="112.69" r="1.25"/>
<circle cx="648.70" cy="99.13" r="1.25"/>
<circle cx="649.52" cy="97.25" r="1.25"/>
<circle cx="649.68" cy="129.23" r="1.25"/>
<circle cx="649.04" cy="105.82" r="1.25"/>
<circle cx="648.86" cy="95.30" r="1.25"/>
<circle cx="649.69" cy="88.28" r="1.25"/>
<circle cx="649.98" cy="97.34" r="1.25"/>
<circle cx="649.16" cy="91.61" r="1.25"/>
<circle cx="649.25" cy="111.54" r="1.25"/>
<circle cx="649.30" cy="136.26" r="1.25"/>
<circle cx="649.10" cy="71.17" r="1.25"/>
<circle cx="650.18" cy="107.30" r="1.25"/>
<circle cx="648.55" cy="92.78" r="1.25"/>
<circle cx="649.40" cy="100.05" r="1.25"/>
<circle cx="649.41" cy="68.00" r="1.25"/>
<circle cx="648.84" cy="124.35" r="1.25"/>
<circle cx="648.65" cy="108.25" r="1.25"/>
<circle cx="648.86" cy="73.36" r="1.25"/>
<circle cx="649.61" cy="128.53" r="1.25"/>
<circle cx="649.53" cy="121.70" r="1.25"/>
<circle cx="649.75" cy="85.33" r="1.25"/>
<circle cx="648.99" cy="70.52" r="1.25"/>
<circle cx="649.91" cy="96.95" r="1.25"/>
<circle cx="649.31" cy="84.72" r="1.25"/>
<circle cx="649.69" cy="107.33" r="1.25"/>
<circle cx="648.76" cy="116.50" r="1.25"/>
<circle cx="649.53" cy="80.05" r="1.25"/>
<circle cx="649.69" cy="85.19" r="1.25"/>
<circle cx="649.13" cy="68.23" r="1.25"/>
<circle cx="649.67" cy="90.55" r="1.25"/>
<circle cx="650.24" cy="107.18" r="1.25"/>
<circle cx="650.23" cy="106.80" r="1.25"/>
<circle cx="648.58" cy="117.08" r="1.25"/>
<circle cx="648.96" cy="124.83" r="1.25"/>
<circle cx="649.95" cy="93.64" r="1.25"/>
<circle cx="649.03" cy="69.74" r="1.25"/>
<circle cx="650.09" cy="117.02" r="1.25"/>
<circle cx="649.22" cy="91.35" r="1.25"/>
<circle cx="648.85" cy="88.82" r="1.25"/>
<circle cx="650.26" cy="92.05" r="1.25"/>
<circle cx="649.88" cy="103.31" r="1.25"/>
<circle cx="648.71" cy="105.96" r="1.25"/>
<circle cx="648.94" cy="93.73" r="1.25"/>
<circle cx="650.35" cy="89.79" r="1.25"/>
<circle cx="650.09" cy="82.77" r="1.25"/>
<circle cx="649.48" cy="124.27" r="1.25"/>
<circle cx="650.10" cy="74.49" r="1.25"/>
<circle cx="649.22" cy="132.46" r="1.25"/>
<circle cx="650.10" cy="74.79" r="1.25"/>
<circle cx="648.66" cy="80.83" r="1.25"/>
<circle cx="650.30" cy="111.77" r="1.25"/>
<circle cx="648.53" cy="85.00" r="1.25"/>
<circle cx="650.18" cy="88.99" r="1.25"/>
<circle cx="648.54" cy="110.75" r="1.25"/>
<circle cx="648.87" cy="109.62" r="1.25"/>
<circle cx="649.64" cy="63.42" r="1.25"/>
<circle cx="649.59" cy="116.30" r="1.25"/>
<circle cx="649.04" cy="74.10" r="1.25"/>
<circle cx="649.23" cy="134.44" r="1.25"/>
<circle cx="650.04" cy="100.10" r="1.25"/>
<circle cx="648.61" cy="119.64" r="1.25"/>
<circle cx="650.19" cy="118.44" r="1.25"/>
<circle cx="650.39" cy="108.98" r="1.25"/>
<circle cx="650.14" cy="113.40" r="1.25"/>
<circle cx="669.40" cy="96.79" r="1.25"/>
<circle cx="670.20" cy="49.42" r="1.25"/>
<circle cx="671.18" cy="95.62" r="1.25"/>
<circle cx="671.49" cy="84.98" r="1.25"/>
<circle cx="670.40" cy="127.20" r="1.25"/>
<circle cx="671.21" cy="112.77" r="1.25"/>
<circle cx="670.00" cy="75.60" r="1.25"/>
<circle cx="670.35" cy="107.01" r="1.25"/>
<circle cx="670.08" cy="59.68" r="1.25"/>
<circle cx="670.88" cy="110.60" r="1.25"/>
<circle cx="670.49" cy="113.88" r="1.25"/>
<circle cx="671.18" cy="97.09" r="1.25"/>
<circle cx="670.81" cy="65.54" r="1.25"/>
<circle cx="669.62" cy="80.81" r="1.25"/>
<circle cx="670.89" cy="101.26" r="1.25"/>
<circle cx="669.71" cy="96.65" r="1.25"/>
<circle cx="669.81" cy="67.48" r="1.25"/>
<circle cx="670.64" cy="80.11" r="1.25"/>
<circle cx="671.08" cy="115.56" r="1.25"/>
<circle cx="670.63" cy="116.02" r="1.25"/>
<circle cx="670.04" cy="64.33" r="1.25"/>
<circle cx="669.71" cy="64.88" r="1.25"/>
<circle cx="669.89" cy="118.42" r="1.25"/>
<circle cx="670.30" cy="117.92" r="1.25"/>
<circle cx="670.16" cy="105.20" r="1.25"/>
<circle cx="670.82" cy="60.49" r="1.25"/>
<circle cx="670.20" cy="121.83" r="1.25"/>
<circle cx="670.47" cy="90.92" r="1.25"/>
<circle cx="669.52" cy="89.05" r="1.25"/>
<circle cx="669.67" cy="82.32" r="1.25"/>
<circle cx="670.68" cy="91.98" r="1.25"/>
<circle cx="670.40" cy="72.64" r="1.25"/>
<circle cx="671.47" cy="92.98" r="1.25"/>
<circle cx="669.82" cy="76.98" r="1.25"/>
<circle cx="671.35" cy="68.09" r="1.25"/>
<circle cx="670.39" cy="93.38" r="1.25"/>
<circle cx="671.51" cy="90.63" r="1.25"/>
<circle cx="671.06" cy="82.44" r="1.25"/>
<circle cx="671.31" cy="87.38" r="1.25"/>
<circle cx="670.45" cy="82.80" r="1.25"/>
<circle cx="671.03" cy="73.14" r="1.25"/>
<circle cx="670.09" cy="76.65" r="1.25"/>
<circle cx="670.50" cy="97.82" r="1.25"/>
<circle cx="669.73" cy="96.28" r="1.25"/>
<circle cx="670.43" cy="49.78" r="1.25"/>
<circle cx="671.23" cy="105.16" r="1.25"/>
<circle cx="670.26" cy="123.80" r="1.25"/>
<circle cx="669.96" cy="58.22" r="1.25"/>
<circle cx="671.54" cy="88.17" r="1.25"/>
<circle cx="669.89" cy="64.92" r="1.25"/>
<circle cx="670.68" cy="91.74" r="1.25"/>
<circle cx="669.78" cy="106.36" r="1.25"/>
<circle cx="670.36" cy="90.15" r="1.25"/>
<circle cx="669.69" cy="78.21" r="1.25"/>
<circle cx="670.86" cy="107.35" r="1.25"/>
<circle cx="669.83" cy="100.16" r="1.25"/>
<circle cx="670.20" cy="85.50" r="1.25"/>
<circle cx="670.66" cy="113.58" r="1.25"/>
<circle cx="670.13" cy="70.37" r="1.25"/>
<circle cx="670.29" cy="80.49" r="1.25"/>
<circle cx="670.96" cy="118.23" r="1.25"/>
<circle cx="670.25" cy="83.75" r="1.25"/>
<circle cx="670.55" cy="99.99" r="1.25"/>
<circle cx="671.30" cy="76.67" r="1.25"/>
<circle cx="671.55" cy="83.66" r="1.25"/>
<circle cx="669.95" cy="64.75" r="1.25"/>
<circle cx="670.27" cy="72.88" r="1.25"/>
<circle cx="670.12" cy="85.67" r="1.25"/>
<circle cx="670.45" cy="89.56" r="1.25"/>
<circle cx="669.38" cy="88.41" r="1.25"/>
<circle cx="670.10" cy="95.09" r="1.25"/>
<circle cx="669.56" cy="92.07" r="1.25"/>
<circle cx="671.02" cy="93.27" r="1.25"/>
<circle cx="670.86" cy="121.56" r="1.25"/>
<circle cx="670.19" cy="74.39" r="1.25"/>
<circle cx="669.83" cy="113.87" r="1.25"/>
<circle cx="669.30" cy="86.80" r="1.25"/>
<circle cx="669.63" cy="84.90" r="1.25"/>
<circle cx="669.73" cy="79.75" r="1.25"/>
<circle cx="670.77" cy="72.44" r="1.25"/>
<circle cx="670.97" cy="123.80" r="1.25"/>
<circle cx="669.70" cy="91.67" r="1.25"/>
<circle cx="669.90" cy="64.81" r="1.25"/>
<circle cx="670.36" cy="65.23" r="1.25"/>
<circle cx="670.04" cy="67.61" r="1.25"/>
<circle cx="669.89" cy="69.93" r="1.25"/>
<circle cx="670.04" cy="52.45" r="1.25"/>
<circle cx="670.46" cy="103.03" r="1.25"/>
<circle cx="670.36" cy="73.16" r="1.25"/>
<circle cx="669.81" cy="74.36" r="1.25"/>
<circle cx="670.25" cy="59.92" r="1.25"/>
<circle cx="670.82" cy="64.51" r="1.25"/>
<circle cx="671.21" cy="88.67" r="1.25"/>
<circle cx="669.41" cy="84.65" r="1.25"/>
<circle cx="670.08" cy="104.56" r="1.25"/>
<circle cx="670.94" cy="55.09" r="1.25"/>
<circle cx="671.35" cy="86.63" r="1.25"/>
<circle cx="671.19" cy="68.45" r="1.25"/>
<circle cx="671.27" cy="67.53" r="1.25"/>
<circle cx="671.62" cy="86.12" r="1.25"/>
<circle cx="669.61" cy="105.71" r="1.25"/>
<circle cx="671.65" cy="92.38" r="1.25"/>
<circle cx="670.07" cy="70.53" r="1.25"/>
<circle cx="671.18" cy="76.91" r="1.25"/>
<circle cx="670.53" cy="77.72" r="1.25"/>
<circle cx="670.51" cy="119.10" r="1.25"/>
<circle cx="670.95" cy="84.25" r="1.25"/>
<circle cx="671.23" cy="83.99" r="1.25"/>
<circle cx="670.61" cy="78.13" r="1.25"/>
<circle cx="670.46" cy="117.47" r="1.25"/>
<circle cx="669.73" cy="105.98" r="1.25"/>
<circle cx="669.78" cy="111.25" r="1.25"/>
<circle cx="670.34" cy="95.84" r="1.25"/>
<circle cx="670.00" cy="70.29" r="1.25"/>
<circle cx="670.83" cy="114.30" r="1.25"/>
<circle cx="669.95" cy="92.89" r="1.25"/>
<circle cx="670.26" cy="122.80" r="1.25"/>
<circle cx="670.36" cy="56.35" r="1.25"/>
<circle cx="670.21" cy="96.28" r="1.25"/>
<circle cx="670.61" cy="59.96" r="1.25"/>
<circle cx="669.93" cy="89.04" r="1.25"/>
<circle cx="670.03" cy="97.14" r="1.25"/>
<circle cx="670.78" cy="110.13" r="1.25"/>
<circle cx="670.76" cy="52.21" r="1.25"/>
<circle cx="670.74" cy="63.34" r="1.25"/>
<circle cx="670.88" cy="103.11" r="1.25"/>
<circle cx="671.33" cy="80.48" r="1.25"/>
<circle cx="669.98" cy="68.62" r="1.25"/>
<circle cx="671.09" cy="57.84" r="1.25"/>
<circle cx="671.32" cy="72.22" r="1.25"/>
<circle cx="670.06" cy="53.62" r="1.25"/>
<circle cx="671.23" cy="75.48" r="1.25"/>
<circle cx="670.47" cy="84.58" r="1.25"/>
<circle cx="669.53" cy="78.53" r="1.25"/>
<circle cx="670.90" cy="56.24" r="1.25"/>
<circle cx="670.05" cy="60.81" r="1.25"/>
<circle cx="669.81" cy="112.73" r="1.25"/>
<circle cx="670.66" cy="53.91" r="1.25"/>
<circle cx="669.95" cy="62.18" r="1.25"/>
<circle cx="669.26" cy="92.35" r="1.25"/>
</g>
<line x1="594.80" y1="43.50" x2="594.80" y2="146.50" stroke="#2a2a2a" stroke-width="1"/>
<line x1="594.30" y1="146.00" x2="679.90" y2="146.00" stroke="#2a2a2a" stroke-width="1"/>
<line x1="591.80" y1="46.10" x2="594.80" y2="46.10" stroke="#2a2a2a" stroke-width="1"/>
<text x="0" y="0" font-size="9.29" transform="translate(589.80,49.00) scale(0.9259,1)" text-anchor="end" fill="#333" stroke="#333" stroke-width="0.1">0.7</text>
<line x1="591.80" y1="63.30" x2="594.80" y2="63.30" stroke="#2a2a2a" stroke-width="1"/>
<text x="0" y="0" font-size="9.29" transform="translate(589.80,66.20) scale(0.9259,1)" text-anchor="end" fill="#333" stroke="#333" stroke-width="0.1">0.6</text>
<line x1="591.80" y1="80.60" x2="594.80" y2="80.60" stroke="#2a2a2a" stroke-width="1"/>
<text x="0" y="0" font-size="9.29" transform="translate(589.80,83.50) scale(0.9259,1)" text-anchor="end" fill="#333" stroke="#333" stroke-width="0.1">0.5</text>
<line x1="591.80" y1="97.90" x2="594.80" y2="97.90" stroke="#2a2a2a" stroke-width="1"/>
<text x="0" y="0" font-size="9.29" transform="translate(589.80,100.80) scale(0.9259,1)" text-anchor="end" fill="#333" stroke="#333" stroke-width="0.1">0.4</text>
<line x1="591.80" y1="115.10" x2="594.80" y2="115.10" stroke="#2a2a2a" stroke-width="1"/>
<text x="0" y="0" font-size="9.29" transform="translate(589.80,118.00) scale(0.9259,1)" text-anchor="end" fill="#333" stroke="#333" stroke-width="0.1">0.3</text>
<line x1="591.80" y1="132.40" x2="594.80" y2="132.40" stroke="#2a2a2a" stroke-width="1"/>
<text x="0" y="0" font-size="9.29" transform="translate(589.80,135.30) scale(0.9259,1)" text-anchor="end" fill="#333" stroke="#333" stroke-width="0.1">0.2</text>
<line x1="607.10" y1="146.00" x2="607.10" y2="149.00" stroke="#2a2a2a" stroke-width="1"/>
<text x="0" y="0" font-size="9.29" transform="translate(607.10,158.60) scale(0.9259,1)" text-anchor="middle" fill="#333" stroke="#333" stroke-width="0.1">0</text>
<text x="0" y="0" font-size="9.29" transform="translate(607.10,171.00) scale(0.9259,1)" text-anchor="middle" font-style="italic" fill="#333" stroke="#333" stroke-width="0.1">701</text>
<line x1="628.20" y1="146.00" x2="628.20" y2="149.00" stroke="#2a2a2a" stroke-width="1"/>
<text x="0" y="0" font-size="9.29" transform="translate(628.20,158.60) scale(0.9259,1)" text-anchor="middle" fill="#333" stroke="#333" stroke-width="0.1">0−1</text>
<text x="0" y="0" font-size="9.29" transform="translate(628.20,171.00) scale(0.9259,1)" text-anchor="middle" font-style="italic" fill="#333" stroke="#333" stroke-width="0.1">207</text>
<line x1="649.40" y1="146.00" x2="649.40" y2="149.00" stroke="#2a2a2a" stroke-width="1"/>
<text x="0" y="0" font-size="9.29" transform="translate(649.40,158.60) scale(0.9259,1)" text-anchor="middle" fill="#333" stroke="#333" stroke-width="0.1">1−5</text>
<text x="0" y="0" font-size="9.29" transform="translate(649.40,171.00) scale(0.9259,1)" text-anchor="middle" font-style="italic" fill="#333" stroke="#333" stroke-width="0.1">122</text>
<line x1="670.50" y1="146.00" x2="670.50" y2="149.00" stroke="#2a2a2a" stroke-width="1"/>
<text x="0" y="0" font-size="9.29" transform="translate(670.50,158.60) scale(0.9259,1)" text-anchor="middle" fill="#333" stroke="#333" stroke-width="0.1">≥5</text>
<text x="0" y="0" font-size="9.29" transform="translate(670.50,171.00) scale(0.9259,1)" text-anchor="middle" font-style="italic" fill="#333" stroke="#333" stroke-width="0.1">140</text>
<text x="0" y="0" font-size="9.29" text-anchor="middle" fill="#333" stroke="#333" stroke-width="0.1" transform="translate(569.30,95.40) rotate(-90) scale(0.9259,1)">Module score</text>
<text x="0" y="0" font-size="9.29" transform="translate(566.00,147.60) scale(0.9259,1)" text-anchor="middle" fill="#333" stroke="#333" stroke-width="0.1">Day 28</text>
<text x="0" y="0" font-size="9.29" transform="translate(566.00,158.20) scale(0.9259,1)" text-anchor="middle" fill="#333" stroke="#333" stroke-width="0.1">MRD (%)</text>
<text x="0" y="0" font-size="12.42" transform="translate(199.50,218.80) scale(0.9259,1)" text-anchor="middle" font-weight="bold" fill="#111">Overall survival (OS)</text>
<text x="0" y="0" font-size="12.42" transform="translate(525.00,218.80) scale(0.9259,1)" text-anchor="middle" font-weight="bold" fill="#111">Event free survival (EFS)</text>
<polygon points="79.4,240.8 81.3,241.6 83.2,242.4 85.1,243.2 87.0,244.1 88.9,245.0 90.8,245.9 92.7,246.8 94.5,247.6 96.4,248.4 98.3,249.1 100.2,249.9 102.1,250.7 104.0,251.1 105.9,251.4 107.8,251.8 109.7,252.1 111.6,252.5 113.5,252.6 115.4,252.7 117.3,252.9 119.2,253.0 121.1,253.1 122.9,253.3 124.8,253.4 126.7,253.5 128.6,253.6 130.5,253.7 132.4,253.7 134.3,253.8 136.2,253.8 138.1,253.8 140.0,253.9 141.9,253.9 143.8,253.9 145.7,254.0 147.6,254.0 149.5,254.0 151.3,254.0 153.2,254.1 155.1,254.1 157.0,254.1 158.9,254.3 160.8,254.5 162.7,254.7 164.6,254.8 166.5,254.8 168.4,254.7 170.3,254.7 172.2,254.7 174.1,254.6 176.0,254.6 177.9,254.6 179.7,254.5 181.6,254.5 183.5,254.5 185.4,254.4 187.3,254.4 189.2,254.4 191.1,254.3 193.0,254.3 193.0,263.9 191.1,263.8 189.2,263.7 187.3,263.6 185.4,263.6 183.5,263.5 181.6,263.4 179.7,263.3 177.9,263.2 176.0,263.1 174.1,263.0 172.2,262.9 170.3,262.9 168.4,262.8 166.5,262.7 164.6,262.6 162.7,262.3 160.8,262.0 158.9,261.7 157.0,261.5 155.1,261.3 153.2,261.2 151.3,261.0 149.5,260.9 147.6,260.7 145.7,260.6 143.8,260.4 141.9,260.3 140.0,260.1 138.1,260.0 136.2,259.8 134.3,259.7 132.4,259.5 130.5,259.4 128.6,259.2 126.7,258.9 124.8,258.7 122.9,258.4 121.1,258.2 119.2,257.9 117.3,257.7 115.4,257.4 113.5,257.2 111.6,256.9 109.7,256.5 107.8,256.0 105.9,255.5 104.0,255.0 102.1,254.5 100.2,253.6 98.3,252.7 96.4,251.8 94.5,251.0 92.7,250.0 90.8,249.0 88.9,248.0 87.0,246.9 85.1,246.0 83.2,245.0 81.3,244.1 79.4,243.2" fill="rgba(0,0,0,0.19)"/>
<polygon points="79.4,241.2 81.3,241.8 83.2,242.3 85.1,242.8 87.0,243.4 88.9,243.8 90.8,244.1 92.7,244.5 94.5,244.7 96.4,245.0 98.3,245.2 100.2,245.4 102.1,245.7 104.0,245.7 105.9,245.8 107.8,245.9 109.7,245.9 111.6,246.0 113.5,246.0 115.4,246.1 117.3,246.1 119.2,246.2 121.1,246.2 122.9,246.2 124.8,246.2 126.7,246.2 128.6,246.2 130.5,246.2 132.4,246.2 134.3,246.2 136.2,246.2 138.1,246.2 140.0,246.4 141.9,246.7 143.8,247.1 145.7,247.2 147.6,247.2 149.5,247.2 151.3,247.2 153.2,247.2 155.1,247.2 157.0,247.2 158.9,247.2 160.8,247.2 162.7,247.2 164.6,247.2 166.5,247.2 168.4,247.2 170.3,247.2 172.2,247.2 174.1,247.1 176.0,247.1 177.9,247.1 179.7,247.1 181.6,247.1 183.5,247.1 185.4,247.1 187.3,247.0 189.2,247.0 191.1,247.0 193.0,247.0 193.0,253.0 191.1,252.9 189.2,252.9 187.3,252.8 185.4,252.8 183.5,252.7 181.6,252.6 179.7,252.6 177.9,252.5 176.0,252.5 174.1,252.4 172.2,252.3 170.3,252.3 168.4,252.2 166.5,252.1 164.6,252.1 162.7,252.0 160.8,252.0 158.9,251.9 157.0,251.8 155.1,251.7 153.2,251.6 151.3,251.5 149.5,251.5 147.6,251.4 145.7,251.3 143.8,251.1 141.9,250.7 140.0,250.3 138.1,250.0 136.2,249.9 134.3,249.9 132.4,249.8 130.5,249.7 128.6,249.7 126.7,249.6 124.8,249.5 122.9,249.5 121.1,249.4 119.2,249.3 117.3,249.1 115.4,249.0 113.5,248.9 111.6,248.7 109.7,248.6 107.8,248.5 105.9,248.3 104.0,248.2 102.1,248.1 100.2,247.8 98.3,247.5 96.4,247.1 94.5,246.8 92.7,246.5 90.8,246.1 88.9,245.7 87.0,245.2 85.1,244.6 83.2,244.0 81.3,243.4 79.4,242.8" fill="rgba(58,165,139,0.33)"/>
<path d="M79.4,241.9 L81.0,242.0 L81.0,242.7 L82.6,242.7 L82.6,243.5 L84.2,243.5 L84.2,244.2 L85.8,244.2 L85.8,244.9 L87.4,244.9 L87.4,245.7 L89.0,245.7 L89.0,246.5 L90.6,246.5 L90.6,247.4 L92.2,247.4 L92.2,248.2 L93.8,248.2 L93.8,249.0 L95.4,249.0 L95.4,249.7 L97.0,249.7 L97.0,250.4 L98.6,250.4 L98.6,251.0 L100.2,251.0 L100.2,251.7 L101.8,251.7 L101.8,252.4 L103.4,252.4 L103.4,252.9 L105.0,252.9 L105.0,253.3 L106.6,253.3 L106.6,253.6 L108.2,253.6 L108.2,254.0 L109.8,254.0 L109.8,254.3 L111.4,254.3 L111.4,254.7 L113.0,254.7 L113.0,254.8 L114.6,254.8 L114.6,255.0 L116.2,255.0 L116.2,255.2 L117.8,255.2 L117.8,255.3 L119.4,255.3 L119.4,255.5 L121.0,255.5 L121.0,255.6 L122.6,255.6 L122.6,255.8 L124.2,255.8 L124.2,256.0 L125.8,256.0 L125.8,256.1 L127.4,256.1 L127.4,256.3 L129.0,256.3 L129.0,256.4 L130.6,256.4 L130.6,256.5 L132.2,256.5 L132.2,256.6 L133.8,256.6 L133.8,256.7 L135.4,256.7 L135.4,256.8 L137.0,256.8 L137.0,256.8 L138.6,256.8 L138.6,256.9 L140.2,256.9 L140.2,257.0 L141.8,257.0 L141.8,257.1 L143.4,257.1 L143.4,257.1 L145.0,257.1 L145.0,257.2 L146.6,257.2 L146.6,257.3 L148.2,257.3 L148.2,257.4 L149.8,257.4 L149.8,257.5 L151.4,257.5 L151.4,257.5 L153.0,257.5 L153.0,257.6 L154.6,257.6 L154.6,257.7 L156.2,257.7 L156.2,257.8 L157.8,257.8 L157.8,257.9 L159.4,257.9 L159.4,258.1 L161.0,258.1 L161.0,258.3 L162.6,258.3 L162.6,258.5 L164.2,258.5 L164.2,258.7 L165.8,258.7 L165.8,258.7 L167.4,258.7 L167.4,258.7 L169.0,258.7 L169.0,258.8 L170.6,258.8 L170.6,258.8 L172.2,258.8 L172.2,258.8 L173.8,258.8 L173.8,258.8 L175.4,258.8 L175.4,258.9 L177.0,258.9 L177.0,258.9 L178.6,258.9 L178.6,258.9 L180.2,258.9 L180.2,258.9 L181.8,258.9 L181.8,258.9 L183.4,258.9 L183.4,259.0 L185.0,259.0 L185.0,259.0 L186.6,259.0 L186.6,259.0 L188.2,259.0 L188.2,259.0 L189.8,259.0 L189.8,259.1 L191.4,259.1 L191.4,259.1 L193.0,259.1 L193.0,259.1 L193.0,259.1 L193.0,259.1" stroke="#555555" stroke-width="1.1" fill="none"/>
<path d="M79.4,241.9 L81.0,242.0 L81.0,242.5 L82.6,242.5 L82.6,243.0 L84.2,243.0 L84.2,243.4 L85.8,243.4 L85.8,243.9 L87.4,243.9 L87.4,244.4 L89.0,244.4 L89.0,244.7 L90.6,244.7 L90.6,245.1 L92.2,245.1 L92.2,245.4 L93.8,245.4 L93.8,245.7 L95.4,245.7 L95.4,245.9 L97.0,245.9 L97.0,246.1 L98.6,246.1 L98.6,246.4 L100.2,246.4 L100.2,246.6 L101.8,246.6 L101.8,246.8 L103.4,246.8 L103.4,246.9 L105.0,246.9 L105.0,247.0 L106.6,247.0 L106.6,247.1 L108.2,247.1 L108.2,247.2 L109.8,247.2 L109.8,247.3 L111.4,247.3 L111.4,247.3 L113.0,247.3 L113.0,247.4 L114.6,247.4 L114.6,247.5 L116.2,247.5 L116.2,247.6 L117.8,247.6 L117.8,247.7 L119.4,247.7 L119.4,247.7 L121.0,247.7 L121.0,247.8 L122.6,247.8 L122.6,247.8 L124.2,247.8 L124.2,247.9 L125.8,247.9 L125.8,247.9 L127.4,247.9 L127.4,247.9 L129.0,247.9 L129.0,247.9 L130.6,247.9 L130.6,248.0 L132.2,248.0 L132.2,248.0 L133.8,248.0 L133.8,248.0 L135.4,248.0 L135.4,248.0 L137.0,248.0 L137.0,248.1 L138.6,248.1 L138.6,248.1 L140.2,248.1 L140.2,248.4 L141.8,248.4 L141.8,248.7 L143.4,248.7 L143.4,249.0 L145.0,249.0 L145.0,249.2 L146.6,249.2 L146.6,249.3 L148.2,249.3 L148.2,249.3 L149.8,249.3 L149.8,249.3 L151.4,249.3 L151.4,249.4 L153.0,249.4 L153.0,249.4 L154.6,249.4 L154.6,249.4 L156.2,249.4 L156.2,249.5 L157.8,249.5 L157.8,249.5 L159.4,249.5 L159.4,249.6 L161.0,249.6 L161.0,249.6 L162.6,249.6 L162.6,249.6 L164.2,249.6 L164.2,249.6 L165.8,249.6 L165.8,249.7 L167.4,249.7 L167.4,249.7 L169.0,249.7 L169.0,249.7 L170.6,249.7 L170.6,249.7 L172.2,249.7 L172.2,249.7 L173.8,249.7 L173.8,249.8 L175.4,249.8 L175.4,249.8 L177.0,249.8 L177.0,249.8 L178.6,249.8 L178.6,249.8 L180.2,249.8 L180.2,249.8 L181.8,249.8 L181.8,249.9 L183.4,249.9 L183.4,249.9 L185.0,249.9 L185.0,249.9 L186.6,249.9 L186.6,249.9 L188.2,249.9 L188.2,249.9 L189.8,249.9 L189.8,250.0 L191.4,250.0 L191.4,250.0 L193.0,250.0 L193.0,250.0 L193.0,250.0 L193.0,250.0" stroke="#3a9f86" stroke-width="1.1" fill="none"/>
<g stroke-width="0.7">
<line x1="134.1" y1="255.5" x2="134.1" y2="257.9" stroke="#555555"/>
<line x1="101.2" y1="251.0" x2="101.2" y2="253.4" stroke="#555555"/>
<line x1="153.5" y1="256.4" x2="153.5" y2="258.8" stroke="#555555"/>
<line x1="113.2" y1="253.7" x2="113.2" y2="256.1" stroke="#555555"/>
<line x1="131.7" y1="255.4" x2="131.7" y2="257.8" stroke="#555555"/>
<line x1="190.4" y1="257.9" x2="190.4" y2="260.3" stroke="#555555"/>
<line x1="162.5" y1="257.3" x2="162.5" y2="259.7" stroke="#555555"/>
<line x1="164.2" y1="257.5" x2="164.2" y2="259.9" stroke="#555555"/>
<line x1="158.5" y1="256.8" x2="158.5" y2="259.2" stroke="#555555"/>
<line x1="117.5" y1="254.1" x2="117.5" y2="256.5" stroke="#555555"/>
<line x1="165.7" y1="257.5" x2="165.7" y2="259.9" stroke="#555555"/>
<line x1="190.5" y1="257.9" x2="190.5" y2="260.3" stroke="#555555"/>
<line x1="103.6" y1="251.8" x2="103.6" y2="254.2" stroke="#555555"/>
<line x1="179.3" y1="257.7" x2="179.3" y2="260.1" stroke="#555555"/>
<line x1="133.0" y1="255.5" x2="133.0" y2="257.9" stroke="#555555"/>
<line x1="117.5" y1="254.1" x2="117.5" y2="256.5" stroke="#555555"/>
<line x1="163.0" y1="257.3" x2="163.0" y2="259.7" stroke="#555555"/>
<line x1="180.3" y1="257.7" x2="180.3" y2="260.1" stroke="#555555"/>
<line x1="113.5" y1="253.7" x2="113.5" y2="256.1" stroke="#555555"/>
<line x1="117.0" y1="254.0" x2="117.0" y2="256.4" stroke="#555555"/>
<line x1="148.6" y1="256.2" x2="148.6" y2="258.6" stroke="#555555"/>
<line x1="117.9" y1="254.1" x2="117.9" y2="256.5" stroke="#555555"/>
<line x1="149.2" y1="256.2" x2="149.2" y2="258.6" stroke="#555555"/>
<line x1="192.2" y1="257.9" x2="192.2" y2="260.3" stroke="#555555"/>
<line x1="94.1" y1="247.9" x2="94.1" y2="250.3" stroke="#555555"/>
<line x1="141.5" y1="255.9" x2="141.5" y2="258.3" stroke="#555555"/>
<line x1="117.6" y1="254.1" x2="117.6" y2="256.5" stroke="#555555"/>
<line x1="113.4" y1="253.7" x2="113.4" y2="256.1" stroke="#555555"/>
<line x1="156.9" y1="256.6" x2="156.9" y2="259.0" stroke="#555555"/>
<line x1="188.6" y1="257.8" x2="188.6" y2="260.2" stroke="#555555"/>
<line x1="145.6" y1="256.1" x2="145.6" y2="258.5" stroke="#555555"/>
<line x1="154.1" y1="256.5" x2="154.1" y2="258.9" stroke="#555555"/>
<line x1="167.0" y1="257.5" x2="167.0" y2="259.9" stroke="#555555"/>
<line x1="181.0" y1="257.7" x2="181.0" y2="260.1" stroke="#555555"/>
<line x1="190.2" y1="257.9" x2="190.2" y2="260.3" stroke="#555555"/>
<line x1="131.9" y1="255.4" x2="131.9" y2="257.8" stroke="#555555"/>
<line x1="114.7" y1="253.8" x2="114.7" y2="256.2" stroke="#555555"/>
<line x1="186.0" y1="257.8" x2="186.0" y2="260.2" stroke="#555555"/>
<line x1="158.4" y1="256.8" x2="158.4" y2="259.2" stroke="#555555"/>
<line x1="183.1" y1="257.8" x2="183.1" y2="260.2" stroke="#555555"/>
<line x1="111.0" y1="253.4" x2="111.0" y2="255.8" stroke="#555555"/>
<line x1="175.0" y1="257.6" x2="175.0" y2="260.0" stroke="#555555"/>
<line x1="107.4" y1="252.6" x2="107.4" y2="255.0" stroke="#555555"/>
<line x1="109.2" y1="253.0" x2="109.2" y2="255.4" stroke="#555555"/>
<line x1="107.8" y1="252.7" x2="107.8" y2="255.1" stroke="#555555"/>
<line x1="134.8" y1="255.5" x2="134.8" y2="257.9" stroke="#555555"/>
<line x1="140.2" y1="255.8" x2="140.2" y2="258.2" stroke="#555555"/>
<line x1="163.2" y1="257.4" x2="163.2" y2="259.8" stroke="#555555"/>
<line x1="187.8" y1="257.8" x2="187.8" y2="260.2" stroke="#555555"/>
<line x1="141.6" y1="255.9" x2="141.6" y2="258.3" stroke="#555555"/>
<line x1="155.9" y1="256.5" x2="155.9" y2="258.9" stroke="#555555"/>
<line x1="139.8" y1="255.8" x2="139.8" y2="258.2" stroke="#555555"/>
<line x1="137.0" y1="255.6" x2="137.0" y2="258.0" stroke="#555555"/>
<line x1="124.6" y1="254.8" x2="124.6" y2="257.2" stroke="#555555"/>
<line x1="90.0" y1="245.9" x2="90.0" y2="248.3" stroke="#555555"/>
<line x1="123.6" y1="254.7" x2="123.6" y2="257.1" stroke="#555555"/>
<line x1="169.1" y1="257.6" x2="169.1" y2="260.0" stroke="#555555"/>
<line x1="175.8" y1="257.7" x2="175.8" y2="260.1" stroke="#555555"/>
<line x1="165.8" y1="257.5" x2="165.8" y2="259.9" stroke="#555555"/>
<line x1="142.8" y1="255.9" x2="142.8" y2="258.3" stroke="#555555"/>
<line x1="139.8" y1="247.1" x2="139.8" y2="249.5" stroke="#3a9f86"/>
<line x1="116.1" y1="246.4" x2="116.1" y2="248.8" stroke="#3a9f86"/>
<line x1="122.1" y1="246.6" x2="122.1" y2="249.0" stroke="#3a9f86"/>
<line x1="192.8" y1="248.8" x2="192.8" y2="251.2" stroke="#3a9f86"/>
<line x1="156.8" y1="248.3" x2="156.8" y2="250.7" stroke="#3a9f86"/>
<line x1="139.1" y1="246.9" x2="139.1" y2="249.3" stroke="#3a9f86"/>
<line x1="151.9" y1="248.2" x2="151.9" y2="250.6" stroke="#3a9f86"/>
<line x1="147.8" y1="248.1" x2="147.8" y2="250.5" stroke="#3a9f86"/>
<line x1="127.7" y1="246.7" x2="127.7" y2="249.1" stroke="#3a9f86"/>
<line x1="140.5" y1="247.2" x2="140.5" y2="249.6" stroke="#3a9f86"/>
<line x1="141.7" y1="247.5" x2="141.7" y2="249.9" stroke="#3a9f86"/>
<line x1="184.4" y1="248.7" x2="184.4" y2="251.1" stroke="#3a9f86"/>
<line x1="183.8" y1="248.7" x2="183.8" y2="251.1" stroke="#3a9f86"/>
<line x1="127.1" y1="246.7" x2="127.1" y2="249.1" stroke="#3a9f86"/>
<line x1="144.2" y1="248.0" x2="144.2" y2="250.4" stroke="#3a9f86"/>
<line x1="119.8" y1="246.6" x2="119.8" y2="249.0" stroke="#3a9f86"/>
<line x1="189.0" y1="248.8" x2="189.0" y2="251.2" stroke="#3a9f86"/>
<line x1="109.7" y1="246.1" x2="109.7" y2="248.5" stroke="#3a9f86"/>
<line x1="146.7" y1="248.1" x2="146.7" y2="250.5" stroke="#3a9f86"/>
<line x1="91.6" y1="244.1" x2="91.6" y2="246.5" stroke="#3a9f86"/>
<line x1="144.7" y1="248.0" x2="144.7" y2="250.4" stroke="#3a9f86"/>
<line x1="144.6" y1="248.0" x2="144.6" y2="250.4" stroke="#3a9f86"/>
<line x1="92.0" y1="244.2" x2="92.0" y2="246.6" stroke="#3a9f86"/>
<line x1="111.6" y1="246.2" x2="111.6" y2="248.6" stroke="#3a9f86"/>
<line x1="148.5" y1="248.1" x2="148.5" y2="250.5" stroke="#3a9f86"/>
<line x1="146.0" y1="248.0" x2="146.0" y2="250.4" stroke="#3a9f86"/>
<line x1="128.7" y1="246.7" x2="128.7" y2="249.1" stroke="#3a9f86"/>
<line x1="98.6" y1="245.2" x2="98.6" y2="247.6" stroke="#3a9f86"/>
<line x1="130.9" y1="246.8" x2="130.9" y2="249.2" stroke="#3a9f86"/>
<line x1="133.4" y1="246.8" x2="133.4" y2="249.2" stroke="#3a9f86"/>
<line x1="105.5" y1="245.9" x2="105.5" y2="248.3" stroke="#3a9f86"/>
<line x1="157.9" y1="248.3" x2="157.9" y2="250.7" stroke="#3a9f86"/>
<line x1="119.6" y1="246.6" x2="119.6" y2="249.0" stroke="#3a9f86"/>
<line x1="151.5" y1="248.2" x2="151.5" y2="250.6" stroke="#3a9f86"/>
<line x1="167.9" y1="248.5" x2="167.9" y2="250.9" stroke="#3a9f86"/>
<line x1="92.0" y1="244.2" x2="92.0" y2="246.6" stroke="#3a9f86"/>
<line x1="148.3" y1="248.1" x2="148.3" y2="250.5" stroke="#3a9f86"/>
<line x1="161.4" y1="248.4" x2="161.4" y2="250.8" stroke="#3a9f86"/>
<line x1="184.0" y1="248.7" x2="184.0" y2="251.1" stroke="#3a9f86"/>
<line x1="166.2" y1="248.5" x2="166.2" y2="250.9" stroke="#3a9f86"/>
<line x1="179.2" y1="248.6" x2="179.2" y2="251.0" stroke="#3a9f86"/>
<line x1="163.7" y1="248.4" x2="163.7" y2="250.8" stroke="#3a9f86"/>
<line x1="120.1" y1="246.6" x2="120.1" y2="249.0" stroke="#3a9f86"/>
<line x1="177.1" y1="248.6" x2="177.1" y2="251.0" stroke="#3a9f86"/>
<line x1="172.0" y1="248.5" x2="172.0" y2="250.9" stroke="#3a9f86"/>
<line x1="147.2" y1="248.1" x2="147.2" y2="250.5" stroke="#3a9f86"/>
<line x1="186.7" y1="248.7" x2="186.7" y2="251.1" stroke="#3a9f86"/>
<line x1="97.8" y1="245.1" x2="97.8" y2="247.5" stroke="#3a9f86"/>
<line x1="185.2" y1="248.7" x2="185.2" y2="251.1" stroke="#3a9f86"/>
<line x1="134.4" y1="246.8" x2="134.4" y2="249.2" stroke="#3a9f86"/>
<line x1="152.6" y1="248.2" x2="152.6" y2="250.6" stroke="#3a9f86"/>
<line x1="175.7" y1="248.6" x2="175.7" y2="251.0" stroke="#3a9f86"/>
<line x1="113.5" y1="246.2" x2="113.5" y2="248.6" stroke="#3a9f86"/>
<line x1="148.1" y1="248.1" x2="148.1" y2="250.5" stroke="#3a9f86"/>
<line x1="92.2" y1="244.2" x2="92.2" y2="246.6" stroke="#3a9f86"/>
<line x1="95.8" y1="244.8" x2="95.8" y2="247.2" stroke="#3a9f86"/>
<line x1="189.3" y1="248.8" x2="189.3" y2="251.2" stroke="#3a9f86"/>
<line x1="119.6" y1="246.5" x2="119.6" y2="248.9" stroke="#3a9f86"/>
<line x1="141.4" y1="247.4" x2="141.4" y2="249.8" stroke="#3a9f86"/>
<line x1="107.7" y1="246.0" x2="107.7" y2="248.4" stroke="#3a9f86"/>
</g>
<rect x="79.40" y="241.90" width="114.00" height="96.40" fill="none" stroke="#999" stroke-width="1.1"/>
<line x1="79.40" y1="241.90" x2="79.40" y2="338.80" stroke="#5a5a5a" stroke-width="1"/>
<line x1="78.90" y1="338.30" x2="193.40" y2="338.30" stroke="#5a5a5a" stroke-width="1"/>
<line x1="76.40" y1="241.90" x2="79.40" y2="241.90" stroke="#333" stroke-width="1"/>
<line x1="76.40" y1="338.30" x2="79.40" y2="338.30" stroke="#333" stroke-width="1"/>
<text x="0" y="0" font-size="9.29" transform="translate(74.90,245.00) scale(0.9259,1)" text-anchor="end" fill="#333" stroke="#333" stroke-width="0.1">1</text>
<text x="0" y="0" font-size="9.29" transform="translate(74.90,341.40) scale(0.9259,1)" text-anchor="end" fill="#333" stroke="#333" stroke-width="0.1">0</text>
<line x1="79.40" y1="338.30" x2="79.40" y2="341.30" stroke="#333" stroke-width="1"/>
<text x="0" y="0" font-size="9.29" transform="translate(79.40,349.90) scale(0.9259,1)" text-anchor="middle" fill="#333" stroke="#333" stroke-width="0.1">0</text>
<line x1="135.40" y1="338.30" x2="135.40" y2="341.30" stroke="#333" stroke-width="1"/>
<text x="0" y="0" font-size="9.29" transform="translate(135.40,349.90) scale(0.9259,1)" text-anchor="middle" fill="#333" stroke="#333" stroke-width="0.1">2000</text>
<line x1="191.40" y1="338.30" x2="191.40" y2="341.30" stroke="#333" stroke-width="1"/>
<text x="0" y="0" font-size="9.29" transform="translate(191.40,349.90) scale(0.9259,1)" text-anchor="middle" fill="#333" stroke="#333" stroke-width="0.1">4000</text>
<rect x="86.30" y="284.00" width="8.90" height="8.60" fill="#3a9f86" stroke="none" stroke-width="1"/>
<rect x="86.30" y="294.10" width="8.90" height="8.60" fill="#555555" stroke="none" stroke-width="1"/>
<text x="0" y="0" font-size="9.29" transform="translate(97.00,291.00) scale(0.9259,1)" fill="#333" stroke="#333" stroke-width="0.1">n=392</text>
<text x="0" y="0" font-size="9.29" transform="translate(97.00,301.20) scale(0.9259,1)" fill="#333" stroke="#333" stroke-width="0.1">n=392</text>
<text x="0" y="0" font-size="9.29" transform="translate(87.40,330.00) scale(0.9259,1)" fill="#333" stroke="#333" stroke-width="0.1">p = 1.2×10<tspan font-size="4.97" dy="-3.0" dx="-0.3">−4</tspan></text>
<text x="0" y="0" font-size="9.29" text-anchor="middle" fill="#333" stroke="#333" stroke-width="0.1" transform="translate(62.80,290.60) rotate(-90) scale(0.9259,1)">Probability of OS</text>
<text x="0" y="0" font-size="9.29" transform="translate(81.40,363.20) scale(0.9259,1)" fill="#333" stroke="#333" stroke-width="0.1">Time (days)</text>
<text x="0" y="0" font-size="9.29" transform="translate(82.60,237.80) scale(0.9259,1)" stroke="#222" stroke-width="0.1"><tspan font-style="italic">ZBTB16</tspan> expression</text>
<polygon points="224.2,240.8 226.1,241.9 228.0,242.9 229.9,244.0 231.8,245.0 233.7,245.8 235.6,246.7 237.5,247.6 239.4,248.4 241.3,249.1 243.2,249.8 245.1,250.4 247.0,251.1 248.9,251.5 250.8,251.9 252.7,252.2 254.6,252.5 256.5,252.9 258.4,253.0 260.3,253.1 262.2,253.3 264.1,253.4 266.0,253.5 267.9,253.6 269.8,253.8 271.7,253.9 273.6,254.0 275.5,254.1 277.4,254.1 279.3,254.1 281.2,254.1 283.1,254.1 285.0,254.1 286.9,254.1 288.8,254.1 290.7,254.1 292.6,254.1 294.5,254.1 296.4,254.1 298.3,254.1 300.2,254.1 302.1,254.1 304.0,254.3 305.9,254.4 307.8,254.5 309.7,254.7 311.6,254.8 313.5,255.0 315.4,255.1 317.3,255.3 319.2,255.9 321.1,256.6 323.0,256.6 324.9,256.5 326.8,256.5 328.7,256.4 330.6,256.3 332.5,256.3 334.4,256.2 336.3,256.2 338.2,256.1 338.2,265.7 336.3,265.6 334.4,265.6 332.5,265.5 330.6,265.5 328.7,265.4 326.8,265.3 324.9,265.3 323.0,265.2 321.1,265.2 319.2,264.3 317.3,263.6 315.4,263.3 313.5,263.0 311.6,262.7 309.7,262.5 307.8,262.2 305.9,262.0 304.0,261.7 302.1,261.5 300.2,261.3 298.3,261.2 296.4,261.1 294.5,261.0 292.6,260.8 290.7,260.7 288.8,260.6 286.9,260.5 285.0,260.4 283.1,260.2 281.2,260.1 279.3,260.0 277.4,259.9 275.5,259.7 273.6,259.6 271.7,259.3 269.8,259.1 267.9,258.8 266.0,258.6 264.1,258.3 262.2,258.1 260.3,257.8 258.4,257.6 256.5,257.3 254.6,256.9 252.7,256.4 250.8,255.9 248.9,255.5 247.0,255.0 245.1,254.2 243.2,253.4 241.3,252.6 239.4,251.7 237.5,250.9 235.6,249.9 233.7,248.8 231.8,247.8 229.9,246.7 228.0,245.6 226.1,244.4 224.2,243.2" fill="rgba(0,0,0,0.19)"/>
<polygon points="224.2,241.2 226.1,241.6 228.0,242.0 229.9,242.4 231.8,242.7 233.7,243.1 235.6,243.5 237.5,243.8 239.4,244.1 241.3,244.2 243.2,244.4 245.1,244.6 247.0,244.7 248.9,244.9 250.8,245.0 252.7,245.2 254.6,245.4 256.5,245.5 258.4,245.6 260.3,245.6 262.2,245.7 264.1,245.7 266.0,245.8 267.9,245.9 269.8,245.9 271.7,246.0 273.6,246.0 275.5,246.1 277.4,246.1 279.3,246.2 281.2,246.2 283.1,246.3 285.0,246.4 286.9,246.4 288.8,246.5 290.7,246.5 292.6,246.6 294.5,246.7 296.4,246.7 298.3,246.8 300.2,246.9 302.1,247.0 304.0,247.1 305.9,247.1 307.8,247.2 309.7,247.2 311.6,247.2 313.5,247.1 315.4,247.1 317.3,247.1 319.2,247.1 321.1,247.0 323.0,247.0 324.9,247.0 326.8,247.0 328.7,246.9 330.6,246.9 332.5,246.9 334.4,246.9 336.3,246.8 338.2,246.8 338.2,252.8 336.3,252.8 334.4,252.7 332.5,252.7 330.6,252.6 328.7,252.6 326.8,252.5 324.9,252.5 323.0,252.4 321.1,252.4 319.2,252.3 317.3,252.3 315.4,252.2 313.5,252.2 311.6,252.1 309.7,252.1 307.8,252.0 305.9,251.9 304.0,251.7 302.1,251.5 300.2,251.4 298.3,251.2 296.4,251.1 294.5,250.9 292.6,250.8 290.7,250.6 288.8,250.5 286.9,250.4 285.0,250.3 283.1,250.1 281.2,250.0 279.3,249.9 277.4,249.7 275.5,249.6 273.6,249.5 271.7,249.3 269.8,249.2 267.9,249.1 266.0,248.9 264.1,248.8 262.2,248.7 260.3,248.6 258.4,248.4 256.5,248.3 254.6,248.1 252.7,247.8 250.8,247.6 248.9,247.3 247.0,247.1 245.1,246.9 243.2,246.6 241.3,246.4 239.4,246.2 237.5,245.9 235.6,245.4 233.7,245.0 231.8,244.5 229.9,244.1 228.0,243.6 226.1,243.2 224.2,242.8" fill="rgba(58,165,139,0.33)"/>
<path d="M224.2,241.9 L225.8,242.0 L225.8,242.9 L227.4,242.9 L227.4,243.9 L229.0,243.9 L229.0,244.8 L230.6,244.8 L230.6,245.8 L232.2,245.8 L232.2,246.6 L233.8,246.6 L233.8,247.4 L235.4,247.4 L235.4,248.2 L237.0,248.2 L237.0,249.0 L238.6,249.0 L238.6,249.8 L240.2,249.8 L240.2,250.4 L241.8,250.4 L241.8,251.0 L243.4,251.0 L243.4,251.6 L245.0,251.6 L245.0,252.3 L246.6,252.3 L246.6,252.9 L248.2,252.9 L248.2,253.4 L249.8,253.4 L249.8,253.7 L251.4,253.7 L251.4,254.0 L253.0,254.0 L253.0,254.4 L254.6,254.4 L254.6,254.7 L256.2,254.7 L256.2,255.0 L257.8,255.0 L257.8,255.2 L259.4,255.2 L259.4,255.4 L261.0,255.4 L261.0,255.5 L262.6,255.5 L262.6,255.7 L264.2,255.7 L264.2,255.9 L265.8,255.9 L265.8,256.0 L267.4,256.0 L267.4,256.2 L269.0,256.2 L269.0,256.3 L270.6,256.3 L270.6,256.5 L272.2,256.5 L272.2,256.7 L273.8,256.7 L273.8,256.8 L275.4,256.8 L275.4,256.9 L277.0,256.9 L277.0,257.0 L278.6,257.0 L278.6,257.0 L280.2,257.0 L280.2,257.1 L281.8,257.1 L281.8,257.1 L283.4,257.1 L283.4,257.2 L285.0,257.2 L285.0,257.2 L286.6,257.2 L286.6,257.3 L288.2,257.3 L288.2,257.3 L289.8,257.3 L289.8,257.4 L291.4,257.4 L291.4,257.4 L293.0,257.4 L293.0,257.5 L294.6,257.5 L294.6,257.6 L296.2,257.6 L296.2,257.6 L297.8,257.6 L297.8,257.7 L299.4,257.7 L299.4,257.7 L301.0,257.7 L301.0,257.8 L302.6,257.8 L302.6,257.8 L304.2,257.8 L304.2,258.0 L305.8,258.0 L305.8,258.2 L307.4,258.2 L307.4,258.3 L309.0,258.3 L309.0,258.5 L310.6,258.5 L310.6,258.6 L312.2,258.6 L312.2,258.8 L313.8,258.8 L313.8,259.0 L315.4,259.0 L315.4,259.2 L317.0,259.2 L317.0,259.4 L318.6,259.4 L318.6,259.7 L320.2,259.7 L320.2,260.8 L321.8,260.8 L321.8,260.9 L323.4,260.9 L323.4,260.9 L325.0,260.9 L325.0,260.9 L326.6,260.9 L326.6,260.9 L328.2,260.9 L328.2,260.9 L329.8,260.9 L329.8,260.9 L331.4,260.9 L331.4,260.9 L333.0,260.9 L333.0,260.9 L334.6,260.9 L334.6,260.9 L336.2,260.9 L336.2,260.9 L337.8,260.9 L337.8,260.9 L338.2,260.9 L338.2,260.9" stroke="#555555" stroke-width="1.1" fill="none"/>
<path d="M224.2,241.9 L225.8,242.0 L225.8,242.3 L227.4,242.3 L227.4,242.7 L229.0,242.7 L229.0,243.0 L230.6,243.0 L230.6,243.4 L232.2,243.4 L232.2,243.7 L233.8,243.7 L233.8,244.1 L235.4,244.1 L235.4,244.4 L237.0,244.4 L237.0,244.7 L238.6,244.7 L238.6,245.0 L240.2,245.0 L240.2,245.2 L241.8,245.2 L241.8,245.4 L243.4,245.4 L243.4,245.5 L245.0,245.5 L245.0,245.7 L246.6,245.7 L246.6,245.9 L248.2,245.9 L248.2,246.0 L249.8,246.0 L249.8,246.2 L251.4,246.2 L251.4,246.4 L253.0,246.4 L253.0,246.5 L254.6,246.5 L254.6,246.7 L256.2,246.7 L256.2,246.9 L257.8,246.9 L257.8,247.0 L259.4,247.0 L259.4,247.0 L261.0,247.0 L261.0,247.1 L262.6,247.1 L262.6,247.2 L264.2,247.2 L264.2,247.3 L265.8,247.3 L265.8,247.4 L267.4,247.4 L267.4,247.4 L269.0,247.4 L269.0,247.5 L270.6,247.5 L270.6,247.6 L272.2,247.6 L272.2,247.7 L273.8,247.7 L273.8,247.8 L275.4,247.8 L275.4,247.8 L277.0,247.8 L277.0,247.9 L278.6,247.9 L278.6,248.0 L280.2,248.0 L280.2,248.1 L281.8,248.1 L281.8,248.1 L283.4,248.1 L283.4,248.2 L285.0,248.2 L285.0,248.3 L286.6,248.3 L286.6,248.4 L288.2,248.4 L288.2,248.5 L289.8,248.5 L289.8,248.5 L291.4,248.5 L291.4,248.6 L293.0,248.6 L293.0,248.7 L294.6,248.7 L294.6,248.8 L296.2,248.8 L296.2,248.9 L297.8,248.9 L297.8,249.0 L299.4,249.0 L299.4,249.1 L301.0,249.1 L301.0,249.2 L302.6,249.2 L302.6,249.3 L304.2,249.3 L304.2,249.4 L305.8,249.4 L305.8,249.5 L307.4,249.5 L307.4,249.6 L309.0,249.6 L309.0,249.6 L310.6,249.6 L310.6,249.6 L312.2,249.6 L312.2,249.6 L313.8,249.6 L313.8,249.6 L315.4,249.6 L315.4,249.7 L317.0,249.7 L317.0,249.7 L318.6,249.7 L318.6,249.7 L320.2,249.7 L320.2,249.7 L321.8,249.7 L321.8,249.7 L323.4,249.7 L323.4,249.7 L325.0,249.7 L325.0,249.7 L326.6,249.7 L326.6,249.7 L328.2,249.7 L328.2,249.7 L329.8,249.7 L329.8,249.7 L331.4,249.7 L331.4,249.8 L333.0,249.8 L333.0,249.8 L334.6,249.8 L334.6,249.8 L336.2,249.8 L336.2,249.8 L337.8,249.8 L337.8,249.8 L338.2,249.8 L338.2,249.8" stroke="#3a9f86" stroke-width="1.1" fill="none"/>
<g stroke-width="0.7">
<line x1="332.5" y1="259.7" x2="332.5" y2="262.1" stroke="#555555"/>
<line x1="294.2" y1="256.3" x2="294.2" y2="258.7" stroke="#555555"/>
<line x1="325.9" y1="259.7" x2="325.9" y2="262.1" stroke="#555555"/>
<line x1="270.3" y1="255.3" x2="270.3" y2="257.7" stroke="#555555"/>
<line x1="290.0" y1="256.2" x2="290.0" y2="258.6" stroke="#555555"/>
<line x1="267.6" y1="255.0" x2="267.6" y2="257.4" stroke="#555555"/>
<line x1="302.1" y1="256.6" x2="302.1" y2="259.0" stroke="#555555"/>
<line x1="312.8" y1="257.7" x2="312.8" y2="260.1" stroke="#555555"/>
<line x1="300.5" y1="256.5" x2="300.5" y2="258.9" stroke="#555555"/>
<line x1="301.6" y1="256.6" x2="301.6" y2="259.0" stroke="#555555"/>
<line x1="274.4" y1="255.7" x2="274.4" y2="258.1" stroke="#555555"/>
<line x1="334.2" y1="259.7" x2="334.2" y2="262.1" stroke="#555555"/>
<line x1="237.8" y1="248.2" x2="237.8" y2="250.6" stroke="#555555"/>
<line x1="258.3" y1="254.1" x2="258.3" y2="256.5" stroke="#555555"/>
<line x1="309.2" y1="257.3" x2="309.2" y2="259.7" stroke="#555555"/>
<line x1="335.9" y1="259.7" x2="335.9" y2="262.1" stroke="#555555"/>
<line x1="325.2" y1="259.7" x2="325.2" y2="262.1" stroke="#555555"/>
<line x1="267.5" y1="255.0" x2="267.5" y2="257.4" stroke="#555555"/>
<line x1="333.4" y1="259.7" x2="333.4" y2="262.1" stroke="#555555"/>
<line x1="289.3" y1="256.2" x2="289.3" y2="258.6" stroke="#555555"/>
<line x1="300.3" y1="256.5" x2="300.3" y2="258.9" stroke="#555555"/>
<line x1="307.4" y1="257.1" x2="307.4" y2="259.5" stroke="#555555"/>
<line x1="304.6" y1="256.9" x2="304.6" y2="259.3" stroke="#555555"/>
<line x1="328.0" y1="259.7" x2="328.0" y2="262.1" stroke="#555555"/>
<line x1="329.6" y1="259.7" x2="329.6" y2="262.1" stroke="#555555"/>
<line x1="275.0" y1="255.7" x2="275.0" y2="258.1" stroke="#555555"/>
<line x1="329.0" y1="259.7" x2="329.0" y2="262.1" stroke="#555555"/>
<line x1="275.0" y1="255.7" x2="275.0" y2="258.1" stroke="#555555"/>
<line x1="310.7" y1="257.5" x2="310.7" y2="259.9" stroke="#555555"/>
<line x1="257.3" y1="254.0" x2="257.3" y2="256.4" stroke="#555555"/>
<line x1="306.5" y1="257.0" x2="306.5" y2="259.4" stroke="#555555"/>
<line x1="273.4" y1="255.6" x2="273.4" y2="258.0" stroke="#555555"/>
<line x1="337.7" y1="259.7" x2="337.7" y2="262.1" stroke="#555555"/>
<line x1="309.0" y1="257.3" x2="309.0" y2="259.7" stroke="#555555"/>
<line x1="282.4" y1="256.0" x2="282.4" y2="258.4" stroke="#555555"/>
<line x1="335.0" y1="259.7" x2="335.0" y2="262.1" stroke="#555555"/>
<line x1="252.0" y1="253.0" x2="252.0" y2="255.4" stroke="#555555"/>
<line x1="316.4" y1="258.1" x2="316.4" y2="260.5" stroke="#555555"/>
<line x1="307.5" y1="257.1" x2="307.5" y2="259.5" stroke="#555555"/>
<line x1="237.4" y1="248.0" x2="237.4" y2="250.4" stroke="#555555"/>
<line x1="289.7" y1="256.2" x2="289.7" y2="258.6" stroke="#555555"/>
<line x1="252.1" y1="253.0" x2="252.1" y2="255.4" stroke="#555555"/>
<line x1="338.2" y1="259.7" x2="338.2" y2="262.1" stroke="#555555"/>
<line x1="249.9" y1="252.5" x2="249.9" y2="254.9" stroke="#555555"/>
<line x1="306.3" y1="257.0" x2="306.3" y2="259.4" stroke="#555555"/>
<line x1="297.7" y1="256.5" x2="297.7" y2="258.9" stroke="#555555"/>
<line x1="253.2" y1="253.2" x2="253.2" y2="255.6" stroke="#555555"/>
<line x1="332.7" y1="259.7" x2="332.7" y2="262.1" stroke="#555555"/>
<line x1="300.6" y1="256.6" x2="300.6" y2="259.0" stroke="#555555"/>
<line x1="304.7" y1="256.9" x2="304.7" y2="259.3" stroke="#555555"/>
<line x1="269.4" y1="255.2" x2="269.4" y2="257.6" stroke="#555555"/>
<line x1="256.8" y1="253.9" x2="256.8" y2="256.3" stroke="#555555"/>
<line x1="276.1" y1="255.7" x2="276.1" y2="258.1" stroke="#555555"/>
<line x1="240.4" y1="249.3" x2="240.4" y2="251.7" stroke="#555555"/>
<line x1="262.4" y1="254.5" x2="262.4" y2="256.9" stroke="#555555"/>
<line x1="293.2" y1="256.3" x2="293.2" y2="258.7" stroke="#555555"/>
<line x1="282.8" y1="256.0" x2="282.8" y2="258.4" stroke="#555555"/>
<line x1="317.6" y1="258.3" x2="317.6" y2="260.7" stroke="#555555"/>
<line x1="255.3" y1="253.6" x2="255.3" y2="256.0" stroke="#555555"/>
<line x1="263.0" y1="254.5" x2="263.0" y2="256.9" stroke="#555555"/>
<line x1="295.8" y1="247.7" x2="295.8" y2="250.1" stroke="#3a9f86"/>
<line x1="311.0" y1="248.4" x2="311.0" y2="250.8" stroke="#3a9f86"/>
<line x1="274.9" y1="246.6" x2="274.9" y2="249.0" stroke="#3a9f86"/>
<line x1="263.0" y1="246.0" x2="263.0" y2="248.4" stroke="#3a9f86"/>
<line x1="253.2" y1="245.4" x2="253.2" y2="247.8" stroke="#3a9f86"/>
<line x1="280.0" y1="246.9" x2="280.0" y2="249.3" stroke="#3a9f86"/>
<line x1="281.6" y1="246.9" x2="281.6" y2="249.3" stroke="#3a9f86"/>
<line x1="320.8" y1="248.5" x2="320.8" y2="250.9" stroke="#3a9f86"/>
<line x1="266.8" y1="246.2" x2="266.8" y2="248.6" stroke="#3a9f86"/>
<line x1="277.6" y1="246.7" x2="277.6" y2="249.1" stroke="#3a9f86"/>
<line x1="316.2" y1="248.5" x2="316.2" y2="250.9" stroke="#3a9f86"/>
<line x1="263.1" y1="246.0" x2="263.1" y2="248.4" stroke="#3a9f86"/>
<line x1="241.1" y1="244.1" x2="241.1" y2="246.5" stroke="#3a9f86"/>
<line x1="335.9" y1="248.6" x2="335.9" y2="251.0" stroke="#3a9f86"/>
<line x1="331.0" y1="248.6" x2="331.0" y2="251.0" stroke="#3a9f86"/>
<line x1="275.1" y1="246.6" x2="275.1" y2="249.0" stroke="#3a9f86"/>
<line x1="271.6" y1="246.4" x2="271.6" y2="248.8" stroke="#3a9f86"/>
<line x1="289.7" y1="247.3" x2="289.7" y2="249.7" stroke="#3a9f86"/>
<line x1="263.4" y1="246.0" x2="263.4" y2="248.4" stroke="#3a9f86"/>
<line x1="319.9" y1="248.5" x2="319.9" y2="250.9" stroke="#3a9f86"/>
<line x1="328.4" y1="248.5" x2="328.4" y2="250.9" stroke="#3a9f86"/>
<line x1="313.3" y1="248.4" x2="313.3" y2="250.8" stroke="#3a9f86"/>
<line x1="283.7" y1="247.0" x2="283.7" y2="249.4" stroke="#3a9f86"/>
<line x1="324.5" y1="248.5" x2="324.5" y2="250.9" stroke="#3a9f86"/>
<line x1="332.8" y1="248.6" x2="332.8" y2="251.0" stroke="#3a9f86"/>
<line x1="260.4" y1="245.9" x2="260.4" y2="248.3" stroke="#3a9f86"/>
<line x1="309.3" y1="248.4" x2="309.3" y2="250.8" stroke="#3a9f86"/>
<line x1="259.0" y1="245.8" x2="259.0" y2="248.2" stroke="#3a9f86"/>
<line x1="337.0" y1="248.6" x2="337.0" y2="251.0" stroke="#3a9f86"/>
<line x1="320.7" y1="248.5" x2="320.7" y2="250.9" stroke="#3a9f86"/>
<line x1="284.7" y1="247.1" x2="284.7" y2="249.5" stroke="#3a9f86"/>
<line x1="315.8" y1="248.5" x2="315.8" y2="250.9" stroke="#3a9f86"/>
<line x1="272.6" y1="246.5" x2="272.6" y2="248.9" stroke="#3a9f86"/>
<line x1="244.9" y1="244.5" x2="244.9" y2="246.9" stroke="#3a9f86"/>
<line x1="294.9" y1="247.6" x2="294.9" y2="250.0" stroke="#3a9f86"/>
<line x1="246.6" y1="244.7" x2="246.6" y2="247.1" stroke="#3a9f86"/>
<line x1="289.4" y1="247.3" x2="289.4" y2="249.7" stroke="#3a9f86"/>
<line x1="325.7" y1="248.5" x2="325.7" y2="250.9" stroke="#3a9f86"/>
<line x1="300.9" y1="248.0" x2="300.9" y2="250.4" stroke="#3a9f86"/>
<line x1="269.7" y1="246.4" x2="269.7" y2="248.8" stroke="#3a9f86"/>
<line x1="263.7" y1="246.1" x2="263.7" y2="248.5" stroke="#3a9f86"/>
<line x1="299.1" y1="247.9" x2="299.1" y2="250.3" stroke="#3a9f86"/>
<line x1="294.5" y1="247.6" x2="294.5" y2="250.0" stroke="#3a9f86"/>
<line x1="330.0" y1="248.5" x2="330.0" y2="250.9" stroke="#3a9f86"/>
<line x1="258.9" y1="245.8" x2="258.9" y2="248.2" stroke="#3a9f86"/>
<line x1="290.3" y1="247.4" x2="290.3" y2="249.8" stroke="#3a9f86"/>
<line x1="288.5" y1="247.3" x2="288.5" y2="249.7" stroke="#3a9f86"/>
<line x1="281.4" y1="246.9" x2="281.4" y2="249.3" stroke="#3a9f86"/>
<line x1="260.7" y1="245.9" x2="260.7" y2="248.3" stroke="#3a9f86"/>
<line x1="282.0" y1="247.0" x2="282.0" y2="249.4" stroke="#3a9f86"/>
<line x1="297.7" y1="247.8" x2="297.7" y2="250.2" stroke="#3a9f86"/>
<line x1="261.6" y1="246.0" x2="261.6" y2="248.4" stroke="#3a9f86"/>
<line x1="275.5" y1="246.6" x2="275.5" y2="249.0" stroke="#3a9f86"/>
<line x1="296.1" y1="247.7" x2="296.1" y2="250.1" stroke="#3a9f86"/>
<line x1="333.1" y1="248.6" x2="333.1" y2="251.0" stroke="#3a9f86"/>
<line x1="291.9" y1="247.4" x2="291.9" y2="249.8" stroke="#3a9f86"/>
<line x1="278.2" y1="246.8" x2="278.2" y2="249.2" stroke="#3a9f86"/>
<line x1="240.4" y1="244.0" x2="240.4" y2="246.4" stroke="#3a9f86"/>
<line x1="295.3" y1="247.6" x2="295.3" y2="250.0" stroke="#3a9f86"/>
<line x1="278.0" y1="246.8" x2="278.0" y2="249.2" stroke="#3a9f86"/>
</g>
<rect x="224.20" y="241.90" width="114.40" height="96.40" fill="none" stroke="#999" stroke-width="1.1"/>
<line x1="224.20" y1="241.90" x2="224.20" y2="338.80" stroke="#5a5a5a" stroke-width="1"/>
<line x1="223.70" y1="338.30" x2="338.60" y2="338.30" stroke="#5a5a5a" stroke-width="1"/>
<line x1="221.20" y1="241.90" x2="224.20" y2="241.90" stroke="#333" stroke-width="1"/>
<line x1="221.20" y1="338.30" x2="224.20" y2="338.30" stroke="#333" stroke-width="1"/>
<text x="0" y="0" font-size="9.29" transform="translate(219.70,245.00) scale(0.9259,1)" text-anchor="end" fill="#333" stroke="#333" stroke-width="0.1">1</text>
<text x="0" y="0" font-size="9.29" transform="translate(219.70,341.40) scale(0.9259,1)" text-anchor="end" fill="#333" stroke="#333" stroke-width="0.1">0</text>
<line x1="224.20" y1="338.30" x2="224.20" y2="341.30" stroke="#333" stroke-width="1"/>
<text x="0" y="0" font-size="9.29" transform="translate(224.20,349.90) scale(0.9259,1)" text-anchor="middle" fill="#333" stroke="#333" stroke-width="0.1">0</text>
<line x1="280.40" y1="338.30" x2="280.40" y2="341.30" stroke="#333" stroke-width="1"/>
<text x="0" y="0" font-size="9.29" transform="translate(280.40,349.90) scale(0.9259,1)" text-anchor="middle" fill="#333" stroke="#333" stroke-width="0.1">2000</text>
<line x1="336.60" y1="338.30" x2="336.60" y2="341.30" stroke="#333" stroke-width="1"/>
<text x="0" y="0" font-size="9.29" transform="translate(336.60,349.90) scale(0.9259,1)" text-anchor="middle" fill="#333" stroke="#333" stroke-width="0.1">4000</text>
<rect x="231.10" y="284.00" width="8.90" height="8.60" fill="#3a9f86" stroke="none" stroke-width="1"/>
<rect x="231.10" y="294.10" width="8.90" height="8.60" fill="#555555" stroke="none" stroke-width="1"/>
<text x="0" y="0" font-size="9.29" transform="translate(241.80,291.00) scale(0.9259,1)" fill="#333" stroke="#333" stroke-width="0.1">n=392</text>
<text x="0" y="0" font-size="9.29" transform="translate(241.80,301.20) scale(0.9259,1)" fill="#333" stroke="#333" stroke-width="0.1">n=392</text>
<text x="0" y="0" font-size="9.29" transform="translate(230.90,330.00) scale(0.9259,1)" fill="#333" stroke="#333" stroke-width="0.1">p = 2.7×10<tspan font-size="4.97" dy="-3.0" dx="-0.3">−5</tspan></text>
<text x="0" y="0" font-size="9.29" transform="translate(227.60,237.80) scale(0.9259,1)" stroke="#222" stroke-width="0.1">Module score</text>
<polygon points="397.6,247.8 399.5,248.6 401.4,249.3 403.3,250.8 405.2,252.3 407.1,253.9 408.9,255.4 410.8,256.4 412.7,256.8 414.6,257.2 416.5,257.6 418.4,258.0 420.3,258.4 422.2,258.7 424.1,259.1 425.9,259.4 427.8,259.7 429.7,260.0 431.6,260.3 433.5,260.3 435.4,260.4 437.3,260.5 439.2,260.5 441.1,260.6 443.0,260.7 444.9,260.7 446.7,260.6 448.6,260.6 450.5,260.6 452.4,260.6 454.3,260.6 456.2,260.7 458.1,260.8 460.0,260.9 461.9,260.9 463.8,261.0 465.6,261.1 467.5,261.2 469.4,261.3 471.3,261.3 473.2,261.3 475.1,261.3 477.0,261.3 478.9,261.3 480.8,261.3 482.6,261.3 484.5,261.3 486.4,261.3 488.3,261.3 490.2,261.3 492.1,261.2 494.0,261.2 495.9,261.2 497.8,261.2 499.7,261.2 501.6,261.2 503.4,261.2 505.3,261.2 507.2,261.2 509.1,261.2 511.0,261.2 511.0,270.8 509.1,270.7 507.2,270.6 505.3,270.5 503.4,270.3 501.6,270.2 499.7,270.1 497.8,270.0 495.9,269.9 494.0,269.8 492.1,269.6 490.2,269.5 488.3,269.4 486.4,269.3 484.5,269.2 482.6,269.1 480.8,269.0 478.9,268.8 477.0,268.7 475.1,268.6 473.2,268.5 471.3,268.4 469.4,268.2 467.5,268.0 465.6,267.8 463.8,267.6 461.9,267.4 460.0,267.2 458.1,267.0 456.2,266.8 454.3,266.6 452.4,266.5 450.5,266.4 448.6,266.3 446.7,266.2 444.9,266.1 443.0,265.9 441.1,265.8 439.2,265.6 437.3,265.4 435.4,265.2 433.5,265.0 431.6,264.8 429.7,264.5 427.8,264.0 425.9,263.6 424.1,263.1 422.2,262.7 420.3,262.2 418.4,261.8 416.5,261.2 414.6,260.7 412.7,260.2 410.8,259.7 408.9,258.5 407.1,256.9 405.2,255.2 403.3,253.5 401.4,252.0 399.5,251.1 397.6,250.2" fill="rgba(0,0,0,0.19)"/>
<polygon points="397.6,241.2 399.5,242.2 401.4,243.2 403.3,244.2 405.2,245.1 407.1,245.9 408.9,246.7 410.8,247.5 412.7,248.3 414.6,248.7 416.5,249.0 418.4,249.2 420.3,249.5 422.2,249.7 424.1,250.0 425.9,250.2 427.8,250.3 429.7,250.5 431.6,250.6 433.5,250.7 435.4,250.9 437.3,251.0 439.2,251.0 441.1,251.0 443.0,251.1 444.9,251.1 446.7,251.1 448.6,251.1 450.5,251.2 452.4,251.2 454.3,251.2 456.2,251.3 458.1,251.3 460.0,251.3 461.9,251.4 463.8,251.4 465.6,251.4 467.5,251.5 469.4,251.5 471.3,251.7 473.2,252.1 475.1,252.4 477.0,252.7 478.9,252.7 480.8,252.6 482.6,252.6 484.5,252.6 486.4,252.6 488.3,252.6 490.2,252.6 492.1,252.6 494.0,252.5 495.9,252.5 497.8,252.5 499.7,252.5 501.6,252.5 503.4,252.5 505.3,252.4 507.2,252.4 509.1,252.4 511.0,252.4 511.0,258.4 509.1,258.3 507.2,258.3 505.3,258.2 503.4,258.2 501.6,258.1 499.7,258.0 497.8,258.0 495.9,257.9 494.0,257.9 492.1,257.8 490.2,257.7 488.3,257.7 486.4,257.6 484.5,257.6 482.6,257.5 480.8,257.4 478.9,257.4 477.0,257.3 475.1,257.0 473.2,256.6 471.3,256.2 469.4,255.9 467.5,255.7 465.6,255.6 463.8,255.5 461.9,255.4 460.0,255.3 458.1,255.2 456.2,255.1 454.3,255.0 452.4,254.9 450.5,254.8 448.6,254.7 446.7,254.6 444.9,254.5 443.0,254.4 441.1,254.3 439.2,254.2 437.3,254.1 435.4,253.9 433.5,253.7 431.6,253.4 429.7,253.2 427.8,253.0 425.9,252.8 424.1,252.5 422.2,252.2 420.3,251.9 418.4,251.5 416.5,251.2 414.6,250.9 412.7,250.4 410.8,249.5 408.9,248.6 407.1,247.8 405.2,246.9 403.3,246.0 401.4,244.9 399.5,243.8 397.6,242.8" fill="rgba(58,165,139,0.33)"/>
<path d="M397.6,241.9 L397.6,249.0 L399.2,249.0 L399.2,249.7 L400.8,249.7 L400.8,250.4 L402.4,250.4 L402.4,251.4 L404.0,251.4 L404.0,252.8 L405.6,252.8 L405.6,254.1 L407.2,254.1 L407.2,255.5 L408.8,255.5 L408.8,256.9 L410.4,256.9 L410.4,257.9 L412.0,257.9 L412.0,258.3 L413.6,258.3 L413.6,258.7 L415.2,258.7 L415.2,259.1 L416.8,259.1 L416.8,259.5 L418.4,259.5 L418.4,259.9 L420.0,259.9 L420.0,260.3 L421.6,260.3 L421.6,260.6 L423.2,260.6 L423.2,260.9 L424.8,260.9 L424.8,261.2 L426.4,261.2 L426.4,261.6 L428.0,261.6 L428.0,261.9 L429.6,261.9 L429.6,262.2 L431.2,262.2 L431.2,262.5 L432.8,262.5 L432.8,262.6 L434.4,262.6 L434.4,262.7 L436.0,262.7 L436.0,262.8 L437.6,262.8 L437.6,263.0 L439.2,263.0 L439.2,263.1 L440.8,263.1 L440.8,263.2 L442.4,263.2 L442.4,263.3 L444.0,263.3 L444.0,263.3 L445.6,263.3 L445.6,263.4 L447.2,263.4 L447.2,263.4 L448.8,263.4 L448.8,263.5 L450.4,263.5 L450.4,263.5 L452.0,263.5 L452.0,263.5 L453.6,263.5 L453.6,263.6 L455.2,263.6 L455.2,263.7 L456.8,263.7 L456.8,263.8 L458.4,263.8 L458.4,263.9 L460.0,263.9 L460.0,264.0 L461.6,264.0 L461.6,264.2 L463.2,264.2 L463.2,264.3 L464.8,264.3 L464.8,264.4 L466.4,264.4 L466.4,264.5 L468.0,264.5 L468.0,264.6 L469.6,264.6 L469.6,264.8 L471.2,264.8 L471.2,264.8 L472.8,264.8 L472.8,264.9 L474.4,264.9 L474.4,264.9 L476.0,264.9 L476.0,265.0 L477.6,265.0 L477.6,265.0 L479.2,265.0 L479.2,265.1 L480.8,265.1 L480.8,265.1 L482.4,265.1 L482.4,265.2 L484.0,265.2 L484.0,265.2 L485.6,265.2 L485.6,265.3 L487.2,265.3 L487.2,265.3 L488.8,265.3 L488.8,265.4 L490.4,265.4 L490.4,265.4 L492.0,265.4 L492.0,265.4 L493.6,265.4 L493.6,265.5 L495.2,265.5 L495.2,265.5 L496.8,265.5 L496.8,265.6 L498.4,265.6 L498.4,265.6 L500.0,265.6 L500.0,265.7 L501.6,265.7 L501.6,265.7 L503.2,265.7 L503.2,265.8 L504.8,265.8 L504.8,265.8 L506.4,265.8 L506.4,265.9 L508.0,265.9 L508.0,265.9 L509.6,265.9 L509.6,266.0 L511.0,266.0 L511.0,266.0" stroke="#555555" stroke-width="1.1" fill="none"/>
<path d="M397.6,241.9 L399.2,242.0 L399.2,242.9 L400.8,242.9 L400.8,243.8 L402.4,243.8 L402.4,244.6 L404.0,244.6 L404.0,245.5 L405.6,245.5 L405.6,246.2 L407.2,246.2 L407.2,246.9 L408.8,246.9 L408.8,247.6 L410.4,247.6 L410.4,248.3 L412.0,248.3 L412.0,249.0 L413.6,249.0 L413.6,249.6 L415.2,249.6 L415.2,249.9 L416.8,249.9 L416.8,250.1 L418.4,250.1 L418.4,250.4 L420.0,250.4 L420.0,250.6 L421.6,250.6 L421.6,250.9 L423.2,250.9 L423.2,251.1 L424.8,251.1 L424.8,251.4 L426.4,251.4 L426.4,251.5 L428.0,251.5 L428.0,251.7 L429.6,251.7 L429.6,251.8 L431.2,251.8 L431.2,252.0 L432.8,252.0 L432.8,252.1 L434.4,252.1 L434.4,252.3 L436.0,252.3 L436.0,252.4 L437.6,252.4 L437.6,252.5 L439.2,252.5 L439.2,252.6 L440.8,252.6 L440.8,252.6 L442.4,252.6 L442.4,252.7 L444.0,252.7 L444.0,252.7 L445.6,252.7 L445.6,252.8 L447.2,252.8 L447.2,252.9 L448.8,252.9 L448.8,252.9 L450.4,252.9 L450.4,253.0 L452.0,253.0 L452.0,253.0 L453.6,253.0 L453.6,253.1 L455.2,253.1 L455.2,253.1 L456.8,253.1 L456.8,253.2 L458.4,253.2 L458.4,253.3 L460.0,253.3 L460.0,253.3 L461.6,253.3 L461.6,253.4 L463.2,253.4 L463.2,253.4 L464.8,253.4 L464.8,253.5 L466.4,253.5 L466.4,253.6 L468.0,253.6 L468.0,253.6 L469.6,253.6 L469.6,253.7 L471.2,253.7 L471.2,253.9 L472.8,253.9 L472.8,254.2 L474.4,254.2 L474.4,254.5 L476.0,254.5 L476.0,254.8 L477.6,254.8 L477.6,255.0 L479.2,255.0 L479.2,255.0 L480.8,255.0 L480.8,255.0 L482.4,255.0 L482.4,255.1 L484.0,255.1 L484.0,255.1 L485.6,255.1 L485.6,255.1 L487.2,255.1 L487.2,255.1 L488.8,255.1 L488.8,255.1 L490.4,255.1 L490.4,255.2 L492.0,255.2 L492.0,255.2 L493.6,255.2 L493.6,255.2 L495.2,255.2 L495.2,255.2 L496.8,255.2 L496.8,255.2 L498.4,255.2 L498.4,255.3 L500.0,255.3 L500.0,255.3 L501.6,255.3 L501.6,255.3 L503.2,255.3 L503.2,255.3 L504.8,255.3 L504.8,255.3 L506.4,255.3 L506.4,255.3 L508.0,255.3 L508.0,255.4 L509.6,255.4 L509.6,255.4 L511.0,255.4 L511.0,255.4" stroke="#3a9f86" stroke-width="1.1" fill="none"/>
<g stroke-width="0.7">
<line x1="425.3" y1="260.1" x2="425.3" y2="262.5" stroke="#555555"/>
<line x1="464.1" y1="263.1" x2="464.1" y2="265.5" stroke="#555555"/>
<line x1="477.5" y1="263.8" x2="477.5" y2="266.2" stroke="#555555"/>
<line x1="451.9" y1="262.3" x2="451.9" y2="264.7" stroke="#555555"/>
<line x1="488.2" y1="264.1" x2="488.2" y2="266.5" stroke="#555555"/>
<line x1="478.9" y1="263.9" x2="478.9" y2="266.3" stroke="#555555"/>
<line x1="418.1" y1="258.6" x2="418.1" y2="261.0" stroke="#555555"/>
<line x1="416.1" y1="258.1" x2="416.1" y2="260.5" stroke="#555555"/>
<line x1="469.0" y1="263.5" x2="469.0" y2="265.9" stroke="#555555"/>
<line x1="476.5" y1="263.8" x2="476.5" y2="266.2" stroke="#555555"/>
<line x1="472.0" y1="263.7" x2="472.0" y2="266.1" stroke="#555555"/>
<line x1="438.8" y1="261.8" x2="438.8" y2="264.2" stroke="#555555"/>
<line x1="451.1" y1="262.3" x2="451.1" y2="264.7" stroke="#555555"/>
<line x1="486.7" y1="264.1" x2="486.7" y2="266.5" stroke="#555555"/>
<line x1="456.5" y1="262.6" x2="456.5" y2="265.0" stroke="#555555"/>
<line x1="469.4" y1="263.6" x2="469.4" y2="266.0" stroke="#555555"/>
<line x1="438.7" y1="261.8" x2="438.7" y2="264.2" stroke="#555555"/>
<line x1="478.7" y1="263.9" x2="478.7" y2="266.3" stroke="#555555"/>
<line x1="464.6" y1="263.2" x2="464.6" y2="265.6" stroke="#555555"/>
<line x1="407.6" y1="254.7" x2="407.6" y2="257.1" stroke="#555555"/>
<line x1="489.9" y1="264.2" x2="489.9" y2="266.6" stroke="#555555"/>
<line x1="494.2" y1="264.3" x2="494.2" y2="266.7" stroke="#555555"/>
<line x1="509.9" y1="264.8" x2="509.9" y2="267.2" stroke="#555555"/>
<line x1="506.2" y1="264.7" x2="506.2" y2="267.1" stroke="#555555"/>
<line x1="485.3" y1="264.0" x2="485.3" y2="266.4" stroke="#555555"/>
<line x1="463.4" y1="263.1" x2="463.4" y2="265.5" stroke="#555555"/>
<line x1="442.8" y1="262.1" x2="442.8" y2="264.5" stroke="#555555"/>
<line x1="485.4" y1="264.1" x2="485.4" y2="266.5" stroke="#555555"/>
<line x1="458.7" y1="262.7" x2="458.7" y2="265.1" stroke="#555555"/>
<line x1="448.9" y1="262.3" x2="448.9" y2="264.7" stroke="#555555"/>
<line x1="425.4" y1="260.2" x2="425.4" y2="262.6" stroke="#555555"/>
<line x1="476.5" y1="263.8" x2="476.5" y2="266.2" stroke="#555555"/>
<line x1="486.0" y1="264.1" x2="486.0" y2="266.5" stroke="#555555"/>
<line x1="491.3" y1="264.2" x2="491.3" y2="266.6" stroke="#555555"/>
<line x1="429.9" y1="261.1" x2="429.9" y2="263.5" stroke="#555555"/>
<line x1="436.0" y1="261.7" x2="436.0" y2="264.1" stroke="#555555"/>
<line x1="479.4" y1="263.9" x2="479.4" y2="266.3" stroke="#555555"/>
<line x1="427.0" y1="260.5" x2="427.0" y2="262.9" stroke="#555555"/>
<line x1="501.4" y1="264.5" x2="501.4" y2="266.9" stroke="#555555"/>
<line x1="504.9" y1="264.6" x2="504.9" y2="267.0" stroke="#555555"/>
<line x1="478.8" y1="263.9" x2="478.8" y2="266.3" stroke="#555555"/>
<line x1="442.3" y1="262.1" x2="442.3" y2="264.5" stroke="#555555"/>
<line x1="472.5" y1="263.7" x2="472.5" y2="266.1" stroke="#555555"/>
<line x1="491.0" y1="264.2" x2="491.0" y2="266.6" stroke="#555555"/>
<line x1="451.2" y1="262.3" x2="451.2" y2="264.7" stroke="#555555"/>
<line x1="480.5" y1="263.9" x2="480.5" y2="266.3" stroke="#555555"/>
<line x1="476.1" y1="263.8" x2="476.1" y2="266.2" stroke="#555555"/>
<line x1="503.3" y1="264.6" x2="503.3" y2="267.0" stroke="#555555"/>
<line x1="491.9" y1="264.2" x2="491.9" y2="266.6" stroke="#555555"/>
<line x1="482.3" y1="264.0" x2="482.3" y2="266.4" stroke="#555555"/>
<line x1="470.9" y1="263.6" x2="470.9" y2="266.0" stroke="#555555"/>
<line x1="501.7" y1="264.5" x2="501.7" y2="266.9" stroke="#555555"/>
<line x1="476.2" y1="263.8" x2="476.2" y2="266.2" stroke="#555555"/>
<line x1="484.1" y1="264.0" x2="484.1" y2="266.4" stroke="#555555"/>
<line x1="447.6" y1="262.2" x2="447.6" y2="264.6" stroke="#555555"/>
<line x1="424.2" y1="259.9" x2="424.2" y2="262.3" stroke="#555555"/>
<line x1="472.1" y1="263.7" x2="472.1" y2="266.1" stroke="#555555"/>
<line x1="438.0" y1="261.8" x2="438.0" y2="264.2" stroke="#555555"/>
<line x1="508.5" y1="264.7" x2="508.5" y2="267.1" stroke="#555555"/>
<line x1="437.9" y1="261.8" x2="437.9" y2="264.2" stroke="#555555"/>
<line x1="502.2" y1="254.1" x2="502.2" y2="256.5" stroke="#3a9f86"/>
<line x1="450.0" y1="251.8" x2="450.0" y2="254.2" stroke="#3a9f86"/>
<line x1="434.5" y1="251.1" x2="434.5" y2="253.5" stroke="#3a9f86"/>
<line x1="473.9" y1="253.2" x2="473.9" y2="255.6" stroke="#3a9f86"/>
<line x1="448.8" y1="251.7" x2="448.8" y2="254.1" stroke="#3a9f86"/>
<line x1="510.5" y1="254.2" x2="510.5" y2="256.6" stroke="#3a9f86"/>
<line x1="477.6" y1="253.8" x2="477.6" y2="256.2" stroke="#3a9f86"/>
<line x1="423.3" y1="249.9" x2="423.3" y2="252.3" stroke="#3a9f86"/>
<line x1="447.6" y1="251.7" x2="447.6" y2="254.1" stroke="#3a9f86"/>
<line x1="424.8" y1="250.2" x2="424.8" y2="252.6" stroke="#3a9f86"/>
<line x1="466.0" y1="252.3" x2="466.0" y2="254.7" stroke="#3a9f86"/>
<line x1="469.2" y1="252.5" x2="469.2" y2="254.9" stroke="#3a9f86"/>
<line x1="448.2" y1="251.7" x2="448.2" y2="254.1" stroke="#3a9f86"/>
<line x1="482.7" y1="253.9" x2="482.7" y2="256.3" stroke="#3a9f86"/>
<line x1="461.2" y1="252.2" x2="461.2" y2="254.6" stroke="#3a9f86"/>
<line x1="495.7" y1="254.0" x2="495.7" y2="256.4" stroke="#3a9f86"/>
<line x1="483.2" y1="253.9" x2="483.2" y2="256.3" stroke="#3a9f86"/>
<line x1="442.0" y1="251.5" x2="442.0" y2="253.9" stroke="#3a9f86"/>
<line x1="496.5" y1="254.0" x2="496.5" y2="256.4" stroke="#3a9f86"/>
<line x1="412.9" y1="248.2" x2="412.9" y2="250.6" stroke="#3a9f86"/>
<line x1="439.5" y1="251.4" x2="439.5" y2="253.8" stroke="#3a9f86"/>
<line x1="412.7" y1="248.1" x2="412.7" y2="250.5" stroke="#3a9f86"/>
<line x1="506.9" y1="254.2" x2="506.9" y2="256.6" stroke="#3a9f86"/>
<line x1="470.0" y1="252.5" x2="470.0" y2="254.9" stroke="#3a9f86"/>
<line x1="497.5" y1="254.0" x2="497.5" y2="256.4" stroke="#3a9f86"/>
<line x1="510.2" y1="254.2" x2="510.2" y2="256.6" stroke="#3a9f86"/>
<line x1="422.1" y1="249.7" x2="422.1" y2="252.1" stroke="#3a9f86"/>
<line x1="502.6" y1="254.1" x2="502.6" y2="256.5" stroke="#3a9f86"/>
<line x1="411.4" y1="247.5" x2="411.4" y2="249.9" stroke="#3a9f86"/>
<line x1="485.2" y1="253.9" x2="485.2" y2="256.3" stroke="#3a9f86"/>
<line x1="493.3" y1="254.0" x2="493.3" y2="256.4" stroke="#3a9f86"/>
<line x1="455.3" y1="251.9" x2="455.3" y2="254.3" stroke="#3a9f86"/>
<line x1="501.7" y1="254.1" x2="501.7" y2="256.5" stroke="#3a9f86"/>
<line x1="491.0" y1="254.0" x2="491.0" y2="256.4" stroke="#3a9f86"/>
<line x1="466.4" y1="252.4" x2="466.4" y2="254.8" stroke="#3a9f86"/>
<line x1="444.5" y1="251.6" x2="444.5" y2="254.0" stroke="#3a9f86"/>
<line x1="430.7" y1="250.7" x2="430.7" y2="253.1" stroke="#3a9f86"/>
<line x1="420.0" y1="249.4" x2="420.0" y2="251.8" stroke="#3a9f86"/>
<line x1="470.5" y1="252.6" x2="470.5" y2="255.0" stroke="#3a9f86"/>
<line x1="469.0" y1="252.5" x2="469.0" y2="254.9" stroke="#3a9f86"/>
<line x1="434.0" y1="251.0" x2="434.0" y2="253.4" stroke="#3a9f86"/>
<line x1="469.5" y1="252.5" x2="469.5" y2="254.9" stroke="#3a9f86"/>
<line x1="420.4" y1="249.5" x2="420.4" y2="251.9" stroke="#3a9f86"/>
<line x1="446.7" y1="251.6" x2="446.7" y2="254.0" stroke="#3a9f86"/>
<line x1="482.3" y1="253.9" x2="482.3" y2="256.3" stroke="#3a9f86"/>
<line x1="429.7" y1="250.6" x2="429.7" y2="253.0" stroke="#3a9f86"/>
<line x1="468.8" y1="252.5" x2="468.8" y2="254.9" stroke="#3a9f86"/>
<line x1="427.5" y1="250.4" x2="427.5" y2="252.8" stroke="#3a9f86"/>
<line x1="501.0" y1="254.1" x2="501.0" y2="256.5" stroke="#3a9f86"/>
<line x1="436.8" y1="251.3" x2="436.8" y2="253.7" stroke="#3a9f86"/>
<line x1="505.2" y1="254.1" x2="505.2" y2="256.5" stroke="#3a9f86"/>
<line x1="504.1" y1="254.1" x2="504.1" y2="256.5" stroke="#3a9f86"/>
<line x1="508.0" y1="254.2" x2="508.0" y2="256.6" stroke="#3a9f86"/>
<line x1="444.6" y1="251.6" x2="444.6" y2="254.0" stroke="#3a9f86"/>
<line x1="483.4" y1="253.9" x2="483.4" y2="256.3" stroke="#3a9f86"/>
<line x1="419.1" y1="249.3" x2="419.1" y2="251.7" stroke="#3a9f86"/>
<line x1="508.7" y1="254.2" x2="508.7" y2="256.6" stroke="#3a9f86"/>
<line x1="484.4" y1="253.9" x2="484.4" y2="256.3" stroke="#3a9f86"/>
<line x1="414.1" y1="248.5" x2="414.1" y2="250.9" stroke="#3a9f86"/>
<line x1="428.1" y1="250.5" x2="428.1" y2="252.9" stroke="#3a9f86"/>
</g>
<rect x="397.60" y="241.90" width="113.80" height="96.40" fill="none" stroke="#999" stroke-width="1.1"/>
<line x1="397.60" y1="241.90" x2="397.60" y2="338.80" stroke="#5a5a5a" stroke-width="1"/>
<line x1="397.10" y1="338.30" x2="511.40" y2="338.30" stroke="#5a5a5a" stroke-width="1"/>
<line x1="394.60" y1="241.90" x2="397.60" y2="241.90" stroke="#333" stroke-width="1"/>
<line x1="394.60" y1="338.30" x2="397.60" y2="338.30" stroke="#333" stroke-width="1"/>
<text x="0" y="0" font-size="9.29" transform="translate(393.10,245.00) scale(0.9259,1)" text-anchor="end" fill="#333" stroke="#333" stroke-width="0.1">1</text>
<text x="0" y="0" font-size="9.29" transform="translate(393.10,341.40) scale(0.9259,1)" text-anchor="end" fill="#333" stroke="#333" stroke-width="0.1">0</text>
<line x1="397.60" y1="338.30" x2="397.60" y2="341.30" stroke="#333" stroke-width="1"/>
<text x="0" y="0" font-size="9.29" transform="translate(397.60,349.90) scale(0.9259,1)" text-anchor="middle" fill="#333" stroke="#333" stroke-width="0.1">0</text>
<line x1="453.50" y1="338.30" x2="453.50" y2="341.30" stroke="#333" stroke-width="1"/>
<text x="0" y="0" font-size="9.29" transform="translate(453.50,349.90) scale(0.9259,1)" text-anchor="middle" fill="#333" stroke="#333" stroke-width="0.1">2000</text>
<line x1="509.40" y1="338.30" x2="509.40" y2="341.30" stroke="#333" stroke-width="1"/>
<text x="0" y="0" font-size="9.29" transform="translate(509.40,349.90) scale(0.9259,1)" text-anchor="middle" fill="#333" stroke="#333" stroke-width="0.1">4000</text>
<rect x="405.30" y="284.00" width="8.90" height="8.60" fill="#3a9f86" stroke="none" stroke-width="1"/>
<rect x="405.30" y="294.10" width="8.90" height="8.60" fill="#555555" stroke="none" stroke-width="1"/>
<text x="0" y="0" font-size="9.29" transform="translate(416.00,291.00) scale(0.9259,1)" fill="#333" stroke="#333" stroke-width="0.1">n=392</text>
<text x="0" y="0" font-size="9.29" transform="translate(416.00,301.20) scale(0.9259,1)" fill="#333" stroke="#333" stroke-width="0.1">n=392</text>
<text x="0" y="0" font-size="9.29" transform="translate(402.90,330.00) scale(0.9259,1)" fill="#333" stroke="#333" stroke-width="0.1">p = 2.2×10<tspan font-size="4.97" dy="-3.0" dx="-0.3">−5</tspan></text>
<text x="0" y="0" font-size="9.29" text-anchor="middle" fill="#333" stroke="#333" stroke-width="0.1" transform="translate(381.50,290.60) rotate(-90) scale(0.9259,1)">Probability of EFS</text>
<text x="0" y="0" font-size="9.29" transform="translate(401.90,363.20) scale(0.9259,1)" fill="#333" stroke="#333" stroke-width="0.1">Time (days)</text>
<text x="0" y="0" font-size="9.29" transform="translate(400.40,237.80) scale(0.9259,1)" stroke="#222" stroke-width="0.1"><tspan font-style="italic">ZBTB16</tspan> expression</text>
<polygon points="545.5,248.4 547.4,249.6 549.3,250.7 551.2,251.9 553.1,253.1 555.0,254.2 556.9,255.4 558.8,256.5 560.7,257.3 562.6,258.1 564.5,258.9 566.5,259.7 568.4,260.2 570.3,260.4 572.2,260.6 574.1,260.9 576.0,261.1 577.9,261.1 579.8,261.1 581.7,261.1 583.6,261.1 585.5,261.1 587.4,261.1 589.3,261.1 591.2,261.1 593.1,261.1 595.0,261.1 596.9,261.1 598.8,261.1 600.7,261.1 602.6,261.1 604.6,261.2 606.5,261.2 608.4,261.2 610.3,261.2 612.2,261.3 614.1,261.3 616.0,261.3 617.9,261.3 619.8,261.3 621.7,261.3 623.6,261.3 625.5,261.3 627.4,261.3 629.3,262.4 631.2,263.6 633.1,263.6 635.0,263.5 636.9,263.5 638.8,263.4 640.8,263.4 642.7,263.4 644.6,263.3 646.5,263.3 648.4,263.2 650.3,263.2 652.2,263.2 654.1,263.1 656.0,263.1 657.9,263.0 659.8,263.0 659.8,272.6 657.9,272.5 656.0,272.4 654.1,272.4 652.2,272.3 650.3,272.2 648.4,272.1 646.5,272.0 644.6,272.0 642.7,271.9 640.8,271.8 638.8,271.7 636.9,271.6 635.0,271.6 633.1,271.5 631.2,271.4 629.3,270.1 627.4,268.9 625.5,268.7 623.6,268.6 621.7,268.5 619.8,268.4 617.9,268.2 616.0,268.1 614.1,268.0 612.2,267.9 610.3,267.7 608.4,267.6 606.5,267.4 604.6,267.3 602.6,267.1 600.7,267.0 598.8,266.9 596.9,266.7 595.0,266.6 593.1,266.5 591.2,266.3 589.3,266.2 587.4,266.1 585.5,266.0 583.6,265.9 581.7,265.8 579.8,265.7 577.9,265.6 576.0,265.4 574.1,265.1 572.2,264.7 570.3,264.4 568.4,264.1 566.5,263.4 564.5,262.5 562.6,261.6 560.7,260.6 558.8,259.7 556.9,258.5 555.0,257.2 553.1,256.0 551.2,254.7 549.3,253.4 547.4,252.1 545.5,250.8" fill="rgba(0,0,0,0.19)"/>
<polygon points="545.5,241.2 547.4,242.0 549.3,242.7 551.2,243.5 553.1,244.2 555.0,245.0 556.9,245.7 558.8,246.4 560.7,247.2 562.6,247.7 564.5,247.9 566.5,248.1 568.4,248.3 570.3,248.5 572.2,248.7 574.1,248.9 576.0,249.1 577.9,249.2 579.8,249.3 581.7,249.4 583.6,249.5 585.5,249.6 587.4,249.7 589.3,249.8 591.2,249.9 593.1,250.0 595.0,250.1 596.9,250.2 598.8,250.2 600.7,250.3 602.6,250.3 604.6,250.4 606.5,250.5 608.4,250.5 610.3,250.6 612.2,250.6 614.1,250.7 616.0,250.8 617.9,250.8 619.8,250.9 621.7,250.9 623.6,251.8 625.5,252.9 627.4,253.0 629.3,253.0 631.2,253.0 633.1,252.9 635.0,252.9 636.9,252.8 638.8,252.8 640.8,252.8 642.7,252.7 644.6,252.7 646.5,252.7 648.4,252.6 650.3,252.6 652.2,252.6 654.1,252.5 656.0,252.5 657.9,252.4 659.8,252.4 659.8,258.4 657.9,258.4 656.0,258.3 654.1,258.3 652.2,258.2 650.3,258.2 648.4,258.2 646.5,258.1 644.6,258.1 642.7,258.1 640.8,258.0 638.8,258.0 636.9,257.9 635.0,257.9 633.1,257.9 631.2,257.8 629.3,257.8 627.4,257.8 625.5,257.6 623.6,256.4 621.7,255.4 619.8,255.3 617.9,255.2 616.0,255.0 614.1,254.9 612.2,254.8 610.3,254.6 608.4,254.5 606.5,254.4 604.6,254.2 602.6,254.1 600.7,253.9 598.8,253.8 596.9,253.7 595.0,253.5 593.1,253.4 591.2,253.2 589.3,253.0 587.4,252.9 585.5,252.7 583.6,252.5 581.7,252.3 579.8,252.2 577.9,252.0 576.0,251.8 574.1,251.5 572.2,251.2 570.3,251.0 568.4,250.7 566.5,250.4 564.5,250.2 562.6,249.9 560.7,249.3 558.8,248.5 556.9,247.7 555.0,246.8 553.1,246.0 551.2,245.2 549.3,244.4 547.4,243.6 545.5,242.8" fill="rgba(58,165,139,0.33)"/>
<path d="M545.5,241.9 L545.5,249.6 L547.1,249.6 L547.1,250.6 L548.7,250.6 L548.7,251.7 L550.3,251.7 L550.3,252.7 L551.9,252.7 L551.9,253.7 L553.5,253.7 L553.5,254.8 L555.1,254.8 L555.1,255.8 L556.7,255.8 L556.7,256.8 L558.3,256.8 L558.3,257.8 L559.9,257.8 L559.9,258.6 L561.5,258.6 L561.5,259.3 L563.1,259.3 L563.1,260.0 L564.7,260.0 L564.7,260.8 L566.3,260.8 L566.3,261.5 L567.9,261.5 L567.9,262.1 L569.5,262.1 L569.5,262.3 L571.1,262.3 L571.1,262.5 L572.7,262.5 L572.7,262.8 L574.3,262.8 L574.3,263.0 L575.9,263.0 L575.9,263.2 L577.5,263.2 L577.5,263.3 L579.1,263.3 L579.1,263.4 L580.7,263.4 L580.7,263.4 L582.3,263.4 L582.3,263.5 L583.9,263.5 L583.9,263.5 L585.5,263.5 L585.5,263.5 L587.1,263.5 L587.1,263.6 L588.7,263.6 L588.7,263.6 L590.3,263.6 L590.3,263.7 L591.9,263.7 L591.9,263.7 L593.5,263.7 L593.5,263.8 L595.1,263.8 L595.1,263.8 L596.7,263.8 L596.7,263.9 L598.3,263.9 L598.3,264.0 L599.9,264.0 L599.9,264.0 L601.5,264.0 L601.5,264.1 L603.1,264.1 L603.1,264.2 L604.7,264.2 L604.7,264.2 L606.3,264.2 L606.3,264.3 L607.9,264.3 L607.9,264.4 L609.5,264.4 L609.5,264.4 L611.1,264.4 L611.1,264.5 L612.7,264.5 L612.7,264.6 L614.3,264.6 L614.3,264.6 L615.9,264.6 L615.9,264.7 L617.5,264.7 L617.5,264.8 L619.1,264.8 L619.1,264.8 L620.7,264.8 L620.7,264.9 L622.3,264.9 L622.3,264.9 L623.9,264.9 L623.9,265.0 L625.5,265.0 L625.5,265.0 L627.1,265.0 L627.1,265.1 L628.7,265.1 L628.7,265.8 L630.3,265.8 L630.3,266.9 L631.9,266.9 L631.9,267.5 L633.5,267.5 L633.5,267.5 L635.1,267.5 L635.1,267.5 L636.7,267.5 L636.7,267.6 L638.3,267.6 L638.3,267.6 L639.9,267.6 L639.9,267.6 L641.5,267.6 L641.5,267.6 L643.1,267.6 L643.1,267.6 L644.7,267.6 L644.7,267.6 L646.3,267.6 L646.3,267.7 L647.9,267.7 L647.9,267.7 L649.5,267.7 L649.5,267.7 L651.1,267.7 L651.1,267.7 L652.7,267.7 L652.7,267.7 L654.3,267.7 L654.3,267.7 L655.9,267.7 L655.9,267.8 L657.5,267.8 L657.5,267.8 L659.1,267.8 L659.1,267.8 L659.8,267.8 L659.8,267.8" stroke="#555555" stroke-width="1.1" fill="none"/>
<path d="M545.5,241.9 L547.1,242.0 L547.1,242.7 L548.7,242.7 L548.7,243.3 L550.3,243.3 L550.3,244.0 L551.9,244.0 L551.9,244.6 L553.5,244.6 L553.5,245.3 L555.1,245.3 L555.1,245.9 L556.7,245.9 L556.7,246.6 L558.3,246.6 L558.3,247.2 L559.9,247.2 L559.9,247.9 L561.5,247.9 L561.5,248.5 L563.1,248.5 L563.1,248.8 L564.7,248.8 L564.7,249.0 L566.3,249.0 L566.3,249.2 L567.9,249.2 L567.9,249.4 L569.5,249.4 L569.5,249.6 L571.1,249.6 L571.1,249.8 L572.7,249.8 L572.7,250.0 L574.3,250.0 L574.3,250.2 L575.9,250.2 L575.9,250.4 L577.5,250.4 L577.5,250.6 L579.1,250.6 L579.1,250.7 L580.7,250.7 L580.7,250.8 L582.3,250.8 L582.3,250.9 L583.9,250.9 L583.9,251.0 L585.5,251.0 L585.5,251.1 L587.1,251.1 L587.1,251.3 L588.7,251.3 L588.7,251.4 L590.3,251.4 L590.3,251.5 L591.9,251.5 L591.9,251.6 L593.5,251.6 L593.5,251.7 L595.1,251.7 L595.1,251.8 L596.7,251.8 L596.7,251.9 L598.3,251.9 L598.3,252.0 L599.9,252.0 L599.9,252.1 L601.5,252.1 L601.5,252.1 L603.1,252.1 L603.1,252.2 L604.7,252.2 L604.7,252.3 L606.3,252.3 L606.3,252.4 L607.9,252.4 L607.9,252.5 L609.5,252.5 L609.5,252.6 L611.1,252.6 L611.1,252.6 L612.7,252.6 L612.7,252.7 L614.3,252.7 L614.3,252.8 L615.9,252.8 L615.9,252.9 L617.5,252.9 L617.5,253.0 L619.1,253.0 L619.1,253.0 L620.7,253.0 L620.7,253.1 L622.3,253.1 L622.3,253.3 L623.9,253.3 L623.9,254.3 L625.5,254.3 L625.5,255.2 L627.1,255.2 L627.1,255.4 L628.7,255.4 L628.7,255.4 L630.3,255.4 L630.3,255.4 L631.9,255.4 L631.9,255.4 L633.5,255.4 L633.5,255.4 L635.1,255.4 L635.1,255.4 L636.7,255.4 L636.7,255.4 L638.3,255.4 L638.3,255.4 L639.9,255.4 L639.9,255.4 L641.5,255.4 L641.5,255.4 L643.1,255.4 L643.1,255.4 L644.7,255.4 L644.7,255.4 L646.3,255.4 L646.3,255.4 L647.9,255.4 L647.9,255.4 L649.5,255.4 L649.5,255.4 L651.1,255.4 L651.1,255.4 L652.7,255.4 L652.7,255.4 L654.3,255.4 L654.3,255.4 L655.9,255.4 L655.9,255.4 L657.5,255.4 L657.5,255.4 L659.1,255.4 L659.1,255.4 L659.8,255.4 L659.8,255.4" stroke="#3a9f86" stroke-width="1.1" fill="none"/>
<g stroke-width="0.7">
<line x1="572.0" y1="261.5" x2="572.0" y2="263.9" stroke="#555555"/>
<line x1="599.8" y1="262.8" x2="599.8" y2="265.2" stroke="#555555"/>
<line x1="654.5" y1="266.5" x2="654.5" y2="268.9" stroke="#555555"/>
<line x1="641.6" y1="266.4" x2="641.6" y2="268.8" stroke="#555555"/>
<line x1="597.5" y1="262.7" x2="597.5" y2="265.1" stroke="#555555"/>
<line x1="643.4" y1="266.4" x2="643.4" y2="268.8" stroke="#555555"/>
<line x1="557.4" y1="256.1" x2="557.4" y2="258.5" stroke="#555555"/>
<line x1="619.3" y1="263.6" x2="619.3" y2="266.0" stroke="#555555"/>
<line x1="604.1" y1="263.0" x2="604.1" y2="265.4" stroke="#555555"/>
<line x1="568.0" y1="260.9" x2="568.0" y2="263.3" stroke="#555555"/>
<line x1="653.0" y1="266.5" x2="653.0" y2="268.9" stroke="#555555"/>
<line x1="629.8" y1="265.4" x2="629.8" y2="267.8" stroke="#555555"/>
<line x1="659.4" y1="266.6" x2="659.4" y2="269.0" stroke="#555555"/>
<line x1="628.2" y1="264.3" x2="628.2" y2="266.7" stroke="#555555"/>
<line x1="626.5" y1="263.9" x2="626.5" y2="266.3" stroke="#555555"/>
<line x1="574.9" y1="261.9" x2="574.9" y2="264.3" stroke="#555555"/>
<line x1="612.7" y1="263.4" x2="612.7" y2="265.8" stroke="#555555"/>
<line x1="651.0" y1="266.5" x2="651.0" y2="268.9" stroke="#555555"/>
<line x1="620.6" y1="263.7" x2="620.6" y2="266.1" stroke="#555555"/>
<line x1="628.1" y1="264.2" x2="628.1" y2="266.6" stroke="#555555"/>
<line x1="611.1" y1="263.3" x2="611.1" y2="265.7" stroke="#555555"/>
<line x1="600.9" y1="262.9" x2="600.9" y2="265.3" stroke="#555555"/>
<line x1="557.6" y1="256.2" x2="557.6" y2="258.6" stroke="#555555"/>
<line x1="585.8" y1="262.4" x2="585.8" y2="264.8" stroke="#555555"/>
<line x1="582.1" y1="262.3" x2="582.1" y2="264.7" stroke="#555555"/>
<line x1="570.1" y1="261.2" x2="570.1" y2="263.6" stroke="#555555"/>
<line x1="564.8" y1="259.6" x2="564.8" y2="262.0" stroke="#555555"/>
<line x1="638.7" y1="266.4" x2="638.7" y2="268.8" stroke="#555555"/>
<line x1="659.4" y1="266.6" x2="659.4" y2="269.0" stroke="#555555"/>
<line x1="633.5" y1="266.3" x2="633.5" y2="268.7" stroke="#555555"/>
<line x1="645.3" y1="266.4" x2="645.3" y2="268.8" stroke="#555555"/>
<line x1="584.8" y1="262.3" x2="584.8" y2="264.7" stroke="#555555"/>
<line x1="646.9" y1="266.5" x2="646.9" y2="268.9" stroke="#555555"/>
<line x1="603.2" y1="263.0" x2="603.2" y2="265.4" stroke="#555555"/>
<line x1="647.4" y1="266.5" x2="647.4" y2="268.9" stroke="#555555"/>
<line x1="588.0" y1="262.4" x2="588.0" y2="264.8" stroke="#555555"/>
<line x1="594.7" y1="262.6" x2="594.7" y2="265.0" stroke="#555555"/>
<line x1="617.6" y1="263.6" x2="617.6" y2="266.0" stroke="#555555"/>
<line x1="586.4" y1="262.4" x2="586.4" y2="264.8" stroke="#555555"/>
<line x1="590.3" y1="262.5" x2="590.3" y2="264.9" stroke="#555555"/>
<line x1="636.1" y1="266.4" x2="636.1" y2="268.8" stroke="#555555"/>
<line x1="641.7" y1="266.4" x2="641.7" y2="268.8" stroke="#555555"/>
<line x1="658.4" y1="266.6" x2="658.4" y2="269.0" stroke="#555555"/>
<line x1="629.6" y1="265.2" x2="629.6" y2="267.6" stroke="#555555"/>
<line x1="600.1" y1="262.8" x2="600.1" y2="265.2" stroke="#555555"/>
<line x1="612.0" y1="263.4" x2="612.0" y2="265.8" stroke="#555555"/>
<line x1="623.2" y1="263.7" x2="623.2" y2="266.1" stroke="#555555"/>
<line x1="623.8" y1="263.8" x2="623.8" y2="266.2" stroke="#555555"/>
<line x1="652.8" y1="266.5" x2="652.8" y2="268.9" stroke="#555555"/>
<line x1="621.4" y1="263.7" x2="621.4" y2="266.1" stroke="#555555"/>
<line x1="656.5" y1="266.6" x2="656.5" y2="269.0" stroke="#555555"/>
<line x1="612.9" y1="263.4" x2="612.9" y2="265.8" stroke="#555555"/>
<line x1="609.8" y1="263.3" x2="609.8" y2="265.7" stroke="#555555"/>
<line x1="560.8" y1="257.8" x2="560.8" y2="260.2" stroke="#555555"/>
<line x1="597.3" y1="262.7" x2="597.3" y2="265.1" stroke="#555555"/>
<line x1="613.4" y1="263.4" x2="613.4" y2="265.8" stroke="#555555"/>
<line x1="557.6" y1="256.2" x2="557.6" y2="258.6" stroke="#555555"/>
<line x1="609.1" y1="263.2" x2="609.1" y2="265.6" stroke="#555555"/>
<line x1="573.4" y1="261.7" x2="573.4" y2="264.1" stroke="#555555"/>
<line x1="591.3" y1="262.5" x2="591.3" y2="264.9" stroke="#555555"/>
<line x1="649.9" y1="254.2" x2="649.9" y2="256.6" stroke="#3a9f86"/>
<line x1="652.6" y1="254.2" x2="652.6" y2="256.6" stroke="#3a9f86"/>
<line x1="573.2" y1="248.9" x2="573.2" y2="251.3" stroke="#3a9f86"/>
<line x1="623.4" y1="252.8" x2="623.4" y2="255.2" stroke="#3a9f86"/>
<line x1="613.7" y1="251.6" x2="613.7" y2="254.0" stroke="#3a9f86"/>
<line x1="564.8" y1="247.9" x2="564.8" y2="250.3" stroke="#3a9f86"/>
<line x1="594.5" y1="250.6" x2="594.5" y2="253.0" stroke="#3a9f86"/>
<line x1="618.3" y1="251.8" x2="618.3" y2="254.2" stroke="#3a9f86"/>
<line x1="607.7" y1="251.3" x2="607.7" y2="253.7" stroke="#3a9f86"/>
<line x1="621.7" y1="252.0" x2="621.7" y2="254.4" stroke="#3a9f86"/>
<line x1="566.6" y1="248.1" x2="566.6" y2="250.5" stroke="#3a9f86"/>
<line x1="625.7" y1="254.2" x2="625.7" y2="256.6" stroke="#3a9f86"/>
<line x1="625.6" y1="254.1" x2="625.6" y2="256.5" stroke="#3a9f86"/>
<line x1="582.5" y1="249.7" x2="582.5" y2="252.1" stroke="#3a9f86"/>
<line x1="621.4" y1="252.0" x2="621.4" y2="254.4" stroke="#3a9f86"/>
<line x1="654.2" y1="254.2" x2="654.2" y2="256.6" stroke="#3a9f86"/>
<line x1="650.5" y1="254.2" x2="650.5" y2="256.6" stroke="#3a9f86"/>
<line x1="626.1" y1="254.2" x2="626.1" y2="256.6" stroke="#3a9f86"/>
<line x1="617.0" y1="251.7" x2="617.0" y2="254.1" stroke="#3a9f86"/>
<line x1="638.2" y1="254.2" x2="638.2" y2="256.6" stroke="#3a9f86"/>
<line x1="610.5" y1="251.4" x2="610.5" y2="253.8" stroke="#3a9f86"/>
<line x1="634.3" y1="254.2" x2="634.3" y2="256.6" stroke="#3a9f86"/>
<line x1="602.4" y1="251.0" x2="602.4" y2="253.4" stroke="#3a9f86"/>
<line x1="620.3" y1="251.9" x2="620.3" y2="254.3" stroke="#3a9f86"/>
<line x1="636.7" y1="254.2" x2="636.7" y2="256.6" stroke="#3a9f86"/>
<line x1="623.1" y1="252.6" x2="623.1" y2="255.0" stroke="#3a9f86"/>
<line x1="624.8" y1="253.6" x2="624.8" y2="256.0" stroke="#3a9f86"/>
<line x1="603.6" y1="251.1" x2="603.6" y2="253.5" stroke="#3a9f86"/>
<line x1="600.1" y1="250.9" x2="600.1" y2="253.3" stroke="#3a9f86"/>
<line x1="629.6" y1="254.2" x2="629.6" y2="256.6" stroke="#3a9f86"/>
<line x1="609.8" y1="251.4" x2="609.8" y2="253.8" stroke="#3a9f86"/>
<line x1="609.3" y1="251.3" x2="609.3" y2="253.7" stroke="#3a9f86"/>
<line x1="603.0" y1="251.0" x2="603.0" y2="253.4" stroke="#3a9f86"/>
<line x1="593.8" y1="250.5" x2="593.8" y2="252.9" stroke="#3a9f86"/>
<line x1="626.9" y1="254.2" x2="626.9" y2="256.6" stroke="#3a9f86"/>
<line x1="649.4" y1="254.2" x2="649.4" y2="256.6" stroke="#3a9f86"/>
<line x1="583.1" y1="249.8" x2="583.1" y2="252.2" stroke="#3a9f86"/>
<line x1="629.1" y1="254.2" x2="629.1" y2="256.6" stroke="#3a9f86"/>
<line x1="618.1" y1="251.8" x2="618.1" y2="254.2" stroke="#3a9f86"/>
<line x1="628.0" y1="254.2" x2="628.0" y2="256.6" stroke="#3a9f86"/>
<line x1="630.4" y1="254.2" x2="630.4" y2="256.6" stroke="#3a9f86"/>
<line x1="605.2" y1="251.1" x2="605.2" y2="253.5" stroke="#3a9f86"/>
<line x1="557.4" y1="245.7" x2="557.4" y2="248.1" stroke="#3a9f86"/>
<line x1="601.4" y1="250.9" x2="601.4" y2="253.3" stroke="#3a9f86"/>
<line x1="617.1" y1="251.7" x2="617.1" y2="254.1" stroke="#3a9f86"/>
<line x1="627.3" y1="254.2" x2="627.3" y2="256.6" stroke="#3a9f86"/>
<line x1="653.6" y1="254.2" x2="653.6" y2="256.6" stroke="#3a9f86"/>
<line x1="629.8" y1="254.2" x2="629.8" y2="256.6" stroke="#3a9f86"/>
<line x1="629.4" y1="254.2" x2="629.4" y2="256.6" stroke="#3a9f86"/>
<line x1="600.1" y1="250.9" x2="600.1" y2="253.3" stroke="#3a9f86"/>
<line x1="642.1" y1="254.2" x2="642.1" y2="256.6" stroke="#3a9f86"/>
<line x1="575.1" y1="249.1" x2="575.1" y2="251.5" stroke="#3a9f86"/>
<line x1="650.0" y1="254.2" x2="650.0" y2="256.6" stroke="#3a9f86"/>
<line x1="614.0" y1="251.6" x2="614.0" y2="254.0" stroke="#3a9f86"/>
<line x1="610.5" y1="251.4" x2="610.5" y2="253.8" stroke="#3a9f86"/>
<line x1="633.0" y1="254.2" x2="633.0" y2="256.6" stroke="#3a9f86"/>
<line x1="619.1" y1="251.8" x2="619.1" y2="254.2" stroke="#3a9f86"/>
<line x1="659.4" y1="254.2" x2="659.4" y2="256.6" stroke="#3a9f86"/>
<line x1="574.0" y1="249.0" x2="574.0" y2="251.4" stroke="#3a9f86"/>
<line x1="566.3" y1="248.0" x2="566.3" y2="250.4" stroke="#3a9f86"/>
</g>
<rect x="545.50" y="241.90" width="114.60" height="96.40" fill="none" stroke="#999" stroke-width="1.1"/>
<line x1="545.50" y1="241.90" x2="545.50" y2="338.80" stroke="#5a5a5a" stroke-width="1"/>
<line x1="545.00" y1="338.30" x2="660.10" y2="338.30" stroke="#5a5a5a" stroke-width="1"/>
<line x1="542.50" y1="241.90" x2="545.50" y2="241.90" stroke="#333" stroke-width="1"/>
<line x1="542.50" y1="338.30" x2="545.50" y2="338.30" stroke="#333" stroke-width="1"/>
<text x="0" y="0" font-size="9.29" transform="translate(541.00,245.00) scale(0.9259,1)" text-anchor="end" fill="#333" stroke="#333" stroke-width="0.1">1</text>
<text x="0" y="0" font-size="9.29" transform="translate(541.00,341.40) scale(0.9259,1)" text-anchor="end" fill="#333" stroke="#333" stroke-width="0.1">0</text>
<line x1="545.50" y1="338.30" x2="545.50" y2="341.30" stroke="#333" stroke-width="1"/>
<text x="0" y="0" font-size="9.29" transform="translate(545.50,349.90) scale(0.9259,1)" text-anchor="middle" fill="#333" stroke="#333" stroke-width="0.1">0</text>
<line x1="601.80" y1="338.30" x2="601.80" y2="341.30" stroke="#333" stroke-width="1"/>
<text x="0" y="0" font-size="9.29" transform="translate(601.80,349.90) scale(0.9259,1)" text-anchor="middle" fill="#333" stroke="#333" stroke-width="0.1">2000</text>
<line x1="658.10" y1="338.30" x2="658.10" y2="341.30" stroke="#333" stroke-width="1"/>
<text x="0" y="0" font-size="9.29" transform="translate(658.10,349.90) scale(0.9259,1)" text-anchor="middle" fill="#333" stroke="#333" stroke-width="0.1">4000</text>
<rect x="552.40" y="284.00" width="8.90" height="8.60" fill="#3a9f86" stroke="none" stroke-width="1"/>
<rect x="552.40" y="294.10" width="8.90" height="8.60" fill="#555555" stroke="none" stroke-width="1"/>
<text x="0" y="0" font-size="9.29" transform="translate(563.10,291.00) scale(0.9259,1)" fill="#333" stroke="#333" stroke-width="0.1">n=392</text>
<text x="0" y="0" font-size="9.29" transform="translate(563.10,301.20) scale(0.9259,1)" fill="#333" stroke="#333" stroke-width="0.1">n=392</text>
<text x="0" y="0" font-size="9.29" transform="translate(550.90,330.00) scale(0.9259,1)" fill="#333" stroke="#333" stroke-width="0.1">p = 2.5×10<tspan font-size="4.97" dy="-3.0" dx="-0.3">−6</tspan></text>
<text x="0" y="0" font-size="9.29" transform="translate(546.50,237.80) scale(0.9259,1)" stroke="#222" stroke-width="0.1">Module score</text>
<rect x="271.80" y="375.40" width="14.20" height="13.50" fill="#3a9f86" stroke="none" stroke-width="1"/>
<text x="0" y="0" font-size="12.42" transform="translate(288.50,386.60) scale(0.9259,1)">Bottom 33%</text>
<rect x="384.90" y="375.40" width="13.80" height="13.50" fill="#555555" stroke="none" stroke-width="1"/>
<text x="0" y="0" font-size="12.42" transform="translate(401.90,386.60) scale(0.9259,1)">Top 33%</text>
<text x="0" y="0" font-size="9.29" transform="translate(78.00,501.00) scale(0.9259,1)" text-anchor="middle" stroke="#222" stroke-width="0.1"><tspan font-style="italic">ZBTB16</tspan> top 33%</text>
<text x="0" y="0" font-size="9.29" transform="translate(78.00,511.40) scale(0.9259,1)" text-anchor="middle" stroke="#222" stroke-width="0.1">vs</text>
<text x="0" y="0" font-size="9.29" transform="translate(78.00,521.50) scale(0.9259,1)" text-anchor="middle" stroke="#222" stroke-width="0.1"><tspan font-style="italic">ZBTB16</tspan> bottom 33%</text>
<path d="M130,478.3 L126,478.3 L126,538.2 L130,538.2" stroke="#333" stroke-width="1" fill="none"/>
<text x="0" y="0" font-size="9.29" transform="translate(251.00,451.50) scale(0.9259,1)" text-anchor="middle" stroke="#222" stroke-width="0.1">CoxPH model</text>
<text x="0" y="0" font-size="9.29" transform="translate(251.00,462.00) scale(0.9259,1)" text-anchor="middle" stroke="#222" stroke-width="0.1">(<tspan font-style="italic">N</tspan>)</text>
<text x="0" y="0" font-size="9.29" transform="translate(181.30,486.20) scale(0.9259,1)" text-anchor="middle" stroke="#222" stroke-width="0.1">ETP vs</text>
<text x="0" y="0" font-size="9.29" transform="translate(181.30,497.20) scale(0.9259,1)" text-anchor="middle" stroke="#222" stroke-width="0.1">Non-ETP only</text>
<text x="0" y="0" font-size="9.29" transform="translate(250.60,491.90) scale(0.9259,1)" text-anchor="middle" stroke="#222" stroke-width="0.1">581</text>
<text x="0" y="0" font-size="9.29" transform="translate(181.30,522.40) scale(0.9259,1)" text-anchor="middle" stroke="#222" stroke-width="0.1">ETP vs</text>
<text x="0" y="0" font-size="9.29" transform="translate(181.30,532.10) scale(0.9259,1)" text-anchor="middle" stroke="#222" stroke-width="0.1">Non-ETP + Near-ETP</text>
<text x="0" y="0" font-size="9.29" transform="translate(250.60,527.40) scale(0.9259,1)" text-anchor="middle" stroke="#222" stroke-width="0.1">697</text>
<text x="0" y="0" font-size="12.42" transform="translate(379.90,442.90) scale(0.9259,1)" text-anchor="middle" font-weight="bold" fill="#111">Overall survival (OS)</text>
<text x="0" y="0" font-size="9.29" transform="translate(322.60,461.90) scale(0.9259,1)" stroke="#222" stroke-width="0.1">−log10 <tspan font-style="italic">P</tspan></text>
<text x="0" y="0" font-size="9.29" transform="translate(388.20,461.90) scale(0.9259,1)" stroke="#222" stroke-width="0.1">HR / CI 95%</text>
<path d="M283.1,477.5 L278.8,477.5 L278.8,500.3 L283.1,500.3" stroke="#444" stroke-width="1" fill="none"/>
<path d="M283.1,513.4 L278.8,513.4 L278.8,536.2 L283.1,536.2" stroke="#444" stroke-width="1" fill="none"/>
<text x="0" y="0" font-size="9.29" transform="translate(324.00,486.00) scale(0.9259,1)" text-anchor="end" stroke="#222" stroke-width="0.1"><tspan font-style="italic">ZBTB16</tspan></text>
<text x="0" y="0" font-size="9.29" transform="translate(324.00,499.60) scale(0.9259,1)" text-anchor="end" stroke="#222" stroke-width="0.1">ETP</text>
<text x="0" y="0" font-size="9.29" transform="translate(324.00,521.00) scale(0.9259,1)" text-anchor="end" stroke="#222" stroke-width="0.1"><tspan font-style="italic">ZBTB16</tspan></text>
<text x="0" y="0" font-size="9.29" transform="translate(324.00,534.60) scale(0.9259,1)" text-anchor="end" stroke="#222" stroke-width="0.1">ETP</text>
<text x="0" y="0" font-size="9.29" transform="translate(334.20,486.00) scale(0.9259,1)" stroke="#222" stroke-width="0.1">3.9</text>
<text x="0" y="0" font-size="9.29" transform="translate(334.20,499.60) scale(0.9259,1)" stroke="#222" stroke-width="0.1">0.2</text>
<text x="0" y="0" font-size="9.29" transform="translate(334.20,521.00) scale(0.9259,1)" stroke="#222" stroke-width="0.1">3.3</text>
<text x="0" y="0" font-size="9.29" transform="translate(334.20,534.60) scale(0.9259,1)" stroke="#222" stroke-width="0.1">0.6</text>
<line x1="381.50" y1="474.00" x2="381.50" y2="539.50" stroke="#1a1a1a" stroke-width="1.25" stroke-dasharray="3.6,2.9"/>
<line x1="394.00" y1="482.20" x2="452.50" y2="482.20" stroke="#2a2a2a" stroke-width="1.7"/>
<rect x="413.10" y="480.20" width="4.00" height="4.00" fill="#000" stroke="none" stroke-width="1"/>
<line x1="374.50" y1="495.90" x2="402.00" y2="495.90" stroke="#c8c8c8" stroke-width="1.7"/>
<rect x="382.50" y="493.90" width="4.00" height="4.00" fill="#bdbdbd" stroke="none" stroke-width="1"/>
<line x1="390.30" y1="518.10" x2="437.90" y2="518.10" stroke="#2a2a2a" stroke-width="1.7"/>
<rect x="406.10" y="516.10" width="4.00" height="4.00" fill="#000" stroke="none" stroke-width="1"/>
<line x1="377.40" y1="531.50" x2="408.70" y2="531.50" stroke="#c8c8c8" stroke-width="1.7"/>
<rect x="386.20" y="529.50" width="4.00" height="4.00" fill="#bdbdbd" stroke="none" stroke-width="1"/>
<line x1="361.70" y1="539.70" x2="458.00" y2="539.70" stroke="#222" stroke-width="1.3"/>
<line x1="362.20" y1="539.70" x2="362.20" y2="543.70" stroke="#222" stroke-width="1.1"/>
<text x="0" y="0" font-size="9.29" transform="translate(362.20,553.60) scale(0.9259,1)" text-anchor="middle" fill="#333" stroke="#333" stroke-width="0.1">0</text>
<line x1="381.26" y1="539.70" x2="381.26" y2="543.70" stroke="#222" stroke-width="1.1"/>
<text x="0" y="0" font-size="9.29" transform="translate(381.26,553.60) scale(0.9259,1)" text-anchor="middle" fill="#333" stroke="#333" stroke-width="0.1">1</text>
<line x1="400.32" y1="539.70" x2="400.32" y2="543.70" stroke="#222" stroke-width="1.1"/>
<text x="0" y="0" font-size="9.29" transform="translate(400.32,553.60) scale(0.9259,1)" text-anchor="middle" fill="#333" stroke="#333" stroke-width="0.1">2</text>
<line x1="419.38" y1="539.70" x2="419.38" y2="543.70" stroke="#222" stroke-width="1.1"/>
<text x="0" y="0" font-size="9.29" transform="translate(419.38,553.60) scale(0.9259,1)" text-anchor="middle" fill="#333" stroke="#333" stroke-width="0.1">3</text>
<line x1="438.44" y1="539.70" x2="438.44" y2="543.70" stroke="#222" stroke-width="1.1"/>
<text x="0" y="0" font-size="9.29" transform="translate(438.44,553.60) scale(0.9259,1)" text-anchor="middle" fill="#333" stroke="#333" stroke-width="0.1">4</text>
<line x1="457.50" y1="539.70" x2="457.50" y2="543.70" stroke="#222" stroke-width="1.1"/>
<text x="0" y="0" font-size="9.29" transform="translate(457.50,553.60) scale(0.9259,1)" text-anchor="middle" fill="#333" stroke="#333" stroke-width="0.1">5</text>
<text x="0" y="0" font-size="12.42" transform="translate(574.80,442.90) scale(0.9259,1)" text-anchor="middle" font-weight="bold" fill="#111">Event free survival (EFS)</text>
<text x="0" y="0" font-size="9.29" transform="translate(521.10,461.90) scale(0.9259,1)" stroke="#222" stroke-width="0.1">−log10 <tspan font-style="italic">P</tspan></text>
<text x="0" y="0" font-size="9.29" transform="translate(585.30,461.90) scale(0.9259,1)" stroke="#222" stroke-width="0.1">HR / CI 95%</text>
<path d="M483.1,478.4 L478.8,478.4 L478.8,500.9 L483.1,500.9" stroke="#444" stroke-width="1" fill="none"/>
<path d="M483.1,514.0 L478.8,514.0 L478.8,537.4 L483.1,537.4" stroke="#444" stroke-width="1" fill="none"/>
<text x="0" y="0" font-size="9.29" transform="translate(523.10,486.00) scale(0.9259,1)" text-anchor="end" stroke="#222" stroke-width="0.1"><tspan font-style="italic">ZBTB16</tspan></text>
<text x="0" y="0" font-size="9.29" transform="translate(523.10,499.60) scale(0.9259,1)" text-anchor="end" stroke="#222" stroke-width="0.1">ETP</text>
<text x="0" y="0" font-size="9.29" transform="translate(523.10,521.00) scale(0.9259,1)" text-anchor="end" stroke="#222" stroke-width="0.1"><tspan font-style="italic">ZBTB16</tspan></text>
<text x="0" y="0" font-size="9.29" transform="translate(523.10,534.60) scale(0.9259,1)" text-anchor="end" stroke="#222" stroke-width="0.1">ETP</text>
<text x="0" y="0" font-size="9.29" transform="translate(531.30,486.00) scale(0.9259,1)" stroke="#222" stroke-width="0.1">3.0</text>
<text x="0" y="0" font-size="9.29" transform="translate(531.30,499.60) scale(0.9259,1)" stroke="#222" stroke-width="0.1">0.4</text>
<text x="0" y="0" font-size="9.29" transform="translate(531.30,521.00) scale(0.9259,1)" stroke="#222" stroke-width="0.1">3.4</text>
<text x="0" y="0" font-size="9.29" transform="translate(531.30,534.60) scale(0.9259,1)" stroke="#222" stroke-width="0.1">0.5</text>
<line x1="583.70" y1="474.00" x2="583.70" y2="540.00" stroke="#1a1a1a" stroke-width="1.25" stroke-dasharray="3.6,2.9"/>
<line x1="592.00" y1="481.90" x2="635.80" y2="481.90" stroke="#2a2a2a" stroke-width="1.7"/>
<rect x="607.60" y="479.90" width="4.00" height="4.00" fill="#000" stroke="none" stroke-width="1"/>
<line x1="578.00" y1="495.90" x2="609.60" y2="495.90" stroke="#c8c8c8" stroke-width="1.7"/>
<rect x="587.70" y="493.90" width="4.00" height="4.00" fill="#bdbdbd" stroke="none" stroke-width="1"/>
<line x1="592.60" y1="518.10" x2="631.20" y2="518.10" stroke="#2a2a2a" stroke-width="1.7"/>
<rect x="606.70" y="516.10" width="4.00" height="4.00" fill="#000" stroke="none" stroke-width="1"/>
<line x1="578.90" y1="531.50" x2="609.60" y2="531.50" stroke="#c8c8c8" stroke-width="1.7"/>
<rect x="587.70" y="529.50" width="4.00" height="4.00" fill="#bdbdbd" stroke="none" stroke-width="1"/>
<line x1="559.50" y1="540.30" x2="655.00" y2="540.30" stroke="#222" stroke-width="1.3"/>
<line x1="560.00" y1="540.30" x2="560.00" y2="544.30" stroke="#222" stroke-width="1.1"/>
<text x="0" y="0" font-size="9.29" transform="translate(560.00,554.40) scale(0.9259,1)" text-anchor="middle" fill="#333" stroke="#333" stroke-width="0.1">0</text>
<line x1="583.70" y1="540.30" x2="583.70" y2="544.30" stroke="#222" stroke-width="1.1"/>
<text x="0" y="0" font-size="9.29" transform="translate(583.70,554.40) scale(0.9259,1)" text-anchor="middle" fill="#333" stroke="#333" stroke-width="0.1">1</text>
<line x1="607.30" y1="540.30" x2="607.30" y2="544.30" stroke="#222" stroke-width="1.1"/>
<text x="0" y="0" font-size="9.29" transform="translate(607.30,554.40) scale(0.9259,1)" text-anchor="middle" fill="#333" stroke="#333" stroke-width="0.1">2</text>
<line x1="630.90" y1="540.30" x2="630.90" y2="544.30" stroke="#222" stroke-width="1.1"/>
<text x="0" y="0" font-size="9.29" transform="translate(630.90,554.40) scale(0.9259,1)" text-anchor="middle" fill="#333" stroke="#333" stroke-width="0.1">3</text>
<line x1="654.50" y1="540.30" x2="654.50" y2="544.30" stroke="#222" stroke-width="1.1"/>
<text x="0" y="0" font-size="9.29" transform="translate(654.50,554.40) scale(0.9259,1)" text-anchor="middle" fill="#333" stroke="#333" stroke-width="0.1">4</text>
<text x="0" y="0" font-size="9.29" transform="translate(122.60,626.30) scale(0.9259,1)" text-anchor="middle" stroke="#222" stroke-width="0.1">CoxPH model</text>
<text x="0" y="0" font-size="9.29" transform="translate(122.60,637.50) scale(0.9259,1)" text-anchor="middle" stroke="#222" stroke-width="0.1">(<tspan font-style="italic">N</tspan>)</text>
<text x="0" y="0" font-size="9.29" transform="translate(122.60,668.30) scale(0.9259,1)" text-anchor="middle" stroke="#222" stroke-width="0.1">1175</text>
<text x="0" y="0" font-size="9.29" transform="translate(122.60,705.80) scale(0.9259,1)" text-anchor="middle" stroke="#222" stroke-width="0.1">1175</text>
<text x="0" y="0" font-size="9.29" transform="translate(122.60,743.70) scale(0.9259,1)" text-anchor="middle" stroke="#222" stroke-width="0.1">1175</text>
<text x="0" y="0" font-size="12.42" transform="translate(280.10,617.70) scale(0.9259,1)" text-anchor="middle" font-weight="bold" fill="#111">Overall survival (OS)</text>
<text x="0" y="0" font-size="9.29" transform="translate(223.70,637.10) scale(0.9259,1)" stroke="#222" stroke-width="0.1">−log10 <tspan font-style="italic">P</tspan></text>
<text x="0" y="0" font-size="9.29" transform="translate(289.40,637.10) scale(0.9259,1)" stroke="#222" stroke-width="0.1">HR / CI 95%</text>
<text x="0" y="0" font-size="9.29" transform="translate(223.20,662.50) scale(0.9259,1)" text-anchor="end" stroke="#222" stroke-width="0.1"><tspan font-style="italic">ZBTB16</tspan> module</text>
<text x="0" y="0" font-size="9.29" transform="translate(223.20,676.40) scale(0.9259,1)" text-anchor="end" stroke="#222" stroke-width="0.1">BMP-119 module</text>
<text x="0" y="0" font-size="9.29" transform="translate(223.20,700.00) scale(0.9259,1)" text-anchor="end" stroke="#222" stroke-width="0.1"><tspan font-style="italic">ZBTB16</tspan> module</text>
<text x="0" y="0" font-size="9.29" transform="translate(223.20,713.90) scale(0.9259,1)" text-anchor="end" stroke="#222" stroke-width="0.1">BMP-17 module</text>
<text x="0" y="0" font-size="9.29" transform="translate(223.20,737.40) scale(0.9259,1)" text-anchor="end" stroke="#222" stroke-width="0.1"><tspan font-style="italic">ZBTB16</tspan> module</text>
<text x="0" y="0" font-size="9.29" transform="translate(223.20,751.70) scale(0.9259,1)" text-anchor="end" stroke="#222" stroke-width="0.1">BMP-9 module</text>
<path d="M150.0,654.1 L146.5,654.1 L146.5,676.9 L150.0,676.9" stroke="#444" stroke-width="1" fill="none"/>
<path d="M150.0,691.6 L146.5,691.6 L146.5,714.4 L150.0,714.4" stroke="#444" stroke-width="1" fill="none"/>
<path d="M150.0,729.5 L146.5,729.5 L146.5,752.9 L150.0,752.9" stroke="#444" stroke-width="1" fill="none"/>
<text x="0" y="0" font-size="9.29" transform="translate(236.60,662.50) scale(0.9259,1)" stroke="#222" stroke-width="0.1">4.4</text>
<text x="0" y="0" font-size="9.29" transform="translate(236.60,676.60) scale(0.9259,1)" stroke="#222" stroke-width="0.1">0.6</text>
<text x="0" y="0" font-size="9.29" transform="translate(236.60,700.20) scale(0.9259,1)" stroke="#222" stroke-width="0.1">2.2</text>
<text x="0" y="0" font-size="9.29" transform="translate(236.60,714.30) scale(0.9259,1)" stroke="#222" stroke-width="0.1">0.8</text>
<text x="0" y="0" font-size="9.29" transform="translate(236.60,737.20) scale(0.9259,1)" stroke="#222" stroke-width="0.1">7.4</text>
<text x="0" y="0" font-size="9.29" transform="translate(236.60,752.50) scale(0.9259,1)" stroke="#222" stroke-width="0.1">0.1</text>
<line x1="308.50" y1="650.00" x2="308.50" y2="756.00" stroke="#1a1a1a" stroke-width="1.25" stroke-dasharray="3.6,2.9"/>
<line x1="318.40" y1="658.80" x2="340.80" y2="658.80" stroke="#2a2a2a" stroke-width="1.7"/>
<rect x="327.00" y="656.80" width="4.00" height="4.00" fill="#000" stroke="none" stroke-width="1"/>
<line x1="305.00" y1="673.00" x2="325.50" y2="673.00" stroke="#c8c8c8" stroke-width="1.7"/>
<rect x="311.70" y="671.00" width="4.00" height="4.00" fill="#bdbdbd" stroke="none" stroke-width="1"/>
<line x1="313.20" y1="696.00" x2="339.60" y2="696.00" stroke="#2a2a2a" stroke-width="1.7"/>
<rect x="322.80" y="694.00" width="4.00" height="4.00" fill="#000" stroke="none" stroke-width="1"/>
<line x1="306.10" y1="710.60" x2="330.60" y2="710.60" stroke="#c8c8c8" stroke-width="1.7"/>
<rect x="314.70" y="708.60" width="4.00" height="4.00" fill="#bdbdbd" stroke="none" stroke-width="1"/>
<line x1="322.60" y1="733.30" x2="343.10" y2="733.30" stroke="#2a2a2a" stroke-width="1.7"/>
<rect x="329.80" y="731.30" width="4.00" height="4.00" fill="#000" stroke="none" stroke-width="1"/>
<line x1="300.70" y1="748.30" x2="316.50" y2="748.30" stroke="#c8c8c8" stroke-width="1.7"/>
<rect x="305.80" y="746.30" width="4.00" height="4.00" fill="#bdbdbd" stroke="none" stroke-width="1"/>
<line x1="263.20" y1="756.80" x2="354.20" y2="756.80" stroke="#222" stroke-width="1.3"/>
<line x1="263.70" y1="756.80" x2="263.70" y2="760.80" stroke="#222" stroke-width="1.1"/>
<text x="0" y="0" font-size="9.29" transform="translate(263.70,771.50) scale(0.9259,1)" text-anchor="middle" fill="#333" stroke="#333" stroke-width="0.1">0</text>
<line x1="308.60" y1="756.80" x2="308.60" y2="760.80" stroke="#222" stroke-width="1.1"/>
<text x="0" y="0" font-size="9.29" transform="translate(308.60,771.50) scale(0.9259,1)" text-anchor="middle" fill="#333" stroke="#333" stroke-width="0.1">1</text>
<line x1="353.70" y1="756.80" x2="353.70" y2="760.80" stroke="#222" stroke-width="1.1"/>
<text x="0" y="0" font-size="9.29" transform="translate(353.70,771.50) scale(0.9259,1)" text-anchor="middle" fill="#333" stroke="#333" stroke-width="0.1">2</text>
<text x="0" y="0" font-size="12.42" transform="translate(521.00,617.70) scale(0.9259,1)" text-anchor="middle" font-weight="bold" fill="#111">Event free survival (EFS)</text>
<text x="0" y="0" font-size="9.29" transform="translate(467.20,637.10) scale(0.9259,1)" stroke="#222" stroke-width="0.1">−log10 <tspan font-style="italic">P</tspan></text>
<text x="0" y="0" font-size="9.29" transform="translate(532.50,637.10) scale(0.9259,1)" stroke="#222" stroke-width="0.1">HR / CI 95%</text>
<text x="0" y="0" font-size="9.29" transform="translate(466.00,662.50) scale(0.9259,1)" text-anchor="end" stroke="#222" stroke-width="0.1"><tspan font-style="italic">ZBTB16</tspan> module</text>
<text x="0" y="0" font-size="9.29" transform="translate(466.00,676.40) scale(0.9259,1)" text-anchor="end" stroke="#222" stroke-width="0.1">BMP-119 module</text>
<text x="0" y="0" font-size="9.29" transform="translate(466.00,700.00) scale(0.9259,1)" text-anchor="end" stroke="#222" stroke-width="0.1"><tspan font-style="italic">ZBTB16</tspan> module</text>
<text x="0" y="0" font-size="9.29" transform="translate(466.00,713.90) scale(0.9259,1)" text-anchor="end" stroke="#222" stroke-width="0.1">BMP-17 module</text>
<text x="0" y="0" font-size="9.29" transform="translate(466.00,737.40) scale(0.9259,1)" text-anchor="end" stroke="#222" stroke-width="0.1"><tspan font-style="italic">ZBTB16</tspan> module</text>
<text x="0" y="0" font-size="9.29" transform="translate(466.00,751.70) scale(0.9259,1)" text-anchor="end" stroke="#222" stroke-width="0.1">BMP-9 module</text>
<path d="M393.4,654.3 L389.4,654.3 L389.4,677.2 L393.4,677.2" stroke="#444" stroke-width="1" fill="none"/>
<path d="M393.4,691.8 L389.4,691.8 L389.4,715.4 L393.4,715.4" stroke="#444" stroke-width="1" fill="none"/>
<path d="M393.4,729.0 L389.4,729.0 L389.4,753.0 L393.4,753.0" stroke="#444" stroke-width="1" fill="none"/>
<text x="0" y="0" font-size="9.29" transform="translate(480.10,662.50) scale(0.9259,1)" stroke="#222" stroke-width="0.1">7.2</text>
<text x="0" y="0" font-size="9.29" transform="translate(480.10,676.60) scale(0.9259,1)" stroke="#222" stroke-width="0.1">0.6</text>
<text x="0" y="0" font-size="9.29" transform="translate(480.10,700.20) scale(0.9259,1)" stroke="#222" stroke-width="0.1">4.2</text>
<text x="0" y="0" font-size="9.29" transform="translate(480.10,714.30) scale(0.9259,1)" stroke="#222" stroke-width="0.1">0.6</text>
<text x="0" y="0" font-size="9.29" transform="translate(480.10,737.20) scale(0.9259,1)" stroke="#222" stroke-width="0.1">11.9</text>
<text x="0" y="0" font-size="9.29" transform="translate(480.10,752.50) scale(0.9259,1)" stroke="#222" stroke-width="0.1">0.1</text>
<line x1="551.50" y1="651.70" x2="551.50" y2="756.80" stroke="#1a1a1a" stroke-width="1.25" stroke-dasharray="3.6,2.9"/>
<line x1="564.60" y1="658.80" x2="584.40" y2="658.80" stroke="#2a2a2a" stroke-width="1.7"/>
<rect x="571.50" y="656.80" width="4.00" height="4.00" fill="#000" stroke="none" stroke-width="1"/>
<line x1="548.60" y1="673.00" x2="564.60" y2="673.00" stroke="#c8c8c8" stroke-width="1.7"/>
<rect x="553.60" y="671.00" width="4.00" height="4.00" fill="#bdbdbd" stroke="none" stroke-width="1"/>
<line x1="561.00" y1="696.00" x2="583.90" y2="696.00" stroke="#2a2a2a" stroke-width="1.7"/>
<rect x="569.70" y="694.00" width="4.00" height="4.00" fill="#000" stroke="none" stroke-width="1"/>
<line x1="548.10" y1="710.60" x2="567.40" y2="710.60" stroke="#c8c8c8" stroke-width="1.7"/>
<rect x="554.80" y="708.60" width="4.00" height="4.00" fill="#bdbdbd" stroke="none" stroke-width="1"/>
<line x1="568.60" y1="733.30" x2="586.30" y2="733.30" stroke="#2a2a2a" stroke-width="1.7"/>
<rect x="574.80" y="731.30" width="4.00" height="4.00" fill="#000" stroke="none" stroke-width="1"/>
<line x1="545.00" y1="748.30" x2="558.00" y2="748.30" stroke="#c8c8c8" stroke-width="1.7"/>
<rect x="548.90" y="746.30" width="4.00" height="4.00" fill="#bdbdbd" stroke="none" stroke-width="1"/>
<line x1="506.30" y1="757.30" x2="596.90" y2="757.30" stroke="#222" stroke-width="1.3"/>
<line x1="506.80" y1="757.30" x2="506.80" y2="761.30" stroke="#222" stroke-width="1.1"/>
<text x="0" y="0" font-size="9.29" transform="translate(506.80,771.50) scale(0.9259,1)" text-anchor="middle" fill="#333" stroke="#333" stroke-width="0.1">0</text>
<line x1="551.50" y1="757.30" x2="551.50" y2="761.30" stroke="#222" stroke-width="1.1"/>
<text x="0" y="0" font-size="9.29" transform="translate(551.50,771.50) scale(0.9259,1)" text-anchor="middle" fill="#333" stroke="#333" stroke-width="0.1">1</text>
<line x1="596.40" y1="757.30" x2="596.40" y2="761.30" stroke="#222" stroke-width="1.1"/>
<text x="0" y="0" font-size="9.29" transform="translate(596.40,771.50) scale(0.9259,1)" text-anchor="middle" fill="#333" stroke="#333" stroke-width="0.1">2</text>
</svg></body></html>
